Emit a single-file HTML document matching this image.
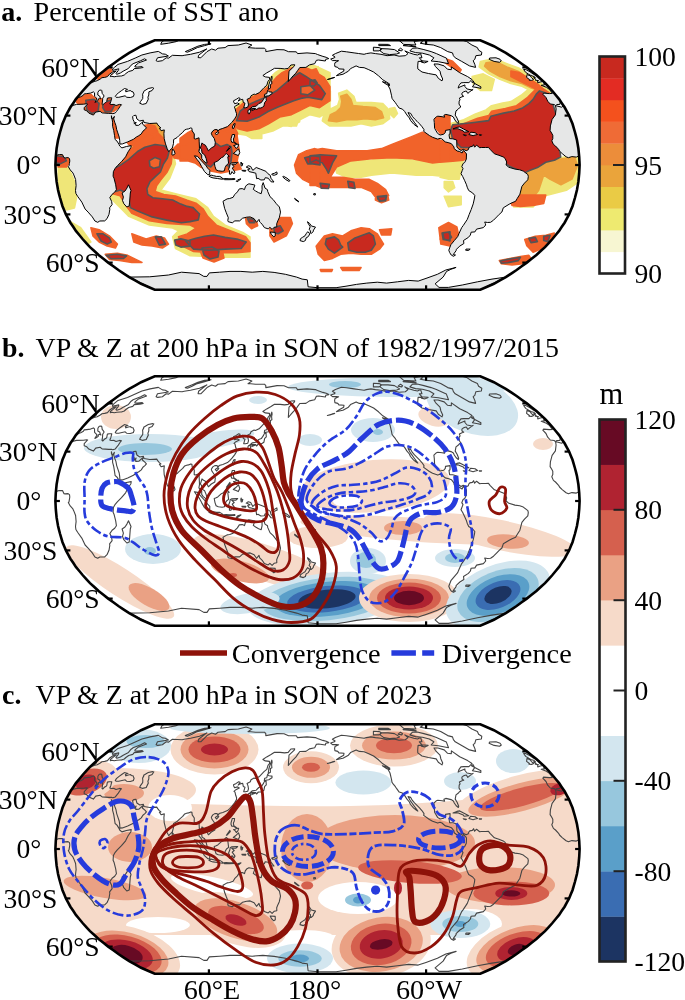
<!DOCTYPE html>
<html><head><meta charset="utf-8"><title>Figure</title><style>html,body{margin:0;padding:0;background:#fff;width:685px;height:1000px;overflow:hidden}svg{display:block}</style></head><body>
<svg width="685" height="1000" viewBox="0 0 685 1000">
<rect width="685" height="1000" fill="#fff"/>
<clipPath id="clipa"><path d="M154.7,40.2 L163.7,40.2 L172.8,40.2 L181.8,40.2 L190.8,40.2 L199.9,40.2 L208.9,40.2 L218.0,40.2 L227.0,40.2 L236.1,40.2 L245.1,40.2 L254.2,40.2 L263.2,40.2 L272.3,40.2 L281.3,40.2 L290.4,40.2 L299.4,40.2 L308.5,40.2 L317.5,40.2 L326.5,40.2 L335.6,40.2 L344.6,40.2 L353.7,40.2 L362.7,40.2 L371.8,40.2 L380.8,40.2 L389.9,40.2 L398.9,40.2 L408.0,40.2 L417.0,40.2 L426.1,40.2 L435.1,40.2 L444.2,40.2 L453.2,40.2 L462.2,40.2 L471.3,40.2 L480.3,40.2 L480.3,40.2 L487.1,43.2 L493.9,46.2 L499.9,49.6 L505.8,52.9 L511.2,56.4 L516.6,60.0 L521.7,63.7 L526.8,67.4 L531.6,71.2 L536.4,75.0 L540.7,79.0 L545.0,82.9 L548.7,86.9 L552.4,91.0 L555.7,95.0 L559.1,99.1 L561.8,103.2 L564.6,107.3 L566.8,111.4 L569.1,115.6 L570.8,119.7 L572.5,123.8 L573.7,127.9 L574.9,132.0 L576.0,136.2 L577.0,140.3 L577.7,144.4 L578.4,148.5 L578.8,152.6 L579.2,156.8 L579.4,160.9 L579.6,165.0 L579.4,169.1 L579.2,173.2 L578.8,177.4 L578.4,181.5 L577.7,185.6 L577.0,189.7 L576.0,193.8 L574.9,198.0 L573.7,202.1 L572.5,206.2 L570.8,210.3 L569.1,214.4 L566.8,218.6 L564.6,222.7 L561.8,226.8 L559.1,230.9 L555.7,235.0 L552.4,239.0 L548.7,243.1 L545.0,247.1 L540.7,251.0 L536.4,255.0 L531.6,258.8 L526.8,262.6 L521.7,266.3 L516.6,270.0 L511.2,273.6 L505.8,277.1 L499.9,280.4 L493.9,283.8 L487.1,286.8 L480.3,289.8 L480.3,289.8 L471.3,289.8 L462.2,289.8 L453.2,289.8 L444.2,289.8 L435.1,289.8 L426.1,289.8 L417.0,289.8 L408.0,289.8 L398.9,289.8 L389.9,289.8 L380.8,289.8 L371.8,289.8 L362.7,289.8 L353.7,289.8 L344.6,289.8 L335.6,289.8 L326.5,289.8 L317.5,289.8 L308.5,289.8 L299.4,289.8 L290.4,289.8 L281.3,289.8 L272.3,289.8 L263.2,289.8 L254.2,289.8 L245.1,289.8 L236.1,289.8 L227.0,289.8 L218.0,289.8 L208.9,289.8 L199.9,289.8 L190.8,289.8 L181.8,289.8 L172.8,289.8 L163.7,289.8 L154.7,289.8 L154.7,289.8 L147.9,286.8 L141.1,283.8 L135.1,280.4 L129.2,277.1 L123.8,273.6 L118.4,270.0 L113.3,266.3 L108.2,262.6 L103.4,258.8 L98.6,255.0 L94.3,251.0 L90.0,247.1 L86.3,243.1 L82.6,239.0 L79.3,235.0 L75.9,230.9 L73.2,226.8 L70.4,222.7 L68.2,218.6 L65.9,214.4 L64.2,210.3 L62.5,206.2 L61.3,202.1 L60.1,198.0 L59.0,193.8 L58.0,189.7 L57.3,185.6 L56.6,181.5 L56.2,177.4 L55.8,173.2 L55.6,169.1 L55.4,165.0 L55.6,160.9 L55.8,156.8 L56.2,152.6 L56.6,148.5 L57.3,144.4 L58.0,140.3 L59.0,136.2 L60.1,132.0 L61.3,127.9 L62.5,123.8 L64.2,119.7 L65.9,115.6 L68.2,111.4 L70.4,107.3 L73.2,103.2 L75.9,99.1 L79.3,95.0 L82.6,91.0 L86.3,86.9 L90.0,82.9 L94.3,79.0 L98.6,75.0 L103.4,71.2 L108.2,67.4 L113.3,63.7 L118.4,60.0 L123.8,56.4 L129.2,52.9 L135.1,49.6 L141.1,46.2 L147.9,43.2 L154.7,40.2 Z"/></clipPath>
<g clip-path="url(#clipa)">
<rect x="0" y="35.0" width="685" height="260" fill="#fff"/>
<path d="M310.0,68.7 318.2,66.6 322.3,78.9 330.4,91.1 330.4,101.4 322.3,105.4 310.0,105.4ZM338.6,93.2 346.8,90.1 353.9,96.2 356.0,102.4 371.3,102.4 382.6,103.4 388.7,109.5 389.7,118.7 382.6,123.8 371.3,125.9 361.1,123.8 350.9,125.9 340.7,125.9 329.4,125.9 322.3,120.8 324.3,112.6 331.5,108.5 337.6,105.4 339.6,99.3ZM389.7,108.5 394.8,107.5 397.5,113.6 393.8,117.7 390.7,114.6ZM440.0,160.2 452.7,161.3 463.3,160.2 461.2,170.8 459.1,179.3 448.5,179.3 440.0,177.2ZM444.2,181.4 452.7,181.4 454.8,187.7 448.5,192.0 444.2,187.7ZM444.2,196.2 461.2,196.2 461.2,204.7 448.5,206.8ZM334.5,160.9 371.3,159.9 391.8,157.8 412.2,159.9 432.6,162.9 450.0,165.0 450.0,177.2 432.6,175.2 416.3,175.2 391.8,173.1 371.3,175.2 361.1,177.2 346.8,177.2 336.6,173.1ZM237.2,120.0 261.8,120.0 261.8,138.4 251.5,138.4 241.3,132.3ZM280.1,120.0 298.5,120.0 296.5,126.1 282.2,126.1ZM58.2,167.0 68.4,167.0 74.5,181.3 76.6,197.7 74.5,207.9 66.4,209.9 60.2,201.8 58.2,187.4ZM70.4,221.6 80.7,227.7 90.9,242.0 86.8,244.1 76.6,233.8 70.4,225.7ZM62.3,195.0 76.6,195.0 74.5,203.2 66.4,203.2ZM106.9,163.8 134.7,143.4 146.4,133.1 160.9,130.2 172.6,149.2 175.5,163.8 169.7,178.4 160.9,190.1 178.5,194.5 196.0,198.8 207.7,207.6 213.5,216.4 225.2,225.1 242.7,232.4 250.0,236.8 250.0,257.2 225.2,257.2 190.1,255.8 175.5,248.5 172.6,236.8 178.5,230.9 172.6,228.0 149.3,225.1 128.8,216.4 123.0,210.5 108.4,195.9ZM449.9,123.8 463.8,119.6 474.9,114.1 486.0,109.9 491.5,105.7 502.6,103.0 510.9,101.6 522.0,94.6 530.4,87.7 538.7,84.9 549.8,90.5 555.3,118.2 555.3,159.8 449.9,159.8ZM480.4,61.4 494.3,58.6 508.2,64.1 519.3,68.3 530.4,75.2 538.7,80.8 547.0,89.1 540.1,93.2 530.4,90.5 522.0,86.3 510.9,83.5 499.9,79.4 488.8,73.8 479.1,66.9ZM472.1,76.6 483.2,73.8 494.3,79.4 491.5,90.5 480.4,90.5 473.5,84.9ZM516.5,168.1 544.2,161.2 577.5,154.3 578.9,182.0 566.4,190.3 544.2,195.9 533.1,207.0 513.7,207.0ZM230.7,128.8 233.1,110.1 244.7,98.4 256.4,91.4 265.8,82.0 275.1,72.7 284.5,66.9 296.1,63.4 314.8,65.7 330.0,72.7 330.0,110.1 319.5,117.1 310.1,114.7 300.8,119.4 291.5,121.8 282.1,126.4 272.8,131.1 263.4,133.4 249.4,135.8 235.4,133.4ZM279.8,110.1 291.5,107.7 300.8,112.4 299.6,121.8 291.5,126.4 282.1,125.3Z" fill="#efe678" stroke="#efe678" stroke-width="1.5" stroke-linejoin="round"/>
<path d="M150.0,124.0 158.0,122.0 166.0,121.0 170.0,128.0 167.0,138.0 160.0,143.0 152.0,141.0ZM340.7,96.2 346.8,94.2 350.9,99.3 352.9,105.4 363.1,106.5 375.4,107.5 381.5,111.6 383.6,117.7 375.4,119.8 365.2,118.7 357.0,119.8 346.8,119.8 336.6,121.8 328.4,120.8 330.4,114.6 336.6,111.6 340.7,107.5 341.7,101.4ZM486.0,62.7 495.7,61.4 506.8,66.9 517.9,71.1 527.6,78.0 535.9,82.7 542.8,89.1 538.7,90.5 530.4,87.7 522.0,83.5 510.9,80.8 499.9,76.6 490.1,71.1 484.6,66.1ZM519.3,170.9 530.4,168.1 538.7,165.4 544.2,173.7 538.7,190.3 530.4,201.4 519.3,204.2 513.7,198.6 522.0,187.6ZM538.7,162.6 555.3,159.8 574.7,157.0 577.5,165.4 572.0,179.2 560.9,184.8 549.8,179.2 541.5,173.7Z" fill="#eca23c" stroke="#eca23c" stroke-width="1.5" stroke-linejoin="round"/>
<path d="M198.0,246.0 210.0,244.0 222.0,249.0 224.0,258.0 214.0,262.0 203.0,258.0ZM126.0,141.0 133.0,131.0 141.0,126.0 149.0,124.5 155.0,126.0 158.0,132.0 152.0,140.0 140.0,145.0 130.0,146.0ZM172.0,150.0 178.0,144.0 186.0,145.0 194.0,141.0 203.0,138.0 208.0,150.0 205.0,160.0 195.0,163.0 185.0,160.0 174.0,158.0ZM76.6,99.3 82.7,95.2 90.9,94.2 93.9,97.3 99.1,98.3 103.1,99.3 109.3,98.3 115.4,101.4 120.5,105.4 117.4,108.5 113.4,111.6 107.2,112.6 101.1,111.6 97.0,115.7 90.9,114.6 84.7,111.6 80.7,105.4 76.6,102.4ZM96.0,77.9 103.1,71.7 111.3,68.7 112.3,73.8 105.2,77.9 99.1,79.9ZM110.9,114.0 113.8,114.0 118.5,137.9 115.4,137.9ZM310.0,70.7 316.1,68.7 319.2,74.8 322.3,85.0 328.4,91.1 327.4,99.3 320.2,103.4 312.0,103.4 310.0,99.3ZM434.7,115.7 442.8,113.6 450.0,114.6 450.0,134.1 440.8,134.1 435.7,127.9ZM444.2,58.1 452.7,61.3 461.2,69.8 459.1,72.9 450.6,66.6 443.2,61.3ZM440.0,143.3 446.4,144.3 459.1,149.6 463.3,153.9 463.3,160.2 452.7,161.3 440.0,162.3ZM310.0,150.7 322.3,148.6 336.6,150.7 350.9,150.7 367.2,150.7 381.5,148.6 391.8,144.5 402.0,140.4 412.2,136.4 422.4,132.3 432.6,136.4 440.8,140.4 450.0,142.5 450.0,160.9 432.6,162.9 412.2,158.8 391.8,157.8 371.3,158.8 350.9,160.9 336.6,167.0 330.4,177.2 322.3,185.4 310.0,185.4ZM310.0,167.0 318.2,167.0 330.4,177.2 342.7,177.2 355.0,179.3 369.3,179.3 377.4,183.4 385.6,189.5 388.7,195.6 383.6,201.8 377.4,199.7 371.3,191.5 361.1,187.4 350.9,187.4 340.7,187.4 330.4,187.4 320.2,187.4 310.0,183.4ZM188.2,132.3 196.4,128.2 210.7,126.1 220.9,130.2 231.1,132.3 237.2,136.4 239.3,150.7 237.2,160.9 241.3,169.1 231.1,171.1 220.9,173.1 210.7,171.1 200.4,167.0 192.3,160.9 180.0,160.9 180.0,138.4ZM298.5,154.7 306.7,150.7 314.9,148.6 320.0,150.7 320.0,185.4 310.8,183.4 302.6,179.3 296.5,173.1 294.5,165.0ZM56.1,154.7 68.4,156.8 70.4,160.9 66.4,167.0 58.2,167.0ZM90.9,227.7 99.1,229.7 109.3,235.9 117.4,244.1 115.4,248.1 107.2,246.1 99.1,242.0 92.9,235.9ZM105.2,254.3 117.4,253.2 127.7,255.3 135.8,259.4 142.0,262.4 131.8,262.4 119.5,260.4 109.3,259.4ZM131.8,233.8 137.9,235.9 146.1,238.9 156.3,235.9 164.5,237.9 168.5,244.1 162.4,248.1 152.2,246.1 142.0,245.1 133.8,242.0ZM245.4,217.5 255.6,217.5 257.7,225.7 251.5,228.7 246.4,223.6ZM269.9,225.7 278.1,217.5 290.4,217.5 292.4,223.6 286.3,235.9 274.0,242.0 269.9,235.9ZM316.1,246.1 324.3,235.9 332.5,233.8 342.7,235.9 350.9,230.8 361.1,227.7 369.3,228.7 377.4,233.8 383.6,244.1 379.5,249.2 371.3,254.3 361.1,254.3 350.9,253.2 340.7,254.3 332.5,258.4 324.3,260.4 318.2,254.3ZM375.4,195.0 387.7,195.0 388.7,200.1 381.5,202.8 375.4,200.1ZM379.5,229.7 391.8,228.7 390.7,234.9 381.5,234.9ZM320.2,269.6 332.5,269.6 331.5,271.6 321.2,271.6ZM340.7,267.6 361.1,267.6 359.1,270.6 342.7,270.6ZM438.8,227.7 450.0,223.6 450.0,246.1 440.8,244.1ZM440.0,226.8 448.5,222.5 456.9,226.8 459.1,237.3 452.7,243.7 444.2,243.7 440.0,239.5ZM509.9,199.2 518.3,195.0 545.8,195.0 543.7,203.5 533.1,205.6 520.4,206.6 512.0,205.6ZM524.7,239.5 535.3,236.3 545.8,235.2 554.3,233.1 552.2,241.6 543.7,247.9 533.1,252.2 526.8,245.8ZM499.3,260.6 509.9,258.5 520.4,256.4 528.9,255.3 531.0,258.5 522.6,263.8 512.0,264.9 501.4,263.8ZM108.4,166.7 117.2,160.9 125.9,152.1 134.7,146.3 137.6,140.4 146.4,136.1 158.0,133.1 165.3,140.4 169.7,147.7 172.6,152.1 171.2,163.8 166.8,172.6 160.9,179.9 156.6,185.7 155.1,191.5 163.9,194.5 175.5,195.9 187.2,200.3 196.0,203.2 203.3,209.1 207.7,216.4 216.4,225.1 231.0,230.9 245.6,236.8 250.0,242.6 250.0,251.4 236.9,252.8 213.5,252.8 193.1,251.4 181.4,245.5 178.5,236.8 187.2,233.9 196.0,228.0 190.1,225.1 166.8,223.6 149.3,220.7 131.8,213.4 127.4,207.6 120.1,195.9 109.9,193.0ZM451.3,126.5 463.8,123.8 477.7,118.2 488.8,115.4 491.5,111.3 505.4,108.5 516.5,105.7 527.6,97.4 535.9,89.1 541.5,87.7 549.8,93.2 555.3,118.2 555.3,159.8 451.3,159.8ZM510.9,71.1 519.3,72.4 530.4,79.4 538.7,84.9 544.2,89.9 538.7,90.5 530.4,86.3 519.3,80.8 510.9,76.6ZM233.1,124.1 235.4,110.1 247.1,99.6 258.8,93.7 268.1,86.7 276.3,77.4 282.1,72.7 291.5,68.0 300.8,65.7 312.5,70.4 324.2,77.4 330.0,86.7 330.0,100.7 319.5,107.7 310.1,105.4 300.8,110.1 291.5,114.7 279.8,117.1 268.1,124.1 258.8,128.8 247.1,131.1 237.7,128.8ZM212.0,131.1 221.4,126.4 233.1,124.1 237.7,133.4 235.4,142.8 233.1,149.8 223.7,149.8 216.7,142.8Z" fill="#f1632a" stroke="#f1632a" stroke-width="1.5" stroke-linejoin="round"/>
<path d="M202.0,248.0 212.0,247.0 219.0,251.0 218.0,257.0 210.0,259.0 204.0,255.0ZM85.8,100.3 93.9,99.3 99.1,103.4 98.0,111.6 91.9,113.6 86.8,109.5ZM103.5,102.4 110.3,100.3 114.4,105.4 111.3,111.6 105.2,111.6 102.7,107.5ZM310.0,80.9 315.1,79.9 317.2,83.0 314.1,86.0 310.0,86.0ZM310.0,155.8 320.2,154.7 336.6,155.8 332.5,162.9 328.4,173.1 326.4,169.1 322.3,162.9 316.1,159.9 310.0,162.9ZM320.2,183.4 329.4,184.4 328.4,188.5 321.2,188.1ZM347.8,181.3 353.9,182.3 355.0,188.5 348.8,187.4ZM377.4,196.6 386.6,195.6 385.6,200.7 379.5,201.3ZM200.4,142.5 206.6,140.4 214.7,142.5 220.9,146.6 227.0,144.5 231.1,146.6 232.1,152.7 231.1,160.9 229.1,167.0 225.0,162.9 220.9,160.9 214.7,162.9 210.7,167.0 206.6,165.0 202.5,156.8 199.4,150.7ZM304.7,157.8 312.8,155.8 320.0,156.8 320.0,165.0 312.8,163.9 307.7,163.9ZM56.1,155.8 64.3,156.8 66.4,160.9 60.2,163.9 56.1,162.9ZM97.0,233.8 103.1,233.8 109.3,237.9 111.3,242.0 107.2,244.1 101.1,241.0ZM106.2,255.3 117.4,254.3 126.6,255.9 123.6,258.4 111.3,258.8ZM155.3,236.9 161.4,236.9 165.5,244.1 159.3,245.1ZM174.7,240.0 180.8,238.9 190.0,241.0 190.0,246.1 180.8,247.1 175.7,245.1ZM247.4,218.5 253.6,219.1 254.6,222.6 249.5,222.6ZM274.0,227.7 280.1,225.7 283.2,230.8 278.1,233.8 274.4,232.8ZM326.4,238.9 334.5,236.9 338.6,240.0 340.7,245.1 342.7,247.1 338.6,250.2 334.5,253.2 328.4,249.2 325.3,244.1ZM347.8,243.0 355.0,237.9 363.1,234.9 369.3,232.8 373.4,235.9 375.4,244.1 371.3,250.2 365.2,252.2 357.0,252.2 348.8,250.2ZM377.4,196.6 385.6,196.6 386.0,199.5 381.5,201.1 377.9,199.1ZM442.8,232.8 450.0,231.8 450.0,241.0 443.9,238.9ZM442.1,233.1 448.5,232.0 451.6,237.3 448.5,240.5 443.2,239.5ZM528.9,238.4 535.3,237.3 537.4,241.6 531.0,242.6ZM543.7,236.3 550.1,235.2 548.0,241.6 543.7,240.5ZM500.3,261.0 512.0,258.5 520.4,257.4 518.3,260.6 507.7,262.7 501.4,263.2ZM108.4,171.1 120.1,165.3 128.8,159.4 137.6,151.5 144.9,147.2 155.1,144.5 164.5,145.7 169.1,151.5 167.4,158.0 163.3,164.4 160.4,172.0 155.1,176.9 149.9,181.9 146.9,188.6 147.8,194.5 152.8,197.7 162.4,198.8 172.6,200.0 180.8,204.1 187.2,206.4 193.1,207.6 199.5,214.0 198.3,219.9 190.1,221.6 181.4,222.8 166.8,220.1 152.2,216.9 137.6,211.1 130.3,207.6 129.4,201.8 126.5,193.0 120.1,190.1 115.7,191.5 108.4,190.1ZM185.8,241.2 196.0,238.2 204.7,236.2 213.5,235.0 225.2,237.4 236.9,239.1 246.2,242.0 241.2,248.5 225.2,249.1 209.1,250.2 193.6,249.1ZM236.6,120.6 240.1,111.2 249.4,104.2 265.8,97.2 277.4,90.2 285.6,83.2 292.6,76.9 299.6,72.7 305.5,76.2 312.5,80.9 319.5,85.5 325.3,93.7 321.8,99.6 314.8,98.4 307.8,97.2 300.8,98.4 293.8,100.7 286.8,103.5 277.4,107.3 268.1,111.5 258.8,117.1 247.1,121.3ZM452.7,124.8 471.8,122.7 488.7,120.6 490.8,116.3 503.5,113.1 514.1,111.0 522.6,107.9 528.9,103.6 533.1,99.4 536.3,94.1 539.5,90.9 545.8,93.0 552.2,101.5 558.5,122.7 558.5,141.2 560.7,157.0 554.3,160.2 545.8,162.3 537.4,167.6 528.9,170.8 524.7,172.9 509.9,166.6 492.9,153.9 471.8,147.5 461.2,147.5 452.7,139.1 450.6,130.6Z" fill="#c8291f" stroke="#555" stroke-width="1.6" stroke-linejoin="round"/>
<path d="M149.3,160.9 155.1,157.4 160.4,159.4 159.5,166.7 153.6,168.2 149.9,166.1ZM300.8,86.7 310.1,85.5 314.8,90.2 307.8,94.9 300.8,93.7Z" fill="#f1632a" stroke="#555" stroke-width="1.6" stroke-linejoin="round"/>
<path d="M63.2,106.0 60.1,109.0 52.8,114.9 45.7,119.4 39.1,125.9 36.1,130.6 36.2,133.0 36.3,135.3 34.7,138.6 32.7,140.8 33.0,144.4 34.6,146.0 36.7,149.3 37.2,151.0 39.4,153.6 42.7,156.8 44.8,157.7 48.5,156.6 52.8,157.1 55.9,155.8 57.7,154.9 59.5,154.5 62.5,154.6 63.9,157.6 65.2,157.9 68.1,157.6 69.5,158.6 69.8,161.0 69.4,163.4 69.0,165.8 68.3,166.6 70.2,169.9 72.9,172.9 73.8,174.9 75.6,179.5 76.1,185.6 75.5,190.5 75.9,193.5 77.6,196.3 81.8,202.1 85.1,209.0 88.1,212.1 92.3,216.9 94.9,221.0 97.7,222.3 99.8,221.0 104.7,220.9 107.0,218.7 109.0,214.3 109.8,209.5 109.6,207.8 112.1,204.6 111.6,201.3 109.8,197.6 112.1,194.3 114.7,192.2 116.4,189.7 115.7,184.8 114.0,178.2 113.1,176.2 113.4,171.6 115.2,168.3 117.3,165.8 121.5,161.7 125.6,156.8 128.1,151.8 130.9,147.7 131.2,145.6 126.4,146.5 121.9,147.9 119.7,146.0 119.0,144.4 117.0,141.1 115.1,139.5 114.5,135.3 113.7,130.4 112.6,126.3 112.6,122.2 112.1,119.2 111.4,115.7 111.5,118.0 112.5,119.2 114.4,116.4 113.7,118.9 114.7,122.2 115.9,125.4 116.7,129.6 117.8,132.9 119.2,137.0 119.7,140.3 119.9,144.1 122.4,143.9 127.7,141.9 133.4,139.3 136.4,137.0 138.8,135.7 141.3,133.9 142.9,131.2 144.9,129.6 146.4,127.9 144.9,126.1 142.4,124.0 142.8,121.8 141.3,123.0 138.7,125.3 135.8,125.4 135.6,123.3 136.1,122.0 134.4,124.1 134.2,121.8 133.1,119.7 132.6,116.7 133.7,115.6 135.9,115.2 136.9,119.0 139.8,121.0 143.3,120.2 144.0,122.5 149.8,123.5 156.9,123.1 157.3,124.1 159.1,126.3 160.9,127.9 159.4,128.3 161.1,130.7 164.3,129.9 163.9,133.7 164.2,138.6 165.5,143.9 167.2,148.7 168.8,151.7 169.8,150.3 172.3,148.0 173.5,143.4 173.6,139.5 177.0,137.6 178.7,135.8 182.7,132.4 184.7,129.9 186.6,129.2 188.5,128.9 190.8,127.9 191.9,128.3 192.2,130.9 194.3,134.0 194.2,138.6 195.6,139.0 199.0,137.8 199.2,141.9 199.5,148.5 198.9,151.8 201.7,155.1 201.7,158.4 203.0,160.4 206.1,162.9 207.2,162.7 206.1,158.4 204.6,154.8 202.1,153.1 201.5,149.3 200.4,148.0 202.0,142.9 203.2,144.1 205.4,145.2 206.8,147.7 208.4,150.8 211.3,148.0 214.8,146.0 215.3,142.3 214.3,138.5 212.0,135.3 211.3,133.2 212.8,130.9 214.8,129.6 217.2,129.6 218.0,131.5 219.1,129.6 222.8,128.4 227.5,126.6 229.7,124.6 232.0,122.2 234.6,118.9 236.4,115.9 236.6,113.7 235.7,111.3 235.0,108.1 234.0,107.3 235.9,105.7 239.3,104.0 237.5,102.9 234.6,103.7 233.7,101.9 233.5,100.8 236.2,99.4 238.7,97.8 240.1,98.3 238.2,101.1 240.2,99.9 242.7,99.3 243.3,102.4 245.0,103.2 243.7,107.7 245.4,107.8 247.7,107.2 248.5,104.9 248.0,101.9 247.0,99.4 250.3,97.8 251.0,95.8 254.1,94.1 255.4,94.5 259.1,92.8 264.0,87.7 266.8,85.3 268.0,81.3 269.5,79.5 269.5,77.4 265.3,76.9 262.9,75.5 266.7,72.9 270.6,70.7 274.5,68.3 280.1,68.4 284.6,68.9 288.2,68.4 290.9,65.0 294.7,64.7 294.5,65.9 289.0,71.2 288.3,81.5 291.1,78.2 293.1,75.8 295.8,73.2 297.7,70.4 299.8,67.5 305.9,67.4 309.5,64.9 314.7,63.7 316.4,60.3 318.6,60.0 325.3,61.0 325.8,59.3 328.8,58.6 326.2,57.3 322.9,56.4 317.5,54.5 315.4,53.6 307.0,52.9 297.5,53.6 296.3,51.8 288.5,51.7 284.0,49.8 277.0,49.6 265.8,51.6 265.8,49.6 264.5,48.2 255.5,48.2 250.8,47.8 248.0,47.6 251.9,45.0 246.1,43.0 238.4,45.0 228.0,45.6 225.1,47.6 218.0,48.2 215.5,50.2 214.0,49.7 211.7,49.0 207.0,51.6 200.8,57.8 198.1,57.6 198.6,55.3 206.8,48.9 199.5,52.2 190.5,54.3 184.2,55.3 182.1,55.7 172.4,55.3 168.6,58.1 166.2,57.8 162.4,60.7 157.7,61.4 156.1,60.7 157.5,57.8 168.4,56.0 165.3,54.2 162.5,53.9 158.3,51.4 150.1,52.9 141.9,55.0 135.8,57.8 127.5,61.4 118.0,64.4 114.4,67.4 112.5,69.1 112.7,70.4 118.8,68.8 118.6,69.7 118.0,70.9 115.9,73.5 116.9,74.3 120.4,73.0 123.2,71.2 128.5,68.4 131.1,65.2 133.1,63.7 140.7,60.7 144.6,58.8 146.5,60.0 138.6,62.9 135.0,65.9 134.9,66.9 137.6,67.1 142.2,66.6 143.1,67.5 139.9,68.1 134.2,68.6 132.8,70.4 128.7,71.5 125.9,73.5 124.3,75.0 121.4,76.0 120.3,76.0 116.8,76.3 114.2,76.8 111.9,76.3 110.3,76.6 110.5,75.4 116.3,70.9 112.9,71.8 109.4,74.3 107.5,76.6 104.7,77.4 101.9,77.7 100.3,79.0 97.2,80.7 94.9,81.3 92.9,82.1 89.4,83.7 87.5,83.6 86.1,84.9 81.8,85.3 83.4,87.3 82.5,89.4 78.6,93.4 75.2,93.6 70.4,93.1 67.7,94.2 65.5,97.5 61.7,101.2 60.5,104.0 63.7,104.5 63.9,105.7 66.3,104.5 69.7,104.4 73.4,101.9 74.9,101.1 75.0,99.9 78.5,97.5 80.7,96.8 83.4,95.2 84.2,93.9 86.8,93.6 90.5,93.1 93.5,91.9 94.5,92.8 94.6,96.3 96.1,97.8 97.0,99.1 94.9,102.4 96.6,101.6 98.4,100.1 98.2,99.1 99.6,98.3 100.9,98.9 100.1,97.3 99.6,96.0 97.8,95.0 97.9,92.3 99.2,90.3 101.3,90.0 101.8,90.6 102.2,93.4 103.4,94.9 104.1,96.0 102.7,98.3 102.6,99.9 102.4,102.1 102.0,104.4 102.7,105.0 105.1,102.6 105.7,102.6 106.7,101.6 107.4,98.1 109.1,97.8 111.8,97.8 111.5,98.9 110.8,101.7 109.8,104.0 111.1,104.5 114.1,104.4 116.0,105.5 119.5,104.4 121.5,104.7 120.0,106.5 118.3,109.1 116.5,111.4 115.3,112.9 112.8,113.7 112.0,113.4 108.8,113.4 102.1,112.9 100.1,111.3 95.7,112.1 93.4,115.1 88.8,113.1 86.8,110.8 84.2,109.8 84.2,107.7 87.6,104.0 86.7,103.7 83.4,104.2 76.5,104.4 71.4,105.8 67.8,107.2 64.2,105.8ZM555.6,106.0 556.1,109.0 555.4,114.9 552.1,119.4 550.4,125.9 550.1,130.6 551.6,133.0 552.8,135.3 552.8,138.6 551.8,140.8 553.4,144.4 555.5,146.0 558.6,149.3 559.5,151.0 562.2,153.6 566.1,156.8 568.4,157.7 571.9,156.6 576.3,157.1 579.1,155.8 580.8,154.9 582.5,154.5 585.6,154.6 587.4,157.6 588.7,157.9 591.6,157.6 593.1,158.6 593.7,161.0 593.5,163.4 593.1,165.8 592.3,166.6 593.9,169.9 596.4,172.9 596.9,174.9 597.7,179.5 596.5,185.6 594.1,190.5 593.0,193.5 593.2,196.3 594.2,202.1 592.8,209.0 593.2,212.1 592.8,216.9 590.8,221.0 592.2,222.3 595.8,221.0 600.9,220.9 605.5,218.7 612.4,214.3 617.1,209.5 618.3,207.8 623.1,204.6 624.6,201.3 624.8,197.6 628.8,194.3 632.5,192.2 635.4,189.7 636.4,184.8 636.5,178.2 636.0,176.2 637.0,171.6 639.1,168.3 641.4,165.8 645.4,161.7 649.0,156.8 650.6,151.8 652.4,147.7 651.9,145.6 647.5,146.5 643.5,147.9 640.6,146.0 639.4,144.4 636.3,141.1 633.7,139.5 631.0,135.3 627.6,130.4 624.1,126.3 621.3,122.2 618.3,119.2 614.8,115.7 616.7,118.0 618.7,119.2 618.3,116.4 619.7,118.9 623.4,122.2 626.9,125.4 630.1,129.6 633.1,132.9 636.5,137.0 638.7,140.3 640.2,144.1 642.6,143.9 647.3,141.9 651.9,139.3 653.8,137.0 655.5,135.7 657.0,133.9 657.3,131.2 658.4,129.6 658.9,127.9 656.3,126.1 652.5,124.0 651.2,121.8 650.7,123.0 649.6,125.3 646.8,125.4 645.2,123.3 644.7,122.0 644.6,124.1 642.6,121.8 639.8,119.7 636.8,116.7 636.9,115.6 638.8,115.2 642.9,119.0 647.5,121.0 650.3,120.2 653.0,122.5 659.6,123.5 666.4,123.1 667.6,124.1 670.6,126.3 673.4,127.9 672.1,128.3 675.2,130.7 677.9,129.9 679.6,133.7 682.4,138.6 685.7,143.9 689.0,148.7 691.2,151.7 692.0,150.3 693.9,148.0 693.5,143.4 692.2,139.5 694.7,137.6 695.4,135.8 697.8,132.4 698.3,129.9 699.9,129.2 701.6,128.9 703.3,127.9 704.6,128.3 706.4,130.9 710.1,134.0 712.3,138.6 713.9,139.0 716.7,137.8 718.7,141.9 721.3,148.5 721.4,151.8 724.8,155.1 725.3,158.4 726.8,160.4 730.2,162.9 731.2,162.7 729.7,158.4 727.7,154.8 724.8,153.1 723.5,149.3 722.0,148.0 721.8,142.9 723.4,144.1 726.1,145.2 728.3,147.7 730.7,150.8 732.9,148.0 735.7,146.0 734.9,142.3 732.4,138.5 728.6,135.3 726.7,133.2 727.0,130.9 728.2,129.6 730.7,129.6 732.6,131.5 732.5,129.6 735.5,128.4 739.2,126.6 740.2,124.6 740.7,122.2 740.5,118.9 739.9,115.9 737.8,113.7 734.2,111.3 730.1,108.1 728.2,107.3 727.9,105.7 729.0,104.0 725.7,102.9 723.9,103.7 720.5,101.9 718.8,100.8 719.8,99.4 719.6,97.8 721.9,98.3 723.9,101.1 724.4,99.9 726.0,99.3 730.8,102.4 733.7,103.2 738.3,107.7 740.1,107.8 741.6,107.2 739.4,104.9 734.9,101.9 730.5,99.4 731.3,97.8 728.8,95.8 728.9,94.1 731.0,94.5 731.8,92.8 727.9,87.7 726.2,85.3 719.5,81.3 716.9,79.5 712.4,77.4 707.2,76.9 701.6,75.5 699.1,72.9 697.7,70.7 695.4,68.3 701.3,68.4 707.1,68.9 709.5,68.4 703.0,65.0 705.9,64.7 709.0,65.9 717.1,71.2 740.1,81.5 735.7,78.2 732.5,75.8 729.0,73.2 724.0,70.4 718.8,67.5 724.5,67.4 721.2,64.9 723.1,63.7 715.4,60.3 716.8,60.0 726.4,61.0 721.8,59.3 722.7,58.6 716.2,57.3 710.3,56.4 698.9,54.5 694.2,53.6 683.7,52.9 676.4,53.6 669.1,51.8 660.9,51.7 649.7,49.8 641.8,49.6 637.8,51.6 630.6,49.6 624.5,48.2 615.5,48.2 609.4,47.8 605.6,47.6 599.3,45.0 584.3,43.0 585.8,45.0 578.2,45.6 582.8,47.6 578.0,48.2 582.7,50.2 579.3,49.7 574.5,49.0 578.9,51.6 592.6,57.8 589.0,57.6 582.6,55.3 569.2,48.9 573.8,52.2 571.5,54.3 568.2,55.3 567.4,55.7 556.4,55.3 561.3,58.1 558.0,57.8 562.7,60.7 560.0,61.4 556.3,60.7 549.3,57.8 554.6,56.0 545.8,54.2 542.2,53.9 529.7,51.4 526.8,52.9 525.0,55.0 527.5,57.8 529.8,61.4 528.4,64.4 533.0,67.4 535.4,69.1 538.9,70.4 540.8,68.8 543.0,69.7 545.4,70.9 549.8,73.5 552.7,74.3 553.1,73.0 551.3,71.2 549.8,68.4 543.6,65.2 541.6,63.7 541.0,60.7 539.3,58.8 544.7,60.0 545.0,62.9 549.5,65.9 552.3,66.9 555.4,67.1 558.8,66.6 562.2,67.5 560.5,68.1 555.9,68.6 559.0,70.4 557.6,71.5 559.8,73.5 562.0,75.0 561.2,76.0 560.1,76.0 557.3,76.3 555.7,76.8 552.4,76.3 551.4,76.6 548.9,75.4 543.7,70.9 542.6,71.8 545.2,74.3 548.6,76.6 547.6,77.4 545.4,77.7 546.6,79.0 547.3,80.7 546.4,81.3 546.1,82.1 545.8,83.7 543.7,83.6 544.6,84.9 541.2,85.3 546.4,87.3 549.4,89.4 552.4,93.4 549.3,93.6 543.6,93.1 542.8,94.2 546.0,97.5 547.7,101.2 550.3,104.0 554.1,104.5 555.8,105.7 556.7,104.5 559.9,104.4 560.3,101.9 560.6,101.1 559.2,99.9 558.9,97.5 560.1,96.8 560.1,95.2 558.7,93.9 560.8,93.6 563.7,93.1 564.8,91.9 567.3,92.8 573.1,96.3 577.1,97.8 580.1,99.1 582.4,102.4 583.0,101.6 582.9,100.1 581.3,99.1 581.4,98.3 583.7,98.9 580.3,97.3 577.6,96.0 574.3,95.0 569.8,92.3 567.8,90.3 569.3,90.0 571.0,90.6 576.0,93.4 579.5,94.9 582.1,96.0 584.5,98.3 586.8,99.9 589.5,102.1 592.1,104.4 593.7,105.0 592.8,102.6 593.5,102.6 593.1,101.6 588.9,98.1 590.1,97.8 592.7,97.8 594.3,98.9 597.5,101.7 599.5,104.0 601.5,104.5 604.3,104.4 607.8,105.5 609.7,104.4 612.1,104.7 613.1,106.5 614.5,109.1 615.2,111.4 615.6,112.9 614.1,113.7 612.9,113.4 609.7,113.4 602.4,112.9 598.6,111.3 595.1,112.1 596.1,115.1 589.3,113.1 584.7,110.8 581.1,109.8 578.8,107.7 577.3,104.0 576.0,103.7 573.4,104.2 566.7,104.4 563.6,105.8 561.7,107.2 556.3,105.8ZM82.8,82.9 87.3,82.0 93.7,81.2 96.6,78.8 96.3,77.6 97.3,76.1 97.9,74.1 100.3,71.8 101.9,69.5 99.6,69.5 94.5,72.4 92.9,74.3 92.2,75.5 93.0,76.6 92.2,77.6 90.0,77.7 88.6,79.5 86.5,80.1 88.4,80.7 86.3,81.2ZM537.8,82.9 540.2,82.0 544.8,81.2 542.6,78.8 539.5,77.6 537.4,76.1 533.3,74.1 530.0,71.8 525.8,69.5 523.6,69.5 525.7,72.4 528.7,74.3 530.9,75.5 534.2,76.6 535.4,77.6 533.6,77.7 536.0,79.5 535.3,80.1 538.6,80.7 537.4,81.2ZM533.7,79.5 531.5,77.6 530.1,75.7 526.9,74.6 526.8,75.8 526.6,77.4 529.4,79.5 529.0,80.1 531.6,80.4ZM494.1,61.4 489.1,59.3 489.6,58.0 496.0,57.8 500.1,59.3 501.3,61.0 499.6,62.3ZM475.6,67.4 469.5,65.9 461.7,61.4 455.2,57.8 453.4,55.7 452.5,52.9 447.7,51.6 440.7,47.6 433.3,45.0 426.7,44.4 420.2,43.2 422.3,42.0 421.5,40.2 444.2,40.2 462.2,40.2 466.5,41.4 471.9,45.0 477.4,47.6 478.6,50.2 481.8,52.2 481.4,55.0 475.9,55.7 474.8,59.3 473.2,60.7 474.8,64.4ZM185.3,51.6 191.7,48.9 197.9,46.2 204.5,44.4 211.1,43.8 204.7,45.6 197.3,47.6 192.1,50.2 187.5,52.2ZM162.1,41.4 160.7,44.3 168.6,43.2 176.3,41.6 179.1,40.2 164.6,40.2ZM249.9,109.0 252.4,106.7 256.2,106.2 258.8,103.5 261.3,102.6 263.5,99.4 264.0,98.1 266.1,96.8 266.1,98.5 266.3,100.8 264.7,102.4 264.3,104.2 263.9,106.2 262.3,107.3 260.9,108.0 258.4,108.0 256.5,110.0 255.6,108.5 252.8,108.3 250.7,109.1ZM248.5,109.8 247.9,111.1 248.2,113.6 249.3,113.9 250.6,111.4 250.0,109.1ZM251.8,110.6 255.0,109.3 254.6,108.5 252.2,109.1ZM264.3,96.7 264.7,94.2 266.8,93.7 267.6,90.3 269.1,91.8 272.0,92.1 272.0,93.7 268.8,95.8 265.7,96.2ZM268.2,89.4 270.4,88.2 270.4,84.5 271.9,83.7 271.6,80.6 272.1,78.2 271.8,76.1 270.5,79.8 268.9,84.5ZM232.3,127.1 233.9,123.8 235.2,123.6 234.3,127.1 233.1,128.9ZM215.3,133.4 217.4,131.9 218.8,132.7 216.5,135.0ZM231.1,138.6 232.3,134.5 234.6,134.5 234.3,137.0 233.4,139.0 233.8,141.8 236.6,143.6 236.4,144.1 233.6,142.3 231.8,142.3 231.0,140.3ZM233.3,153.5 235.5,151.8 238.5,148.8 239.8,152.6 238.3,155.6 236.1,154.6ZM233.6,145.6 235.3,146.9 236.3,148.5 237.9,146.9 238.7,144.4 236.9,144.2 235.1,145.2ZM226.4,151.3 229.9,146.4 230.3,147.7 226.8,151.3ZM214.2,162.5 215.0,166.6 216.1,169.8 218.3,170.8 222.2,171.3 224.4,170.8 225.1,167.5 226.5,165.0 228.6,163.4 227.8,156.8 229.3,156.3 226.3,153.5 224.5,155.1 223.4,156.8 221.4,157.7 217.8,160.9 215.6,162.0ZM194.4,155.8 197.6,156.4 201.5,160.9 206.1,165.8 207.6,168.1 209.8,170.3 209.7,174.6 207.8,174.7 204.5,171.6 201.6,166.6 199.3,162.2 196.8,159.2ZM208.9,176.2 211.1,175.1 213.6,175.7 216.4,176.4 219.8,176.4 222.3,177.9 222.6,179.3 217.4,178.5 213.0,177.9 210.8,177.2ZM223.2,178.8 226.1,178.5 229.0,178.8 231.9,178.7 234.8,178.5 234.8,179.5 229.0,179.7 224.7,179.7ZM236.3,181.3 237.7,179.8 241.0,178.8 239.2,180.3 237.1,181.8ZM229.4,174.1 229.5,170.8 228.5,169.3 229.7,166.3 230.2,163.8 231.5,162.9 236.7,162.5 237.7,162.5 236.0,164.2 231.6,164.2 234.2,166.5 232.2,168.1 235.0,172.1 233.9,173.9 232.0,171.6 230.9,174.2ZM241.1,162.0 241.8,164.2 242.8,163.4 242.2,165.8 241.2,166.0 240.8,163.7ZM241.9,170.3 245.9,170.4 245.5,171.3 242.3,170.9ZM246.2,167.1 248.3,165.7 250.7,166.5 252.8,170.4 256.2,167.5 260.8,169.3 265.9,171.3 267.8,173.6 270.3,175.4 270.9,178.2 274.0,182.0 271.1,181.8 268.2,178.2 265.2,177.7 264.3,179.8 260.9,180.0 258.0,178.3 256.6,178.7 255.8,173.2 252.1,172.3 249.1,171.6 247.7,169.6 250.1,168.8ZM271.7,174.1 274.6,173.2 276.8,171.9 277.2,174.1 274.6,175.2 272.5,175.1ZM283.4,176.2 287.0,178.2 290.0,180.7 289.2,181.5 285.6,179.5 282.7,176.9ZM223.0,201.3 224.6,208.3 226.3,212.8 228.3,217.7 227.8,220.4 228.2,221.7 232.3,222.8 234.8,220.9 239.6,220.9 242.6,218.2 246.6,217.2 250.1,216.9 254.1,218.7 256.5,222.3 259.0,219.4 259.7,221.9 260.5,222.7 262.2,224.3 264.4,227.6 268.2,228.9 269.9,227.3 272.1,229.4 274.1,227.3 276.8,226.8 276.7,223.8 277.8,220.9 279.3,217.7 280.5,212.1 279.4,207.0 276.3,203.7 273.2,199.6 270.0,196.6 267.7,191.4 267.5,189.7 265.0,188.1 263.2,182.6 262.0,185.8 262.1,189.7 261.2,193.7 258.6,192.7 255.6,191.0 253.3,189.4 254.9,185.1 253.9,184.8 248.9,183.8 246.6,185.1 245.3,186.9 244.5,189.6 242.2,188.6 239.3,188.9 237.4,191.9 234.6,194.7 233.1,197.3 229.7,198.5 227.1,198.9ZM270.2,232.0 275.2,232.4 275.3,235.8 273.8,236.8 271.4,234.5ZM307.5,221.7 309.7,223.5 311.4,226.0 315.5,227.1 313.5,230.1 313.2,231.7 311.1,233.5 310.3,233.0 310.5,230.7 309.1,229.6 310.2,226.8 307.9,223.0ZM307.7,231.7 309.9,233.7 308.3,236.6 306.1,237.9 305.4,240.5 303.3,241.6 300.0,240.6 300.5,238.7 302.4,237.4 305.0,235.8 306.2,233.7ZM294.6,198.3 299.0,201.7 298.3,201.7 294.9,199.3ZM313.6,193.8 315.3,193.5 315.5,194.8 313.9,195.0ZM128.5,184.8 131.0,190.5 130.3,193.0 129.6,202.1 129.2,206.0 126.8,207.0 123.8,203.7 122.5,200.4 123.4,197.1 122.1,193.0 125.0,191.0 126.9,188.1ZM171.9,154.3 172.1,151.8 172.5,148.8 174.3,151.0 175.0,153.5 174.1,154.8 172.3,155.1ZM330.7,59.1 334.4,57.8 335.1,57.0 332.4,55.3 335.4,53.6 341.4,51.2 346.5,51.8 354.1,52.9 358.5,53.5 364.1,54.3 366.4,53.6 370.9,52.9 375.4,53.6 381.0,54.3 387.1,55.7 394.1,55.0 399.1,56.2 405.3,55.7 408.0,53.6 404.8,50.9 409.6,52.9 413.8,54.3 417.5,55.0 420.6,53.6 422.0,57.8 419.3,57.8 422.5,61.4 418.1,61.4 417.7,65.9 417.8,68.9 422.0,72.0 428.4,73.5 436.2,74.9 438.3,78.3 442.0,80.9 442.7,79.0 440.9,75.0 440.0,71.2 435.5,66.6 434.0,64.0 438.0,64.0 444.2,65.9 447.4,69.2 451.3,69.7 451.4,66.9 459.7,72.7 467.6,76.6 472.0,79.5 470.9,80.7 468.9,82.6 463.9,82.6 460.9,82.9 459.1,85.3 458.1,88.1 460.1,86.9 464.9,84.9 464.9,86.5 467.1,89.0 472.2,90.0 473.1,89.4 469.9,91.6 467.8,93.4 466.3,91.0 465.1,91.3 463.2,92.1 461.9,93.2 462.0,95.0 463.7,96.3 462.0,96.8 459.4,98.1 460.1,99.9 459.2,101.1 459.0,104.0 460.8,107.0 459.2,108.0 458.1,109.3 456.0,110.9 455.2,115.1 457.1,118.2 458.7,122.2 458.4,123.5 456.2,121.8 454.3,119.0 453.4,117.0 451.0,115.6 448.0,114.9 445.8,114.4 443.9,115.2 444.6,117.2 442.1,116.7 437.8,116.2 436.5,116.7 433.9,119.2 434.3,122.5 434.6,128.3 437.6,133.4 440.1,135.0 443.6,134.3 445.3,132.4 445.5,130.4 450.1,129.6 450.0,133.7 449.0,134.5 449.6,138.6 452.8,138.8 456.7,140.0 456.9,146.9 458.1,148.5 461.1,150.5 463.2,149.3 466.2,150.7 468.3,149.7 468.9,147.9 469.8,146.9 472.4,146.4 473.6,144.7 474.6,147.2 476.6,145.2 479.7,147.7 481.3,147.5 485.5,147.5 488.5,147.4 490.0,149.3 494.4,153.8 498.9,155.3 503.2,156.9 505.1,158.4 506.7,162.0 506.1,165.0 508.9,167.3 515.0,169.1 519.7,169.8 523.3,171.1 527.9,174.6 528.3,176.7 527.8,179.8 524.5,183.1 521.9,186.4 519.9,194.2 517.2,198.5 515.6,201.3 512.1,202.7 509.2,204.2 503.3,207.8 501.9,212.0 499.2,214.4 496.8,216.9 493.5,220.2 490.6,222.3 487.5,222.5 484.7,222.0 485.3,223.5 485.7,225.0 483.4,227.6 476.6,229.1 474.9,231.9 471.1,232.2 470.4,235.0 468.4,237.4 463.5,240.5 463.9,243.5 459.9,246.0 456.1,249.6 456.1,250.7 453.2,254.6 455.5,255.0 453.5,256.3 451.2,255.0 449.7,252.6 448.8,250.2 450.9,244.7 454.3,240.6 457.7,236.6 459.1,233.3 461.7,227.6 463.2,225.6 467.3,219.4 469.2,214.4 471.2,209.5 473.2,203.9 474.5,198.0 474.8,195.5 472.7,193.0 468.7,190.5 467.2,187.2 466.5,184.8 464.7,180.7 462.7,176.5 461.0,173.7 462.2,170.6 463.0,168.6 461.8,166.6 463.1,163.5 464.7,162.5 466.3,159.2 466.5,154.0 465.6,152.6 463.3,150.5 462.1,153.0 459.7,151.5 457.2,151.0 454.2,148.7 453.9,146.9 451.4,143.7 448.9,142.8 445.2,141.9 442.0,139.0 440.1,138.3 437.7,139.1 432.6,137.3 429.4,135.5 423.7,131.4 424.0,129.6 422.1,126.8 419.5,123.8 417.0,121.3 414.5,118.9 412.4,116.4 410.7,113.4 408.0,112.6 410.6,117.2 411.9,118.9 414.3,122.2 416.4,125.1 417.8,127.1 416.5,126.3 413.7,124.1 410.5,120.5 409.4,118.0 406.8,114.9 404.6,111.4 402.4,109.1 399.2,108.1 396.7,104.7 395.4,102.7 393.1,99.9 392.0,98.3 391.6,95.8 390.0,89.0 388.1,85.5 389.8,84.2 386.7,82.1 382.8,79.8 378.5,75.8 373.6,72.0 368.8,69.7 364.1,67.7 359.4,67.4 356.1,65.9 352.8,67.5 350.5,68.6 348.4,71.2 345.7,72.7 342.9,74.3 339.4,75.0 336.4,75.7 339.2,73.7 343.7,71.2 344.0,69.2 338.9,68.9 337.8,67.4 334.9,66.6 334.6,64.4 335.0,62.6 338.6,60.7 336.4,60.6 332.5,60.6ZM448.5,63.7 438.4,61.7 431.1,61.0 433.9,57.8 429.3,55.0 422.4,53.2 415.6,52.6 409.9,50.9 412.5,48.2 417.2,48.0 423.9,49.6 431.1,51.6 436.4,53.6 444.1,57.1 446.4,58.1ZM380.1,50.9 380.8,48.6 388.0,48.9 394.5,49.6 399.6,52.9 396.7,54.0 389.6,54.6 383.8,53.6ZM373.4,50.9 373.4,47.2 379.1,47.6 381.9,48.9 379.1,50.9ZM403.1,45.6 416.2,46.9 408.8,44.7ZM403.7,44.4 415.9,45.0 414.1,41.4 421.5,40.2 398.9,40.2ZM378.8,45.6 390.5,45.6 388.4,44.4 378.7,44.3ZM398.1,50.2 400.5,48.2 402.6,49.6 401.7,50.9ZM420.9,60.7 428.1,61.4 424.7,62.9 421.4,62.2ZM472.4,86.8 474.7,83.7 473.0,80.6 471.5,81.8 480.9,86.8 480.8,88.4 477.9,87.7ZM453.0,128.9 456.9,127.4 459.7,126.9 463.6,129.1 468.8,131.7 464.1,132.2 463.2,130.9 457.8,128.7ZM468.9,134.5 470.8,132.2 475.1,132.7 477.5,134.5 475.3,135.0 473.1,135.7ZM463.3,134.7 466.4,135.3 465.6,135.7 463.5,135.0ZM479.2,134.7 481.6,134.8 481.3,135.3 479.5,135.3ZM382.4,81.7 386.4,82.9 389.8,85.5 386.9,84.7ZM329.9,79.0 334.7,77.4 332.3,77.9 327.4,79.5ZM466.0,249.1 470.2,249.1 468.5,250.5 465.6,250.2ZM129.2,277.1 149.7,276.8 168.5,275.0 181.5,272.2 199.1,273.6 203.8,276.4 207.0,276.4 209.3,272.9 219.6,272.2 230.0,271.4 240.9,271.4 252.2,272.2 262.8,271.4 274.1,272.4 285.4,274.3 296.6,277.1 302.1,279.1 307.3,279.8 308.1,286.8 317.5,287.7 336.1,287.7 346.0,286.2 356.4,284.4 366.8,283.1 377.3,282.2 386.6,283.1 397.5,281.8 408.7,280.4 418.2,281.1 426.0,278.4 437.4,274.3 445.8,270.0 456.1,267.4 450.9,269.3 446.6,271.4 443.1,277.1 435.1,283.8 439.0,287.4 448.4,287.4 462.3,285.0 477.5,281.8 492.0,279.1 505.8,277.1 480.3,289.8 154.7,289.8Z" fill="#e6e7e7" stroke="#000" stroke-width="1" stroke-linejoin="round"/>
<path d="M116.1,97.3 118.8,97.3 125.1,95.8 126.8,97.3 130.3,97.5 133.4,96.5 134.1,94.2 133.0,91.8 131.2,91.5 130.7,90.5 128.3,91.0 125.8,91.8 125.4,90.5 127.5,89.4 124.5,88.5 121.7,90.5 118.8,92.6 116.4,94.7 115.3,96.5ZM143.7,91.3 148.2,88.5 152.6,87.6 153.7,88.1 152.1,90.5 148.9,91.8 148.8,95.0 147.9,97.2 148.3,99.1 146.2,103.5 142.5,104.4 139.7,103.2 140.5,101.6 142.7,98.6 142.8,96.2 142.6,94.2 143.8,91.8Z" fill="#fff" stroke="#000" stroke-width="1"/>

</g>
<path d="M154.7,40.2 L163.7,40.2 L172.8,40.2 L181.8,40.2 L190.8,40.2 L199.9,40.2 L208.9,40.2 L218.0,40.2 L227.0,40.2 L236.1,40.2 L245.1,40.2 L254.2,40.2 L263.2,40.2 L272.3,40.2 L281.3,40.2 L290.4,40.2 L299.4,40.2 L308.5,40.2 L317.5,40.2 L326.5,40.2 L335.6,40.2 L344.6,40.2 L353.7,40.2 L362.7,40.2 L371.8,40.2 L380.8,40.2 L389.9,40.2 L398.9,40.2 L408.0,40.2 L417.0,40.2 L426.1,40.2 L435.1,40.2 L444.2,40.2 L453.2,40.2 L462.2,40.2 L471.3,40.2 L480.3,40.2 L480.3,40.2 L487.1,43.2 L493.9,46.2 L499.9,49.6 L505.8,52.9 L511.2,56.4 L516.6,60.0 L521.7,63.7 L526.8,67.4 L531.6,71.2 L536.4,75.0 L540.7,79.0 L545.0,82.9 L548.7,86.9 L552.4,91.0 L555.7,95.0 L559.1,99.1 L561.8,103.2 L564.6,107.3 L566.8,111.4 L569.1,115.6 L570.8,119.7 L572.5,123.8 L573.7,127.9 L574.9,132.0 L576.0,136.2 L577.0,140.3 L577.7,144.4 L578.4,148.5 L578.8,152.6 L579.2,156.8 L579.4,160.9 L579.6,165.0 L579.4,169.1 L579.2,173.2 L578.8,177.4 L578.4,181.5 L577.7,185.6 L577.0,189.7 L576.0,193.8 L574.9,198.0 L573.7,202.1 L572.5,206.2 L570.8,210.3 L569.1,214.4 L566.8,218.6 L564.6,222.7 L561.8,226.8 L559.1,230.9 L555.7,235.0 L552.4,239.0 L548.7,243.1 L545.0,247.1 L540.7,251.0 L536.4,255.0 L531.6,258.8 L526.8,262.6 L521.7,266.3 L516.6,270.0 L511.2,273.6 L505.8,277.1 L499.9,280.4 L493.9,283.8 L487.1,286.8 L480.3,289.8 L480.3,289.8 L471.3,289.8 L462.2,289.8 L453.2,289.8 L444.2,289.8 L435.1,289.8 L426.1,289.8 L417.0,289.8 L408.0,289.8 L398.9,289.8 L389.9,289.8 L380.8,289.8 L371.8,289.8 L362.7,289.8 L353.7,289.8 L344.6,289.8 L335.6,289.8 L326.5,289.8 L317.5,289.8 L308.5,289.8 L299.4,289.8 L290.4,289.8 L281.3,289.8 L272.3,289.8 L263.2,289.8 L254.2,289.8 L245.1,289.8 L236.1,289.8 L227.0,289.8 L218.0,289.8 L208.9,289.8 L199.9,289.8 L190.8,289.8 L181.8,289.8 L172.8,289.8 L163.7,289.8 L154.7,289.8 L154.7,289.8 L147.9,286.8 L141.1,283.8 L135.1,280.4 L129.2,277.1 L123.8,273.6 L118.4,270.0 L113.3,266.3 L108.2,262.6 L103.4,258.8 L98.6,255.0 L94.3,251.0 L90.0,247.1 L86.3,243.1 L82.6,239.0 L79.3,235.0 L75.9,230.9 L73.2,226.8 L70.4,222.7 L68.2,218.6 L65.9,214.4 L64.2,210.3 L62.5,206.2 L61.3,202.1 L60.1,198.0 L59.0,193.8 L58.0,189.7 L57.3,185.6 L56.6,181.5 L56.2,177.4 L55.8,173.2 L55.6,169.1 L55.4,165.0 L55.6,160.9 L55.8,156.8 L56.2,152.6 L56.6,148.5 L57.3,144.4 L58.0,140.3 L59.0,136.2 L60.1,132.0 L61.3,127.9 L62.5,123.8 L64.2,119.7 L65.9,115.6 L68.2,111.4 L70.4,107.3 L73.2,103.2 L75.9,99.1 L79.3,95.0 L82.6,91.0 L86.3,86.9 L90.0,82.9 L94.3,79.0 L98.6,75.0 L103.4,71.2 L108.2,67.4 L113.3,63.7 L118.4,60.0 L123.8,56.4 L129.2,52.9 L135.1,49.6 L141.1,46.2 L147.9,43.2 L154.7,40.2 Z" fill="none" stroke="#000" stroke-width="2.6"/>
<g style="font-family:'Liberation Serif','Times New Roman',serif;font-size:27.6px"><text x="99.7" y="76.7" text-anchor="end">60°N</text>
<line x1="108.2" y1="67.4" x2="112.7" y2="67.4" stroke="#000" stroke-width="2.2"/>
<line x1="526.8" y1="67.4" x2="522.3" y2="67.4" stroke="#000" stroke-width="2.2"/>
<text x="57.4" y="124.9" text-anchor="end">30°N</text>
<line x1="65.9" y1="115.6" x2="70.4" y2="115.6" stroke="#000" stroke-width="2.2"/>
<line x1="569.1" y1="115.6" x2="564.6" y2="115.6" stroke="#000" stroke-width="2.2"/>
<text x="41.4" y="174.3" text-anchor="end">0°</text>
<line x1="55.4" y1="165.0" x2="59.9" y2="165.0" stroke="#000" stroke-width="2.2"/>
<line x1="579.6" y1="165.0" x2="575.1" y2="165.0" stroke="#000" stroke-width="2.2"/>
<text x="57.4" y="223.7" text-anchor="end">30°S</text>
<line x1="65.9" y1="214.4" x2="70.4" y2="214.4" stroke="#000" stroke-width="2.2"/>
<line x1="569.1" y1="214.4" x2="564.6" y2="214.4" stroke="#000" stroke-width="2.2"/>
<text x="99.7" y="271.9" text-anchor="end">60°S</text>
<line x1="108.2" y1="262.6" x2="112.7" y2="262.6" stroke="#000" stroke-width="2.2"/>
<line x1="526.8" y1="262.6" x2="522.3" y2="262.6" stroke="#000" stroke-width="2.2"/>
<line x1="208.9" y1="40.2" x2="208.9" y2="44.7" stroke="#000" stroke-width="2.2"/>
<line x1="208.9" y1="289.8" x2="208.9" y2="285.3" stroke="#000" stroke-width="2.2"/>
<line x1="317.5" y1="40.2" x2="317.5" y2="44.7" stroke="#000" stroke-width="2.2"/>
<line x1="317.5" y1="289.8" x2="317.5" y2="285.3" stroke="#000" stroke-width="2.2"/>
<line x1="426.1" y1="40.2" x2="426.1" y2="44.7" stroke="#000" stroke-width="2.2"/>
<line x1="426.1" y1="289.8" x2="426.1" y2="285.3" stroke="#000" stroke-width="2.2"/></g>
<clipPath id="clipb"><path d="M154.7,376.2 L163.7,376.2 L172.8,376.2 L181.8,376.2 L190.8,376.2 L199.9,376.2 L208.9,376.2 L218.0,376.2 L227.0,376.2 L236.1,376.2 L245.1,376.2 L254.2,376.2 L263.2,376.2 L272.3,376.2 L281.3,376.2 L290.4,376.2 L299.4,376.2 L308.5,376.2 L317.5,376.2 L326.5,376.2 L335.6,376.2 L344.6,376.2 L353.7,376.2 L362.7,376.2 L371.8,376.2 L380.8,376.2 L389.9,376.2 L398.9,376.2 L408.0,376.2 L417.0,376.2 L426.1,376.2 L435.1,376.2 L444.2,376.2 L453.2,376.2 L462.2,376.2 L471.3,376.2 L480.3,376.2 L480.3,376.2 L487.1,379.2 L493.9,382.2 L499.9,385.6 L505.8,388.9 L511.2,392.4 L516.6,396.0 L521.7,399.7 L526.8,403.4 L531.6,407.2 L536.4,411.0 L540.7,415.0 L545.0,418.9 L548.7,422.9 L552.4,427.0 L555.7,431.0 L559.1,435.1 L561.8,439.2 L564.6,443.3 L566.8,447.4 L569.1,451.6 L570.8,455.7 L572.5,459.8 L573.7,463.9 L574.9,468.0 L576.0,472.2 L577.0,476.3 L577.7,480.4 L578.4,484.5 L578.8,488.6 L579.2,492.8 L579.4,496.9 L579.6,501.0 L579.4,505.1 L579.2,509.2 L578.8,513.4 L578.4,517.5 L577.7,521.6 L577.0,525.7 L576.0,529.8 L574.9,534.0 L573.7,538.1 L572.5,542.2 L570.8,546.3 L569.1,550.4 L566.8,554.6 L564.6,558.7 L561.8,562.8 L559.1,566.9 L555.7,571.0 L552.4,575.0 L548.7,579.1 L545.0,583.1 L540.7,587.0 L536.4,591.0 L531.6,594.8 L526.8,598.6 L521.7,602.3 L516.6,606.0 L511.2,609.6 L505.8,613.1 L499.9,616.4 L493.9,619.8 L487.1,622.8 L480.3,625.8 L480.3,625.8 L471.3,625.8 L462.2,625.8 L453.2,625.8 L444.2,625.8 L435.1,625.8 L426.1,625.8 L417.0,625.8 L408.0,625.8 L398.9,625.8 L389.9,625.8 L380.8,625.8 L371.8,625.8 L362.7,625.8 L353.7,625.8 L344.6,625.8 L335.6,625.8 L326.5,625.8 L317.5,625.8 L308.5,625.8 L299.4,625.8 L290.4,625.8 L281.3,625.8 L272.3,625.8 L263.2,625.8 L254.2,625.8 L245.1,625.8 L236.1,625.8 L227.0,625.8 L218.0,625.8 L208.9,625.8 L199.9,625.8 L190.8,625.8 L181.8,625.8 L172.8,625.8 L163.7,625.8 L154.7,625.8 L154.7,625.8 L147.9,622.8 L141.1,619.8 L135.1,616.4 L129.2,613.1 L123.8,609.6 L118.4,606.0 L113.3,602.3 L108.2,598.6 L103.4,594.8 L98.6,591.0 L94.3,587.0 L90.0,583.1 L86.3,579.1 L82.6,575.0 L79.3,571.0 L75.9,566.9 L73.2,562.8 L70.4,558.7 L68.2,554.6 L65.9,550.4 L64.2,546.3 L62.5,542.2 L61.3,538.1 L60.1,534.0 L59.0,529.8 L58.0,525.7 L57.3,521.6 L56.6,517.5 L56.2,513.4 L55.8,509.2 L55.6,505.1 L55.4,501.0 L55.6,496.9 L55.8,492.8 L56.2,488.6 L56.6,484.5 L57.3,480.4 L58.0,476.3 L59.0,472.2 L60.1,468.0 L61.3,463.9 L62.5,459.8 L64.2,455.7 L65.9,451.6 L68.2,447.4 L70.4,443.3 L73.2,439.2 L75.9,435.1 L79.3,431.0 L82.6,427.0 L86.3,422.9 L90.0,418.9 L94.3,415.0 L98.6,411.0 L103.4,407.2 L108.2,403.4 L113.3,399.7 L118.4,396.0 L123.8,392.4 L129.2,388.9 L135.1,385.6 L141.1,382.2 L147.9,379.2 L154.7,376.2 Z"/></clipPath>
<g clip-path="url(#clipb)">
<rect x="0" y="371.0" width="685" height="260" fill="#fff"/>
<ellipse cx="116" cy="417" rx="15" ry="12" transform="rotate(0 116 417)" fill="#f6dac9"/>
<ellipse cx="120" cy="582" rx="64" ry="14" transform="rotate(33 120 582)" fill="#f6dac9"/>
<ellipse cx="149" cy="597" rx="23" ry="9" transform="rotate(30 149 597)" fill="#eaa184"/>
<ellipse cx="265" cy="563" rx="75" ry="18" transform="rotate(18 265 563)" fill="#f6dac9"/>
<ellipse cx="240" cy="571" rx="30" ry="10" transform="rotate(15 240 571)" fill="#eaa184"/>
<ellipse cx="233" cy="575" rx="4" ry="2" transform="rotate(0 233 575)" fill="#d5604e"/>
<ellipse cx="318" cy="537" rx="30" ry="11" transform="rotate(0 318 537)" fill="#f6dac9"/>
<ellipse cx="420" cy="530" rx="120" ry="12" transform="rotate(4 420 530)" fill="#f6dac9"/>
<ellipse cx="403" cy="528" rx="19" ry="7" transform="rotate(0 403 528)" fill="#eaa184"/>
<ellipse cx="500" cy="535" rx="78" ry="15" transform="rotate(12 500 535)" fill="#f6dac9"/>
<ellipse cx="508" cy="541.5" rx="21" ry="7" transform="rotate(5 508 541.5)" fill="#eaa184"/>
<ellipse cx="375" cy="486" rx="75" ry="26" transform="rotate(-5 375 486)" fill="#f6dac9"/>
<ellipse cx="434" cy="417" rx="16" ry="9" transform="rotate(15 434 417)" fill="#f6dac9"/>
<ellipse cx="373" cy="430" rx="22" ry="12" transform="rotate(0 373 430)" fill="#d3e6ef"/>
<ellipse cx="378" cy="432" rx="5" ry="3" transform="rotate(0 378 432)" fill="#97c7dd"/>
<ellipse cx="347" cy="501" rx="14" ry="6" fill="#fff"/>
<ellipse cx="543" cy="444" rx="10" ry="6" transform="rotate(0 543 444)" fill="#f6dac9"/>
<ellipse cx="150" cy="448" rx="66" ry="14" transform="rotate(0 150 448)" fill="#d3e6ef"/>
<ellipse cx="145" cy="449" rx="27" ry="6" transform="rotate(0 145 449)" fill="#97c7dd"/>
<ellipse cx="153" cy="549" rx="28" ry="15" transform="rotate(0 153 549)" fill="#d3e6ef"/>
<ellipse cx="150" cy="551" rx="6" ry="4" transform="rotate(0 150 551)" fill="#97c7dd"/>
<ellipse cx="472" cy="405" rx="48" ry="28" transform="rotate(20 472 405)" fill="#d3e6ef"/>
<ellipse cx="400" cy="387" rx="112" ry="10" transform="rotate(0 400 387)" fill="#d3e6ef"/>
<ellipse cx="345" cy="384.5" rx="16" ry="3.5" transform="rotate(0 345 384.5)" fill="#97c7dd"/>
<ellipse cx="258" cy="400" rx="9" ry="4" transform="rotate(0 258 400)" fill="#d3e6ef"/>
<ellipse cx="310" cy="440" rx="12" ry="6" transform="rotate(0 310 440)" fill="#d3e6ef"/>
<ellipse cx="215" cy="440" rx="40" ry="8" transform="rotate(-10 215 440)" fill="#d3e6ef"/>
<ellipse cx="455" cy="558" rx="20" ry="9" transform="rotate(0 455 558)" fill="#d3e6ef"/>
<ellipse cx="455" cy="558" rx="10" ry="5" transform="rotate(0 455 558)" fill="#97c7dd"/>
<ellipse cx="368" cy="561" rx="18" ry="13" transform="rotate(0 368 561)" fill="#d3e6ef"/>
<ellipse cx="366" cy="560" rx="10" ry="8" transform="rotate(0 366 560)" fill="#97c7dd"/>
<ellipse cx="327" cy="599" rx="80" ry="26" transform="rotate(-6 327 599)" fill="#d3e6ef"/><ellipse cx="327" cy="599" rx="65.6" ry="21.3" transform="rotate(-6 327 599)" fill="#97c7dd"/><ellipse cx="327" cy="599" rx="52.8" ry="17.2" transform="rotate(-6 327 599)" fill="#5a9fc9"/><ellipse cx="327" cy="599" rx="40.0" ry="13.0" transform="rotate(-6 327 599)" fill="#3a6db2"/><ellipse cx="327" cy="599" rx="28.8" ry="9.4" transform="rotate(-6 327 599)" fill="#1c3462"/>
<ellipse cx="250" cy="603" rx="30" ry="10" transform="rotate(-10 250 603)" fill="#d3e6ef"/>
<ellipse cx="409" cy="598" rx="50" ry="24" transform="rotate(0 409 598)" fill="#f6dac9"/><ellipse cx="409" cy="598" rx="40.0" ry="19.2" transform="rotate(0 409 598)" fill="#eaa184"/><ellipse cx="409" cy="598" rx="32.0" ry="15.4" transform="rotate(0 409 598)" fill="#d5604e"/><ellipse cx="409" cy="598" rx="24.0" ry="11.5" transform="rotate(0 409 598)" fill="#b02331"/><ellipse cx="409" cy="598" rx="15.0" ry="7.2" transform="rotate(0 409 598)" fill="#670a24"/>
<ellipse cx="498" cy="595" rx="55" ry="30" transform="rotate(-22 498 595)" fill="#d3e6ef"/><ellipse cx="498" cy="595" rx="42.9" ry="23.4" transform="rotate(-22 498 595)" fill="#97c7dd"/><ellipse cx="498" cy="595" rx="33.0" ry="18.0" transform="rotate(-22 498 595)" fill="#5a9fc9"/><ellipse cx="498" cy="595" rx="23.6" ry="12.9" transform="rotate(-22 498 595)" fill="#3a6db2"/><ellipse cx="498" cy="595" rx="14.3" ry="7.8" transform="rotate(-22 498 595)" fill="#1c3462"/>
<path d="M63.2,442.0 60.1,445.0 52.8,450.9 45.7,455.4 39.1,461.9 36.1,466.6 36.2,469.0 36.3,471.3 34.7,474.6 32.7,476.8 33.0,480.4 34.6,482.0 36.7,485.3 37.2,487.0 39.4,489.6 42.7,492.8 44.8,493.7 48.5,492.6 52.8,493.1 55.9,491.8 57.7,490.9 59.5,490.5 62.5,490.6 63.9,493.6 65.2,493.9 68.1,493.6 69.5,494.6 69.8,497.0 69.4,499.4 69.0,501.8 68.3,502.6 70.2,505.9 72.9,508.9 73.8,510.9 75.6,515.5 76.1,521.6 75.5,526.5 75.9,529.5 77.6,532.3 81.8,538.1 85.1,545.0 88.1,548.1 92.3,552.9 94.9,557.0 97.7,558.3 99.8,557.0 104.7,556.9 107.0,554.7 109.0,550.3 109.8,545.5 109.6,543.8 112.1,540.6 111.6,537.3 109.8,533.6 112.1,530.3 114.7,528.2 116.4,525.7 115.7,520.8 114.0,514.2 113.1,512.2 113.4,507.6 115.2,504.3 117.3,501.8 121.5,497.7 125.6,492.8 128.1,487.8 130.9,483.7 131.2,481.6 126.4,482.5 121.9,483.9 119.7,482.0 119.0,480.4 117.0,477.1 115.1,475.5 114.5,471.3 113.7,466.4 112.6,462.3 112.6,458.2 112.1,455.2 111.4,451.7 111.5,454.0 112.5,455.2 114.4,452.4 113.7,454.9 114.7,458.2 115.9,461.4 116.7,465.6 117.8,468.9 119.2,473.0 119.7,476.3 119.9,480.1 122.4,479.9 127.7,477.9 133.4,475.3 136.4,473.0 138.8,471.7 141.3,469.9 142.9,467.2 144.9,465.6 146.4,463.9 144.9,462.1 142.4,460.0 142.8,457.8 141.3,459.0 138.7,461.3 135.8,461.4 135.6,459.3 136.1,458.0 134.4,460.1 134.2,457.8 133.1,455.7 132.6,452.7 133.7,451.6 135.9,451.2 136.9,455.0 139.8,457.0 143.3,456.2 144.0,458.5 149.8,459.5 156.9,459.1 157.3,460.1 159.1,462.3 160.9,463.9 159.4,464.3 161.1,466.7 164.3,465.9 163.9,469.7 164.2,474.6 165.5,479.9 167.2,484.7 168.8,487.7 169.8,486.3 172.3,484.0 173.5,479.4 173.6,475.5 177.0,473.6 178.7,471.8 182.7,468.4 184.7,465.9 186.6,465.2 188.5,464.9 190.8,463.9 191.9,464.3 192.2,466.9 194.3,470.0 194.2,474.6 195.6,475.0 199.0,473.8 199.2,477.9 199.5,484.5 198.9,487.8 201.7,491.1 201.7,494.4 203.0,496.4 206.1,498.9 207.2,498.7 206.1,494.4 204.6,490.8 202.1,489.1 201.5,485.3 200.4,484.0 202.0,478.9 203.2,480.1 205.4,481.2 206.8,483.7 208.4,486.8 211.3,484.0 214.8,482.0 215.3,478.3 214.3,474.5 212.0,471.3 211.3,469.2 212.8,466.9 214.8,465.6 217.2,465.6 218.0,467.5 219.1,465.6 222.8,464.4 227.5,462.6 229.7,460.6 232.0,458.2 234.6,454.9 236.4,451.9 236.6,449.7 235.7,447.3 235.0,444.1 234.0,443.3 235.9,441.7 239.3,440.0 237.5,438.9 234.6,439.7 233.7,437.9 233.5,436.8 236.2,435.4 238.7,433.8 240.1,434.3 238.2,437.1 240.2,435.9 242.7,435.3 243.3,438.4 245.0,439.2 243.7,443.7 245.4,443.8 247.7,443.2 248.5,440.9 248.0,437.9 247.0,435.4 250.3,433.8 251.0,431.8 254.1,430.1 255.4,430.5 259.1,428.8 264.0,423.7 266.8,421.3 268.0,417.3 269.5,415.5 269.5,413.4 265.3,412.9 262.9,411.5 266.7,408.9 270.6,406.7 274.5,404.3 280.1,404.4 284.6,404.9 288.2,404.4 290.9,401.0 294.7,400.7 294.5,401.9 289.0,407.2 288.3,417.5 291.1,414.2 293.1,411.8 295.8,409.2 297.7,406.4 299.8,403.5 305.9,403.4 309.5,400.9 314.7,399.7 316.4,396.3 318.6,396.0 325.3,397.0 325.8,395.3 328.8,394.6 326.2,393.3 322.9,392.4 317.5,390.5 315.4,389.6 307.0,388.9 297.5,389.6 296.3,387.8 288.5,387.7 284.0,385.8 277.0,385.6 265.8,387.6 265.8,385.6 264.5,384.2 255.5,384.2 250.8,383.8 248.0,383.6 251.9,381.0 246.1,379.0 238.4,381.0 228.0,381.6 225.1,383.6 218.0,384.2 215.5,386.2 214.0,385.7 211.7,385.0 207.0,387.6 200.8,393.8 198.1,393.6 198.6,391.3 206.8,384.9 199.5,388.2 190.5,390.3 184.2,391.3 182.1,391.7 172.4,391.3 168.6,394.1 166.2,393.8 162.4,396.7 157.7,397.4 156.1,396.7 157.5,393.8 168.4,392.0 165.3,390.2 162.5,389.9 158.3,387.4 150.1,388.9 141.9,391.0 135.8,393.8 127.5,397.4 118.0,400.4 114.4,403.4 112.5,405.1 112.7,406.4 118.8,404.8 118.6,405.7 118.0,406.9 115.9,409.5 116.9,410.3 120.4,409.0 123.2,407.2 128.5,404.4 131.1,401.2 133.1,399.7 140.7,396.7 144.6,394.8 146.5,396.0 138.6,398.9 135.0,401.9 134.9,402.9 137.6,403.1 142.2,402.6 143.1,403.5 139.9,404.1 134.2,404.6 132.8,406.4 128.7,407.5 125.9,409.5 124.3,411.0 121.4,412.0 120.3,412.0 116.8,412.3 114.2,412.8 111.9,412.3 110.3,412.6 110.5,411.4 116.3,406.9 112.9,407.8 109.4,410.3 107.5,412.6 104.7,413.4 101.9,413.7 100.3,415.0 97.2,416.7 94.9,417.3 92.9,418.1 89.4,419.7 87.5,419.6 86.1,420.9 81.8,421.3 83.4,423.3 82.5,425.4 78.6,429.4 75.2,429.6 70.4,429.1 67.7,430.2 65.5,433.5 61.7,437.2 60.5,440.0 63.7,440.5 63.9,441.7 66.3,440.5 69.7,440.4 73.4,437.9 74.9,437.1 75.0,435.9 78.5,433.5 80.7,432.8 83.4,431.2 84.2,429.9 86.8,429.6 90.5,429.1 93.5,427.9 94.5,428.8 94.6,432.3 96.1,433.8 97.0,435.1 94.9,438.4 96.6,437.6 98.4,436.1 98.2,435.1 99.6,434.3 100.9,434.9 100.1,433.3 99.6,432.0 97.8,431.0 97.9,428.3 99.2,426.3 101.3,426.0 101.8,426.6 102.2,429.4 103.4,430.9 104.1,432.0 102.7,434.3 102.6,435.9 102.4,438.1 102.0,440.4 102.7,441.0 105.1,438.6 105.7,438.6 106.7,437.6 107.4,434.1 109.1,433.8 111.8,433.8 111.5,434.9 110.8,437.7 109.8,440.0 111.1,440.5 114.1,440.4 116.0,441.5 119.5,440.4 121.5,440.7 120.0,442.5 118.3,445.1 116.5,447.4 115.3,448.9 112.8,449.7 112.0,449.4 108.8,449.4 102.1,448.9 100.1,447.3 95.7,448.1 93.4,451.1 88.8,449.1 86.8,446.8 84.2,445.8 84.2,443.7 87.6,440.0 86.7,439.7 83.4,440.2 76.5,440.4 71.4,441.8 67.8,443.2 64.2,441.8ZM555.6,442.0 556.1,445.0 555.4,450.9 552.1,455.4 550.4,461.9 550.1,466.6 551.6,469.0 552.8,471.3 552.8,474.6 551.8,476.8 553.4,480.4 555.5,482.0 558.6,485.3 559.5,487.0 562.2,489.6 566.1,492.8 568.4,493.7 571.9,492.6 576.3,493.1 579.1,491.8 580.8,490.9 582.5,490.5 585.6,490.6 587.4,493.6 588.7,493.9 591.6,493.6 593.1,494.6 593.7,497.0 593.5,499.4 593.1,501.8 592.3,502.6 593.9,505.9 596.4,508.9 596.9,510.9 597.7,515.5 596.5,521.6 594.1,526.5 593.0,529.5 593.2,532.3 594.2,538.1 592.8,545.0 593.2,548.1 592.8,552.9 590.8,557.0 592.2,558.3 595.8,557.0 600.9,556.9 605.5,554.7 612.4,550.3 617.1,545.5 618.3,543.8 623.1,540.6 624.6,537.3 624.8,533.6 628.8,530.3 632.5,528.2 635.4,525.7 636.4,520.8 636.5,514.2 636.0,512.2 637.0,507.6 639.1,504.3 641.4,501.8 645.4,497.7 649.0,492.8 650.6,487.8 652.4,483.7 651.9,481.6 647.5,482.5 643.5,483.9 640.6,482.0 639.4,480.4 636.3,477.1 633.7,475.5 631.0,471.3 627.6,466.4 624.1,462.3 621.3,458.2 618.3,455.2 614.8,451.7 616.7,454.0 618.7,455.2 618.3,452.4 619.7,454.9 623.4,458.2 626.9,461.4 630.1,465.6 633.1,468.9 636.5,473.0 638.7,476.3 640.2,480.1 642.6,479.9 647.3,477.9 651.9,475.3 653.8,473.0 655.5,471.7 657.0,469.9 657.3,467.2 658.4,465.6 658.9,463.9 656.3,462.1 652.5,460.0 651.2,457.8 650.7,459.0 649.6,461.3 646.8,461.4 645.2,459.3 644.7,458.0 644.6,460.1 642.6,457.8 639.8,455.7 636.8,452.7 636.9,451.6 638.8,451.2 642.9,455.0 647.5,457.0 650.3,456.2 653.0,458.5 659.6,459.5 666.4,459.1 667.6,460.1 670.6,462.3 673.4,463.9 672.1,464.3 675.2,466.7 677.9,465.9 679.6,469.7 682.4,474.6 685.7,479.9 689.0,484.7 691.2,487.7 692.0,486.3 693.9,484.0 693.5,479.4 692.2,475.5 694.7,473.6 695.4,471.8 697.8,468.4 698.3,465.9 699.9,465.2 701.6,464.9 703.3,463.9 704.6,464.3 706.4,466.9 710.1,470.0 712.3,474.6 713.9,475.0 716.7,473.8 718.7,477.9 721.3,484.5 721.4,487.8 724.8,491.1 725.3,494.4 726.8,496.4 730.2,498.9 731.2,498.7 729.7,494.4 727.7,490.8 724.8,489.1 723.5,485.3 722.0,484.0 721.8,478.9 723.4,480.1 726.1,481.2 728.3,483.7 730.7,486.8 732.9,484.0 735.7,482.0 734.9,478.3 732.4,474.5 728.6,471.3 726.7,469.2 727.0,466.9 728.2,465.6 730.7,465.6 732.6,467.5 732.5,465.6 735.5,464.4 739.2,462.6 740.2,460.6 740.7,458.2 740.5,454.9 739.9,451.9 737.8,449.7 734.2,447.3 730.1,444.1 728.2,443.3 727.9,441.7 729.0,440.0 725.7,438.9 723.9,439.7 720.5,437.9 718.8,436.8 719.8,435.4 719.6,433.8 721.9,434.3 723.9,437.1 724.4,435.9 726.0,435.3 730.8,438.4 733.7,439.2 738.3,443.7 740.1,443.8 741.6,443.2 739.4,440.9 734.9,437.9 730.5,435.4 731.3,433.8 728.8,431.8 728.9,430.1 731.0,430.5 731.8,428.8 727.9,423.7 726.2,421.3 719.5,417.3 716.9,415.5 712.4,413.4 707.2,412.9 701.6,411.5 699.1,408.9 697.7,406.7 695.4,404.3 701.3,404.4 707.1,404.9 709.5,404.4 703.0,401.0 705.9,400.7 709.0,401.9 717.1,407.2 740.1,417.5 735.7,414.2 732.5,411.8 729.0,409.2 724.0,406.4 718.8,403.5 724.5,403.4 721.2,400.9 723.1,399.7 715.4,396.3 716.8,396.0 726.4,397.0 721.8,395.3 722.7,394.6 716.2,393.3 710.3,392.4 698.9,390.5 694.2,389.6 683.7,388.9 676.4,389.6 669.1,387.8 660.9,387.7 649.7,385.8 641.8,385.6 637.8,387.6 630.6,385.6 624.5,384.2 615.5,384.2 609.4,383.8 605.6,383.6 599.3,381.0 584.3,379.0 585.8,381.0 578.2,381.6 582.8,383.6 578.0,384.2 582.7,386.2 579.3,385.7 574.5,385.0 578.9,387.6 592.6,393.8 589.0,393.6 582.6,391.3 569.2,384.9 573.8,388.2 571.5,390.3 568.2,391.3 567.4,391.7 556.4,391.3 561.3,394.1 558.0,393.8 562.7,396.7 560.0,397.4 556.3,396.7 549.3,393.8 554.6,392.0 545.8,390.2 542.2,389.9 529.7,387.4 526.8,388.9 525.0,391.0 527.5,393.8 529.8,397.4 528.4,400.4 533.0,403.4 535.4,405.1 538.9,406.4 540.8,404.8 543.0,405.7 545.4,406.9 549.8,409.5 552.7,410.3 553.1,409.0 551.3,407.2 549.8,404.4 543.6,401.2 541.6,399.7 541.0,396.7 539.3,394.8 544.7,396.0 545.0,398.9 549.5,401.9 552.3,402.9 555.4,403.1 558.8,402.6 562.2,403.5 560.5,404.1 555.9,404.6 559.0,406.4 557.6,407.5 559.8,409.5 562.0,411.0 561.2,412.0 560.1,412.0 557.3,412.3 555.7,412.8 552.4,412.3 551.4,412.6 548.9,411.4 543.7,406.9 542.6,407.8 545.2,410.3 548.6,412.6 547.6,413.4 545.4,413.7 546.6,415.0 547.3,416.7 546.4,417.3 546.1,418.1 545.8,419.7 543.7,419.6 544.6,420.9 541.2,421.3 546.4,423.3 549.4,425.4 552.4,429.4 549.3,429.6 543.6,429.1 542.8,430.2 546.0,433.5 547.7,437.2 550.3,440.0 554.1,440.5 555.8,441.7 556.7,440.5 559.9,440.4 560.3,437.9 560.6,437.1 559.2,435.9 558.9,433.5 560.1,432.8 560.1,431.2 558.7,429.9 560.8,429.6 563.7,429.1 564.8,427.9 567.3,428.8 573.1,432.3 577.1,433.8 580.1,435.1 582.4,438.4 583.0,437.6 582.9,436.1 581.3,435.1 581.4,434.3 583.7,434.9 580.3,433.3 577.6,432.0 574.3,431.0 569.8,428.3 567.8,426.3 569.3,426.0 571.0,426.6 576.0,429.4 579.5,430.9 582.1,432.0 584.5,434.3 586.8,435.9 589.5,438.1 592.1,440.4 593.7,441.0 592.8,438.6 593.5,438.6 593.1,437.6 588.9,434.1 590.1,433.8 592.7,433.8 594.3,434.9 597.5,437.7 599.5,440.0 601.5,440.5 604.3,440.4 607.8,441.5 609.7,440.4 612.1,440.7 613.1,442.5 614.5,445.1 615.2,447.4 615.6,448.9 614.1,449.7 612.9,449.4 609.7,449.4 602.4,448.9 598.6,447.3 595.1,448.1 596.1,451.1 589.3,449.1 584.7,446.8 581.1,445.8 578.8,443.7 577.3,440.0 576.0,439.7 573.4,440.2 566.7,440.4 563.6,441.8 561.7,443.2 556.3,441.8ZM82.8,418.9 87.3,418.0 93.7,417.2 96.6,414.8 96.3,413.6 97.3,412.1 97.9,410.1 100.3,407.8 101.9,405.5 99.6,405.5 94.5,408.4 92.9,410.3 92.2,411.5 93.0,412.6 92.2,413.6 90.0,413.7 88.6,415.5 86.5,416.1 88.4,416.7 86.3,417.2ZM537.8,418.9 540.2,418.0 544.8,417.2 542.6,414.8 539.5,413.6 537.4,412.1 533.3,410.1 530.0,407.8 525.8,405.5 523.6,405.5 525.7,408.4 528.7,410.3 530.9,411.5 534.2,412.6 535.4,413.6 533.6,413.7 536.0,415.5 535.3,416.1 538.6,416.7 537.4,417.2ZM533.7,415.5 531.5,413.6 530.1,411.7 526.9,410.6 526.8,411.8 526.6,413.4 529.4,415.5 529.0,416.1 531.6,416.4ZM494.1,397.4 489.1,395.3 489.6,394.0 496.0,393.8 500.1,395.3 501.3,397.0 499.6,398.3ZM475.6,403.4 469.5,401.9 461.7,397.4 455.2,393.8 453.4,391.7 452.5,388.9 447.7,387.6 440.7,383.6 433.3,381.0 426.7,380.4 420.2,379.2 422.3,378.0 421.5,376.2 444.2,376.2 462.2,376.2 466.5,377.4 471.9,381.0 477.4,383.6 478.6,386.2 481.8,388.2 481.4,391.0 475.9,391.7 474.8,395.3 473.2,396.7 474.8,400.4ZM185.3,387.6 191.7,384.9 197.9,382.2 204.5,380.4 211.1,379.8 204.7,381.6 197.3,383.6 192.1,386.2 187.5,388.2ZM162.1,377.4 160.7,380.3 168.6,379.2 176.3,377.6 179.1,376.2 164.6,376.2ZM249.9,445.0 252.4,442.7 256.2,442.2 258.8,439.5 261.3,438.6 263.5,435.4 264.0,434.1 266.1,432.8 266.1,434.5 266.3,436.8 264.7,438.4 264.3,440.2 263.9,442.2 262.3,443.3 260.9,444.0 258.4,444.0 256.5,446.0 255.6,444.5 252.8,444.3 250.7,445.1ZM248.5,445.8 247.9,447.1 248.2,449.6 249.3,449.9 250.6,447.4 250.0,445.1ZM251.8,446.6 255.0,445.3 254.6,444.5 252.2,445.1ZM264.3,432.7 264.7,430.2 266.8,429.7 267.6,426.3 269.1,427.8 272.0,428.1 272.0,429.7 268.8,431.8 265.7,432.2ZM268.2,425.4 270.4,424.2 270.4,420.5 271.9,419.7 271.6,416.6 272.1,414.2 271.8,412.1 270.5,415.8 268.9,420.5ZM232.3,463.1 233.9,459.8 235.2,459.6 234.3,463.1 233.1,464.9ZM215.3,469.4 217.4,467.9 218.8,468.7 216.5,471.0ZM231.1,474.6 232.3,470.5 234.6,470.5 234.3,473.0 233.4,475.0 233.8,477.8 236.6,479.6 236.4,480.1 233.6,478.3 231.8,478.3 231.0,476.3ZM233.3,489.5 235.5,487.8 238.5,484.8 239.8,488.6 238.3,491.6 236.1,490.6ZM233.6,481.6 235.3,482.9 236.3,484.5 237.9,482.9 238.7,480.4 236.9,480.2 235.1,481.2ZM226.4,487.3 229.9,482.4 230.3,483.7 226.8,487.3ZM214.2,498.5 215.0,502.6 216.1,505.8 218.3,506.8 222.2,507.3 224.4,506.8 225.1,503.5 226.5,501.0 228.6,499.4 227.8,492.8 229.3,492.3 226.3,489.5 224.5,491.1 223.4,492.8 221.4,493.7 217.8,496.9 215.6,498.0ZM194.4,491.8 197.6,492.4 201.5,496.9 206.1,501.8 207.6,504.1 209.8,506.3 209.7,510.6 207.8,510.7 204.5,507.6 201.6,502.6 199.3,498.2 196.8,495.2ZM208.9,512.2 211.1,511.1 213.6,511.7 216.4,512.4 219.8,512.4 222.3,513.9 222.6,515.3 217.4,514.5 213.0,513.9 210.8,513.2ZM223.2,514.8 226.1,514.5 229.0,514.8 231.9,514.7 234.8,514.5 234.8,515.5 229.0,515.7 224.7,515.7ZM236.3,517.3 237.7,515.8 241.0,514.8 239.2,516.3 237.1,517.8ZM229.4,510.1 229.5,506.8 228.5,505.3 229.7,502.3 230.2,499.8 231.5,498.9 236.7,498.5 237.7,498.5 236.0,500.2 231.6,500.2 234.2,502.5 232.2,504.1 235.0,508.1 233.9,509.9 232.0,507.6 230.9,510.2ZM241.1,498.0 241.8,500.2 242.8,499.4 242.2,501.8 241.2,502.0 240.8,499.7ZM241.9,506.3 245.9,506.4 245.5,507.3 242.3,506.9ZM246.2,503.1 248.3,501.7 250.7,502.5 252.8,506.4 256.2,503.5 260.8,505.3 265.9,507.3 267.8,509.6 270.3,511.4 270.9,514.2 274.0,518.0 271.1,517.8 268.2,514.2 265.2,513.7 264.3,515.8 260.9,516.0 258.0,514.3 256.6,514.7 255.8,509.2 252.1,508.3 249.1,507.6 247.7,505.6 250.1,504.8ZM271.7,510.1 274.6,509.2 276.8,507.9 277.2,510.1 274.6,511.2 272.5,511.1ZM283.4,512.2 287.0,514.2 290.0,516.7 289.2,517.5 285.6,515.5 282.7,512.9ZM223.0,537.3 224.6,544.3 226.3,548.8 228.3,553.7 227.8,556.4 228.2,557.7 232.3,558.8 234.8,556.9 239.6,556.9 242.6,554.2 246.6,553.2 250.1,552.9 254.1,554.7 256.5,558.3 259.0,555.4 259.7,557.9 260.5,558.7 262.2,560.3 264.4,563.6 268.2,564.9 269.9,563.3 272.1,565.4 274.1,563.3 276.8,562.8 276.7,559.8 277.8,556.9 279.3,553.7 280.5,548.1 279.4,543.0 276.3,539.7 273.2,535.6 270.0,532.6 267.7,527.4 267.5,525.7 265.0,524.1 263.2,518.6 262.0,521.8 262.1,525.7 261.2,529.7 258.6,528.7 255.6,527.0 253.3,525.4 254.9,521.1 253.9,520.8 248.9,519.8 246.6,521.1 245.3,522.9 244.5,525.6 242.2,524.6 239.3,524.9 237.4,527.9 234.6,530.7 233.1,533.3 229.7,534.5 227.1,534.9ZM270.2,568.0 275.2,568.4 275.3,571.8 273.8,572.8 271.4,570.5ZM307.5,557.7 309.7,559.5 311.4,562.0 315.5,563.1 313.5,566.1 313.2,567.7 311.1,569.5 310.3,569.0 310.5,566.7 309.1,565.6 310.2,562.8 307.9,559.0ZM307.7,567.7 309.9,569.7 308.3,572.6 306.1,573.9 305.4,576.5 303.3,577.6 300.0,576.6 300.5,574.7 302.4,573.4 305.0,571.8 306.2,569.7ZM294.6,534.3 299.0,537.7 298.3,537.7 294.9,535.3ZM313.6,529.8 315.3,529.5 315.5,530.8 313.9,531.0ZM128.5,520.8 131.0,526.5 130.3,529.0 129.6,538.1 129.2,542.0 126.8,543.0 123.8,539.7 122.5,536.4 123.4,533.1 122.1,529.0 125.0,527.0 126.9,524.1ZM171.9,490.3 172.1,487.8 172.5,484.8 174.3,487.0 175.0,489.5 174.1,490.8 172.3,491.1ZM330.7,395.1 334.4,393.8 335.1,393.0 332.4,391.3 335.4,389.6 341.4,387.2 346.5,387.8 354.1,388.9 358.5,389.5 364.1,390.3 366.4,389.6 370.9,388.9 375.4,389.6 381.0,390.3 387.1,391.7 394.1,391.0 399.1,392.2 405.3,391.7 408.0,389.6 404.8,386.9 409.6,388.9 413.8,390.3 417.5,391.0 420.6,389.6 422.0,393.8 419.3,393.8 422.5,397.4 418.1,397.4 417.7,401.9 417.8,404.9 422.0,408.0 428.4,409.5 436.2,410.9 438.3,414.3 442.0,416.9 442.7,415.0 440.9,411.0 440.0,407.2 435.5,402.6 434.0,400.0 438.0,400.0 444.2,401.9 447.4,405.2 451.3,405.7 451.4,402.9 459.7,408.7 467.6,412.6 472.0,415.5 470.9,416.7 468.9,418.6 463.9,418.6 460.9,418.9 459.1,421.3 458.1,424.1 460.1,422.9 464.9,420.9 464.9,422.5 467.1,425.0 472.2,426.0 473.1,425.4 469.9,427.6 467.8,429.4 466.3,427.0 465.1,427.3 463.2,428.1 461.9,429.2 462.0,431.0 463.7,432.3 462.0,432.8 459.4,434.1 460.1,435.9 459.2,437.1 459.0,440.0 460.8,443.0 459.2,444.0 458.1,445.3 456.0,446.9 455.2,451.1 457.1,454.2 458.7,458.2 458.4,459.5 456.2,457.8 454.3,455.0 453.4,453.0 451.0,451.6 448.0,450.9 445.8,450.4 443.9,451.2 444.6,453.2 442.1,452.7 437.8,452.2 436.5,452.7 433.9,455.2 434.3,458.5 434.6,464.3 437.6,469.4 440.1,471.0 443.6,470.3 445.3,468.4 445.5,466.4 450.1,465.6 450.0,469.7 449.0,470.5 449.6,474.6 452.8,474.8 456.7,476.0 456.9,482.9 458.1,484.5 461.1,486.5 463.2,485.3 466.2,486.7 468.3,485.7 468.9,483.9 469.8,482.9 472.4,482.4 473.6,480.7 474.6,483.2 476.6,481.2 479.7,483.7 481.3,483.5 485.5,483.5 488.5,483.4 490.0,485.3 494.4,489.8 498.9,491.3 503.2,492.9 505.1,494.4 506.7,498.0 506.1,501.0 508.9,503.3 515.0,505.1 519.7,505.8 523.3,507.1 527.9,510.6 528.3,512.7 527.8,515.8 524.5,519.1 521.9,522.4 519.9,530.2 517.2,534.5 515.6,537.3 512.1,538.7 509.2,540.2 503.3,543.8 501.9,548.0 499.2,550.4 496.8,552.9 493.5,556.2 490.6,558.3 487.5,558.5 484.7,558.0 485.3,559.5 485.7,561.0 483.4,563.6 476.6,565.1 474.9,567.9 471.1,568.2 470.4,571.0 468.4,573.4 463.5,576.5 463.9,579.5 459.9,582.0 456.1,585.6 456.1,586.7 453.2,590.6 455.5,591.0 453.5,592.3 451.2,591.0 449.7,588.6 448.8,586.2 450.9,580.7 454.3,576.6 457.7,572.6 459.1,569.3 461.7,563.6 463.2,561.6 467.3,555.4 469.2,550.4 471.2,545.5 473.2,539.9 474.5,534.0 474.8,531.5 472.7,529.0 468.7,526.5 467.2,523.2 466.5,520.8 464.7,516.7 462.7,512.5 461.0,509.7 462.2,506.6 463.0,504.6 461.8,502.6 463.1,499.5 464.7,498.5 466.3,495.2 466.5,490.0 465.6,488.6 463.3,486.5 462.1,489.0 459.7,487.5 457.2,487.0 454.2,484.7 453.9,482.9 451.4,479.7 448.9,478.8 445.2,477.9 442.0,475.0 440.1,474.3 437.7,475.1 432.6,473.3 429.4,471.5 423.7,467.4 424.0,465.6 422.1,462.8 419.5,459.8 417.0,457.3 414.5,454.9 412.4,452.4 410.7,449.4 408.0,448.6 410.6,453.2 411.9,454.9 414.3,458.2 416.4,461.1 417.8,463.1 416.5,462.3 413.7,460.1 410.5,456.5 409.4,454.0 406.8,450.9 404.6,447.4 402.4,445.1 399.2,444.1 396.7,440.7 395.4,438.7 393.1,435.9 392.0,434.3 391.6,431.8 390.0,425.0 388.1,421.5 389.8,420.2 386.7,418.1 382.8,415.8 378.5,411.8 373.6,408.0 368.8,405.7 364.1,403.7 359.4,403.4 356.1,401.9 352.8,403.5 350.5,404.6 348.4,407.2 345.7,408.7 342.9,410.3 339.4,411.0 336.4,411.7 339.2,409.7 343.7,407.2 344.0,405.2 338.9,404.9 337.8,403.4 334.9,402.6 334.6,400.4 335.0,398.6 338.6,396.7 336.4,396.6 332.5,396.6ZM448.5,399.7 438.4,397.7 431.1,397.0 433.9,393.8 429.3,391.0 422.4,389.2 415.6,388.6 409.9,386.9 412.5,384.2 417.2,384.0 423.9,385.6 431.1,387.6 436.4,389.6 444.1,393.1 446.4,394.1ZM380.1,386.9 380.8,384.6 388.0,384.9 394.5,385.6 399.6,388.9 396.7,390.0 389.6,390.6 383.8,389.6ZM373.4,386.9 373.4,383.2 379.1,383.6 381.9,384.9 379.1,386.9ZM403.1,381.6 416.2,382.9 408.8,380.7ZM403.7,380.4 415.9,381.0 414.1,377.4 421.5,376.2 398.9,376.2ZM378.8,381.6 390.5,381.6 388.4,380.4 378.7,380.3ZM398.1,386.2 400.5,384.2 402.6,385.6 401.7,386.9ZM420.9,396.7 428.1,397.4 424.7,398.9 421.4,398.2ZM472.4,422.8 474.7,419.7 473.0,416.6 471.5,417.8 480.9,422.8 480.8,424.4 477.9,423.7ZM453.0,464.9 456.9,463.4 459.7,462.9 463.6,465.1 468.8,467.7 464.1,468.2 463.2,466.9 457.8,464.7ZM468.9,470.5 470.8,468.2 475.1,468.7 477.5,470.5 475.3,471.0 473.1,471.7ZM463.3,470.7 466.4,471.3 465.6,471.7 463.5,471.0ZM479.2,470.7 481.6,470.8 481.3,471.3 479.5,471.3ZM382.4,417.7 386.4,418.9 389.8,421.5 386.9,420.7ZM329.9,415.0 334.7,413.4 332.3,413.9 327.4,415.5ZM466.0,585.1 470.2,585.1 468.5,586.5 465.6,586.2ZM129.2,613.1 149.7,612.8 168.5,611.0 181.5,608.2 199.1,609.6 203.8,612.4 207.0,612.4 209.3,608.9 219.6,608.2 230.0,607.4 240.9,607.4 252.2,608.2 262.8,607.4 274.1,608.4 285.4,610.3 296.6,613.1 302.1,615.1 307.3,615.8 308.1,622.8 317.5,623.7 336.1,623.7 346.0,622.2 356.4,620.4 366.8,619.1 377.3,618.2 386.6,619.1 397.5,617.8 408.7,616.4 418.2,617.1 426.0,614.4 437.4,610.3 445.8,606.0 456.1,603.4 450.9,605.3 446.6,607.4 443.1,613.1 435.1,619.8 439.0,623.4 448.4,623.4 462.3,621.0 477.5,617.8 492.0,615.1 505.8,613.1 480.3,625.8 154.7,625.8Z" fill="none" stroke="#444" stroke-width="1.1" stroke-linejoin="round"/>
<path d="M116.1,433.3 118.8,433.3 125.1,431.8 126.8,433.3 130.3,433.5 133.4,432.5 134.1,430.2 133.0,427.8 131.2,427.5 130.7,426.5 128.3,427.0 125.8,427.8 125.4,426.5 127.5,425.4 124.5,424.5 121.7,426.5 118.8,428.6 116.4,430.7 115.3,432.5ZM143.7,427.3 148.2,424.5 152.6,423.6 153.7,424.1 152.1,426.5 148.9,427.8 148.8,431.0 147.9,433.2 148.3,435.1 146.2,439.5 142.5,440.4 139.7,439.2 140.5,437.6 142.7,434.6 142.8,432.2 142.6,430.2 143.8,427.8Z" fill="none" stroke="#444" stroke-width="1.1"/>
<path d="M256.0,392.2 C262.4,391.9 269.4,392.5 275.3,394.5 C281.2,396.5 287.3,400.1 291.3,404.1 C295.3,408.1 297.9,413.4 299.3,418.5 C300.7,423.6 300.2,428.7 299.5,434.6 C298.8,440.5 296.4,447.5 295.0,453.9 C293.6,460.3 291.9,467.1 291.2,473.1 C290.5,479.1 290.3,484.7 291.0,490.0 C291.7,495.3 293.2,500.3 295.5,505.0 C297.8,509.7 301.4,513.2 305.0,518.0 C308.6,522.8 312.9,528.6 317.0,534.0 C321.1,539.4 326.7,544.8 329.9,550.2 C333.1,555.6 335.8,560.4 336.3,566.3 C336.8,572.2 335.2,579.1 333.1,585.5 C331.0,591.9 327.1,599.2 323.4,604.8 C319.6,610.4 316.0,616.3 310.6,619.3 C305.2,622.2 297.7,622.5 291.3,622.5 C284.9,622.5 278.4,621.2 272.0,619.3 C265.6,617.4 259.2,614.7 252.8,611.2 C246.4,607.7 239.9,603.8 233.5,598.4 C227.1,593.0 220.6,585.5 214.2,579.1 C207.8,572.7 200.9,566.3 195.0,559.9 C189.1,553.5 183.5,547.6 178.9,540.6 C174.3,533.6 170.2,525.6 167.7,518.1 C165.2,510.6 164.0,503.1 164.0,495.6 C164.0,488.1 165.8,480.1 167.7,473.1 C169.6,466.2 172.2,460.3 175.7,453.9 C179.2,447.5 183.7,440.5 188.5,434.6 C193.3,428.7 199.2,423.3 204.6,418.5 C210.0,413.7 215.3,409.4 220.7,405.7 C226.0,402.0 230.8,398.4 236.7,396.1 C242.6,393.9 249.6,392.5 256.0,392.2Z" fill="none" stroke="#8e1209" stroke-width="2.8" stroke-linejoin="round"/>
<path d="M249.6,416.9 C254.4,416.9 258.7,416.1 262.4,418.5 C266.1,420.9 269.3,426.6 272.0,431.4 C274.7,436.2 276.9,441.6 278.5,447.4 C280.1,453.2 280.8,460.1 281.7,466.0 C282.6,471.9 282.8,478.1 284.0,482.8 C285.2,487.5 287.0,490.4 289.0,494.0 C291.0,497.6 293.3,500.4 295.9,504.6 C298.5,508.8 301.8,514.3 304.7,519.0 C307.6,523.7 310.7,528.2 313.4,533.0 C316.1,537.8 319.3,543.0 321.0,548.0 C322.7,553.0 323.4,557.3 323.4,563.0 C323.4,568.7 322.9,576.2 321.0,582.0 C319.1,587.8 315.8,594.0 312.0,598.0 C308.2,602.0 303.2,604.7 298.0,606.0 C292.8,607.3 286.9,607.3 281.0,606.0 C275.1,604.7 269.2,601.8 262.4,598.4 C255.6,595.0 246.9,590.3 240.0,585.5 C233.1,580.7 227.1,575.4 220.7,569.5 C214.3,563.6 207.8,556.6 201.4,550.2 C195.0,543.8 186.9,537.4 182.1,531.0 C177.3,524.6 174.4,518.1 172.5,511.7 C170.6,505.3 170.3,498.8 170.5,492.4 C170.7,486.0 171.6,479.5 173.5,473.1 C175.4,466.7 178.0,459.8 182.1,453.9 C186.2,448.0 192.3,442.6 198.2,437.8 C204.1,433.0 211.5,428.2 217.4,425.0 C223.3,421.8 228.1,419.9 233.5,418.5 C238.9,417.1 244.8,416.9 249.6,416.9Z" fill="none" stroke="#8e1209" stroke-width="6.2" stroke-linejoin="round"/>
<path d="M243.1,436.2 C246.7,436.0 249.6,435.9 252.8,437.8 C256.0,439.7 259.7,443.1 262.4,447.4 C265.1,451.7 266.9,458.4 268.8,463.5 C270.7,468.6 271.8,473.2 274.0,478.0 C276.2,482.8 279.5,486.8 282.0,492.0 C284.5,497.2 286.8,503.5 289.0,509.0 C291.2,514.5 293.1,519.9 295.0,525.0 C296.9,530.1 299.1,534.7 300.5,539.6 C301.9,544.5 303.2,549.3 303.5,554.2 C303.8,559.1 303.8,564.8 302.0,568.8 C300.2,572.8 296.9,576.2 293.0,578.0 C289.1,579.8 283.3,580.0 278.4,579.5 C273.5,579.0 268.7,576.7 263.8,574.7 C258.9,572.7 254.1,570.1 249.2,567.4 C244.3,564.7 239.5,561.8 234.6,558.6 C229.7,555.4 224.9,551.8 220.0,548.4 C215.1,545.0 209.7,541.6 205.0,538.0 C200.3,534.4 195.7,530.8 192.0,527.0 C188.3,523.2 185.1,519.0 183.0,515.0 C180.9,511.0 179.8,507.5 179.5,503.0 C179.2,498.5 179.2,493.2 181.0,488.0 C182.8,482.8 186.3,477.0 190.0,472.0 C193.7,467.0 198.3,462.3 203.0,458.0 C207.7,453.7 213.3,449.2 218.0,446.0 C222.7,442.8 226.8,440.6 231.0,439.0 C235.2,437.4 239.5,436.4 243.1,436.2Z" fill="none" stroke="#8e1209" stroke-width="2.8" stroke-linejoin="round"/>
<path d="M243.1,449.0 C248.1,448.7 252.5,449.9 256.0,452.3 C259.5,454.7 261.5,459.4 264.0,463.5 C266.5,467.6 268.8,472.2 271.0,477.0 C273.2,481.8 275.5,486.5 277.5,492.0 C279.5,497.5 281.4,503.7 283.0,510.0 C284.6,516.3 286.0,523.8 287.0,530.0 C288.0,536.2 288.6,541.8 289.0,547.0 C289.4,552.2 290.5,557.2 289.5,561.0 C288.5,564.8 285.8,568.4 283.0,570.0 C280.2,571.6 276.3,571.5 272.6,570.5 C268.9,569.5 265.3,566.7 260.9,564.0 C256.5,561.3 251.2,557.3 246.3,554.2 C241.4,551.1 236.4,548.2 231.7,545.5 C227.0,542.8 222.6,540.6 218.0,538.0 C213.4,535.4 208.2,533.0 204.0,530.0 C199.8,527.0 195.8,523.8 193.0,520.0 C190.2,516.2 188.2,511.7 187.5,507.0 C186.8,502.3 187.6,496.8 189.0,492.0 C190.4,487.2 192.7,482.5 196.0,478.0 C199.3,473.5 204.0,469.0 209.0,465.0 C214.0,461.0 220.3,456.7 226.0,454.0 C231.7,451.3 238.1,449.3 243.1,449.0Z" fill="none" stroke="#8e1209" stroke-width="2.8" stroke-linejoin="round"/>
<path d="M241.3,461.5 C245.1,461.1 248.6,461.8 251.8,463.3 C255.0,464.8 258.1,467.1 260.6,470.3 C263.1,473.5 265.0,478.3 266.6,482.6 C268.2,486.9 269.4,490.6 270.5,496.0 C271.6,501.4 272.5,509.0 273.5,515.0 C274.5,521.0 275.7,526.9 276.5,532.0 C277.3,537.1 278.7,542.2 278.5,545.5 C278.3,548.8 277.1,551.0 275.5,552.0 C273.9,553.0 271.0,552.6 268.6,551.5 C266.2,550.4 264.1,547.7 260.9,545.5 C257.7,543.3 253.6,540.5 249.2,538.2 C244.8,536.0 239.5,534.0 234.6,532.0 C229.7,530.0 224.6,528.2 220.0,526.5 C215.4,524.8 210.7,523.3 207.0,521.5 C203.3,519.7 200.0,518.2 198.0,515.8 C196.0,513.4 195.0,510.5 195.0,507.0 C195.0,503.5 196.3,498.8 198.0,495.0 C199.7,491.2 202.0,487.7 205.0,484.3 C208.0,480.9 212.0,477.9 216.0,474.8 C220.0,471.8 224.9,468.2 229.1,466.0 C233.3,463.8 237.5,461.9 241.3,461.5Z" fill="none" stroke="#8e1209" stroke-width="2.8" stroke-linejoin="round"/>
<path d="M239.6,472.0 C243.1,471.7 247.2,472.3 250.1,473.8 C253.0,475.3 255.1,477.9 257.1,480.8 C259.1,483.7 260.6,487.5 262.0,491.3 C263.4,495.1 264.5,499.8 265.3,503.6 C266.1,507.4 267.3,511.3 267.0,514.1 C266.7,516.9 265.8,519.3 263.6,520.6 C261.4,521.9 257.6,521.9 253.6,521.8 C249.6,521.7 244.3,520.6 239.6,519.8 C234.9,519.0 230.0,518.0 225.5,516.8 C221.0,515.6 215.8,514.1 212.5,512.5 C209.2,510.9 207.0,509.2 206.0,507.1 C205.0,505.0 205.7,502.7 206.5,500.1 C207.3,497.5 208.8,494.2 211.0,491.3 C213.2,488.4 216.5,485.2 219.5,482.6 C222.5,480.0 225.8,477.4 229.1,475.6 C232.4,473.8 236.1,472.3 239.6,472.0Z" fill="none" stroke="#8e1209" stroke-width="2.8" stroke-linejoin="round"/>
<path d="M239.6,482.6 C242.1,482.5 244.4,482.7 246.6,484.3 C248.8,485.9 251.0,489.1 252.6,492.1 C254.2,495.2 255.5,499.7 256.1,502.6 C256.7,505.5 257.1,508.2 256.1,509.6 C255.1,511.0 253.2,510.9 250.1,510.8 C247.0,510.7 241.4,509.9 237.8,509.2 C234.2,508.5 230.6,507.8 228.3,506.6 C226.0,505.4 224.5,504.1 223.9,501.8 C223.3,499.6 223.6,495.9 224.8,493.1 C226.0,490.3 228.8,486.9 231.3,485.2 C233.8,483.4 237.1,482.8 239.6,482.6Z" fill="none" stroke="#8e1209" stroke-width="2.8" stroke-linejoin="round"/>
<path d="M500.2,487.4 C501.8,486.4 504.8,486.8 505.5,489.1 C506.2,491.4 504.4,498.2 504.6,501.4 C504.8,504.5 507.5,505.9 506.8,508.0 C506.1,510.1 502.8,513.4 500.2,513.7 C497.6,514.1 493.3,512.2 491.5,510.1 C489.7,508.1 488.6,503.9 489.3,501.4 C490.0,498.8 494.0,497.1 495.8,494.8 C497.6,492.5 498.6,488.3 500.2,487.4Z" fill="none" stroke="#8e1209" stroke-width="2.8" stroke-linejoin="round"/>
<path d="M298.3,496.5 C298.4,490.6 301.1,478.4 303.9,471.5 C306.7,464.6 310.9,460.0 315.0,454.9 C319.1,449.8 323.7,445.2 328.8,441.0 C333.9,436.8 340.9,434.0 345.5,429.9 C350.1,425.8 353.4,420.7 356.6,416.1 C359.8,411.5 361.7,405.9 364.9,402.2 C368.1,398.5 372.3,395.6 376.0,393.9 C379.7,392.1 382.9,391.5 387.1,391.7 C391.3,391.9 396.4,393.6 401.0,395.3 C405.6,397.1 410.2,399.7 414.8,402.2 C419.4,404.7 424.1,407.3 428.7,410.5 C433.3,413.7 438.4,417.9 442.6,421.6 C446.8,425.3 450.5,428.5 453.7,432.7 C456.9,436.9 459.9,441.5 462.0,446.6 C464.1,451.7 465.5,457.6 466.1,463.2 C466.7,468.8 465.6,474.3 465.5,479.9 C465.4,485.4 465.1,491.4 465.5,496.5 C465.9,501.6 467.0,504.8 468.0,510.4 C469.0,515.9 471.1,523.8 471.7,529.8 C472.3,535.8 472.4,541.8 471.7,546.4 C471.0,551.0 469.6,555.2 467.5,557.5 C465.4,559.8 461.9,561.2 459.2,560.3 C456.5,559.4 453.2,555.7 451.5,552.0 C449.8,548.3 449.2,542.1 449.0,538.1 C448.8,534.1 452.0,530.4 450.5,528.0 C449.0,525.6 443.7,523.9 439.8,523.5 C435.9,523.1 430.1,523.9 427.0,525.5 C423.9,527.1 422.8,529.2 421.0,533.0 C419.2,536.8 418.0,543.2 416.5,548.0 C415.0,552.8 413.9,557.3 412.0,562.0 C410.1,566.7 407.7,571.1 405.0,576.0 C402.3,580.9 399.4,587.2 396.0,591.5 C392.6,595.8 388.6,600.2 384.3,601.9 C380.0,603.6 374.1,603.8 370.4,601.9 C366.7,600.0 363.9,595.4 362.1,590.8 C360.3,586.2 360.2,580.0 359.5,574.2 C358.8,568.4 358.8,561.4 358.0,556.0 C357.2,550.6 356.7,546.2 354.5,542.0 C352.3,537.8 349.1,534.3 345.0,531.0 C340.9,527.7 335.2,524.8 330.0,522.0 C324.8,519.2 318.5,516.5 314.0,514.0 C309.5,511.5 305.6,509.9 303.0,507.0 C300.4,504.1 298.2,502.4 298.3,496.5Z" fill="none" stroke="#263bdc" stroke-width="2.6" stroke-dasharray="11,3,4.5,3"/>
<path d="M301.1,502.1 C301.2,497.2 303.8,488.2 306.6,482.6 C309.4,477.1 313.1,472.5 317.7,468.8 C322.3,465.1 329.3,463.2 334.4,460.4 C339.5,457.6 343.7,455.8 348.3,452.1 C352.9,448.4 357.0,442.9 362.1,438.3 C367.2,433.7 372.8,427.4 378.8,424.4 C384.8,421.4 392.2,420.2 398.2,420.2 C404.2,420.2 409.2,421.8 414.8,424.4 C420.4,426.9 426.4,431.4 431.5,435.5 C436.6,439.6 441.6,444.2 445.3,449.3 C449.0,454.4 451.9,460.4 453.7,466.0 C455.5,471.6 455.9,477.5 456.4,482.6 C456.8,487.7 457.3,492.3 456.4,496.5 C455.5,500.7 454.1,504.9 450.9,507.6 C447.7,510.3 441.6,511.7 437.0,512.5 C432.4,513.3 427.6,511.6 423.4,512.5 C419.2,513.4 414.7,515.8 412.0,518.0 C409.3,520.2 408.6,522.6 407.4,526.0 C406.1,529.4 405.5,534.2 404.5,538.2 C403.5,542.2 402.7,546.0 401.5,549.9 C400.3,553.8 399.4,558.6 397.2,561.5 C395.0,564.4 391.3,566.2 388.4,567.4 C385.5,568.6 382.3,569.8 379.6,568.8 C376.9,567.8 374.7,564.9 372.3,561.5 C369.9,558.1 367.2,552.3 365.0,548.4 C362.8,544.5 361.6,541.4 359.2,538.2 C356.8,535.0 354.3,531.7 350.4,529.4 C346.5,527.1 341.4,526.1 336.0,524.5 C330.6,522.9 323.0,522.1 318.0,520.0 C313.0,517.9 308.8,515.0 306.0,512.0 C303.2,509.0 301.0,507.0 301.1,502.1Z" fill="none" stroke="#263bdc" stroke-width="5.2" stroke-dasharray="18,4"/>
<path d="M306.6,499.3 C306.4,495.0 311.3,487.2 315.0,482.6 C318.7,478.0 323.7,473.8 328.8,471.5 C333.9,469.2 340.4,470.2 345.5,468.8 C350.6,467.4 354.7,465.5 359.3,463.2 C363.9,460.9 368.6,457.7 373.2,454.9 C377.8,452.1 382.5,448.2 387.1,446.6 C391.7,445.0 396.4,444.8 401.0,445.2 C405.6,445.6 410.2,446.8 414.8,449.3 C419.4,451.8 424.5,456.7 428.7,460.4 C432.9,464.1 437.0,467.3 439.8,471.5 C442.6,475.7 444.4,481.2 445.3,485.4 C446.2,489.6 446.7,493.7 445.3,496.5 C443.9,499.3 440.1,500.9 437.0,502.1 C433.9,503.4 430.2,503.3 427.0,504.0 C423.8,504.7 420.6,505.2 417.6,506.1 C414.6,507.0 411.7,508.3 408.8,509.5 C405.9,510.7 402.5,511.8 400.1,513.4 C397.7,515.0 395.7,516.5 394.2,519.2 C392.7,521.9 392.5,526.2 391.3,529.4 C390.1,532.6 388.8,536.2 386.9,538.2 C384.9,540.2 382.3,542.1 379.6,541.1 C376.9,540.1 374.3,535.2 370.9,532.3 C367.5,529.4 363.6,526.0 359.2,523.6 C354.8,521.2 349.5,519.3 344.6,517.7 C339.7,516.1 334.8,515.5 330.0,514.0 C325.2,512.5 319.9,510.9 316.0,508.5 C312.1,506.1 306.8,503.6 306.6,499.3Z" fill="none" stroke="#263bdc" stroke-width="2.6" stroke-dasharray="11,3,4.5,3"/>
<path d="M312.0,502.6 C312.8,499.4 318.4,494.8 322.5,492.0 C326.6,489.2 331.8,487.1 336.5,485.9 C341.2,484.7 345.4,485.4 350.6,485.0 C355.9,484.6 362.8,484.2 368.0,483.3 C373.2,482.4 377.4,481.6 382.1,479.8 C386.8,478.1 391.9,474.9 396.0,472.8 C400.1,470.8 402.9,468.1 406.6,467.5 C410.3,466.9 414.4,467.9 418.0,469.3 C421.6,470.7 425.7,473.2 428.0,476.0 C430.3,478.8 432.0,483.0 432.0,486.0 C432.0,489.0 430.3,491.8 428.0,494.0 C425.7,496.2 422.1,497.3 418.0,499.0 C413.9,500.7 408.5,502.5 403.1,504.3 C397.7,506.1 391.5,507.9 385.6,509.6 C379.8,511.4 373.8,513.6 368.0,514.8 C362.2,516.0 356.4,516.6 350.6,516.6 C344.8,516.6 338.4,515.7 333.0,514.8 C327.6,513.9 321.5,513.0 318.0,511.0 C314.5,509.0 311.2,505.8 312.0,502.6Z" fill="none" stroke="#263bdc" stroke-width="2.6" stroke-dasharray="11,3,4.5,3"/>
<path d="M317.3,506.0 C317.3,504.0 323.7,499.5 327.8,497.3 C331.9,495.1 337.1,493.8 341.8,492.9 C346.5,492.0 350.8,492.4 355.8,492.0 C360.8,491.6 366.6,491.2 371.6,490.3 C376.6,489.4 381.2,488.0 385.6,486.8 C390.0,485.6 393.8,483.6 397.9,483.3 C402.0,483.0 407.2,483.6 410.1,485.0 C413.0,486.4 415.4,489.9 415.4,492.0 C415.4,494.1 413.3,495.8 410.1,497.3 C406.9,498.8 400.8,499.9 396.1,500.8 C391.4,501.7 386.8,501.7 382.1,502.6 C377.4,503.5 372.7,504.8 368.0,506.0 C363.3,507.2 358.4,508.9 354.0,509.6 C349.6,510.4 346.1,510.5 341.8,510.5 C337.5,510.5 332.1,510.2 328.0,509.5 C323.9,508.8 317.3,508.0 317.3,506.0Z" fill="none" stroke="#263bdc" stroke-width="2.6" stroke-dasharray="11,3,4.5,3"/>
<path d="M329.5,502.6 C330.1,501.1 333.6,498.5 336.5,497.3 C339.4,496.1 343.6,495.7 347.0,495.5 C350.4,495.3 354.5,495.1 357.0,496.0 C359.5,496.9 362.2,499.3 362.0,501.0 C361.8,502.7 359.2,504.9 356.0,506.0 C352.8,507.1 346.8,507.4 343.0,507.5 C339.2,507.6 335.2,507.3 333.0,506.5 C330.8,505.7 328.9,504.1 329.5,502.6Z" fill="none" stroke="#263bdc" stroke-width="2.6" stroke-dasharray="11,3,4.5,3"/>
<path d="M132.8,453.1 C131.6,452.1 128.7,452.4 125.5,453.1 C122.3,453.8 118.2,455.8 113.8,457.5 C109.4,459.2 103.3,461.2 99.2,463.4 C95.1,465.6 91.4,467.5 89.0,470.7 C86.6,473.9 85.3,477.7 84.6,482.3 C83.9,486.9 84.6,493.3 84.6,498.4 C84.6,503.5 84.1,509.1 84.6,513.0 C85.1,516.9 85.5,518.9 87.5,521.8 C89.5,524.7 92.9,528.1 96.3,530.5 C99.7,532.9 103.4,535.2 108.0,536.4 C112.6,537.6 119.9,536.6 124.0,537.6 C128.1,538.6 129.6,540.2 132.8,542.2 C136.0,544.2 139.3,547.3 143.0,549.5 C146.7,551.7 152.0,554.8 154.7,555.3 C157.4,555.8 158.9,554.6 159.1,552.4 C159.3,550.2 157.3,546.3 156.1,542.2 C154.9,538.1 153.0,533.0 151.8,527.6 C150.6,522.2 149.5,515.5 148.8,510.1 C148.1,504.8 148.1,499.4 147.4,495.5 C146.7,491.6 146.0,489.6 144.5,486.7 C143.0,483.8 140.3,480.9 138.6,478.0 C136.9,475.1 135.2,472.4 134.2,469.2 C133.2,466.0 133.0,461.7 132.8,459.0 C132.6,456.3 134.0,454.1 132.8,453.1Z" fill="none" stroke="#263bdc" stroke-width="2.6" stroke-dasharray="11,3,4.5,3"/>
<path d="M128.4,488.2 C130.4,490.4 130.3,492.3 131.3,495.5 C132.3,498.7 134.2,504.5 134.2,507.2 C134.2,509.9 132.8,510.9 131.3,511.5 C129.9,512.1 127.7,511.0 125.5,510.8 C123.3,510.6 120.9,510.5 118.2,510.1 C115.5,509.7 112.1,509.3 109.4,508.6 C106.7,507.9 103.5,507.4 102.1,505.7 C100.6,504.0 100.7,501.3 100.7,498.4 C100.7,495.5 101.1,490.8 102.1,488.2 C103.1,485.6 104.5,484.2 106.5,483.1 C108.5,482.0 111.6,481.7 113.8,481.6 C116.0,481.5 117.2,481.2 119.6,482.3 C122.0,483.4 126.5,486.0 128.4,488.2Z" fill="none" stroke="#263bdc" stroke-width="5.2" stroke-dasharray="18,4"/>
</g>
<path d="M154.7,376.2 L163.7,376.2 L172.8,376.2 L181.8,376.2 L190.8,376.2 L199.9,376.2 L208.9,376.2 L218.0,376.2 L227.0,376.2 L236.1,376.2 L245.1,376.2 L254.2,376.2 L263.2,376.2 L272.3,376.2 L281.3,376.2 L290.4,376.2 L299.4,376.2 L308.5,376.2 L317.5,376.2 L326.5,376.2 L335.6,376.2 L344.6,376.2 L353.7,376.2 L362.7,376.2 L371.8,376.2 L380.8,376.2 L389.9,376.2 L398.9,376.2 L408.0,376.2 L417.0,376.2 L426.1,376.2 L435.1,376.2 L444.2,376.2 L453.2,376.2 L462.2,376.2 L471.3,376.2 L480.3,376.2 L480.3,376.2 L487.1,379.2 L493.9,382.2 L499.9,385.6 L505.8,388.9 L511.2,392.4 L516.6,396.0 L521.7,399.7 L526.8,403.4 L531.6,407.2 L536.4,411.0 L540.7,415.0 L545.0,418.9 L548.7,422.9 L552.4,427.0 L555.7,431.0 L559.1,435.1 L561.8,439.2 L564.6,443.3 L566.8,447.4 L569.1,451.6 L570.8,455.7 L572.5,459.8 L573.7,463.9 L574.9,468.0 L576.0,472.2 L577.0,476.3 L577.7,480.4 L578.4,484.5 L578.8,488.6 L579.2,492.8 L579.4,496.9 L579.6,501.0 L579.4,505.1 L579.2,509.2 L578.8,513.4 L578.4,517.5 L577.7,521.6 L577.0,525.7 L576.0,529.8 L574.9,534.0 L573.7,538.1 L572.5,542.2 L570.8,546.3 L569.1,550.4 L566.8,554.6 L564.6,558.7 L561.8,562.8 L559.1,566.9 L555.7,571.0 L552.4,575.0 L548.7,579.1 L545.0,583.1 L540.7,587.0 L536.4,591.0 L531.6,594.8 L526.8,598.6 L521.7,602.3 L516.6,606.0 L511.2,609.6 L505.8,613.1 L499.9,616.4 L493.9,619.8 L487.1,622.8 L480.3,625.8 L480.3,625.8 L471.3,625.8 L462.2,625.8 L453.2,625.8 L444.2,625.8 L435.1,625.8 L426.1,625.8 L417.0,625.8 L408.0,625.8 L398.9,625.8 L389.9,625.8 L380.8,625.8 L371.8,625.8 L362.7,625.8 L353.7,625.8 L344.6,625.8 L335.6,625.8 L326.5,625.8 L317.5,625.8 L308.5,625.8 L299.4,625.8 L290.4,625.8 L281.3,625.8 L272.3,625.8 L263.2,625.8 L254.2,625.8 L245.1,625.8 L236.1,625.8 L227.0,625.8 L218.0,625.8 L208.9,625.8 L199.9,625.8 L190.8,625.8 L181.8,625.8 L172.8,625.8 L163.7,625.8 L154.7,625.8 L154.7,625.8 L147.9,622.8 L141.1,619.8 L135.1,616.4 L129.2,613.1 L123.8,609.6 L118.4,606.0 L113.3,602.3 L108.2,598.6 L103.4,594.8 L98.6,591.0 L94.3,587.0 L90.0,583.1 L86.3,579.1 L82.6,575.0 L79.3,571.0 L75.9,566.9 L73.2,562.8 L70.4,558.7 L68.2,554.6 L65.9,550.4 L64.2,546.3 L62.5,542.2 L61.3,538.1 L60.1,534.0 L59.0,529.8 L58.0,525.7 L57.3,521.6 L56.6,517.5 L56.2,513.4 L55.8,509.2 L55.6,505.1 L55.4,501.0 L55.6,496.9 L55.8,492.8 L56.2,488.6 L56.6,484.5 L57.3,480.4 L58.0,476.3 L59.0,472.2 L60.1,468.0 L61.3,463.9 L62.5,459.8 L64.2,455.7 L65.9,451.6 L68.2,447.4 L70.4,443.3 L73.2,439.2 L75.9,435.1 L79.3,431.0 L82.6,427.0 L86.3,422.9 L90.0,418.9 L94.3,415.0 L98.6,411.0 L103.4,407.2 L108.2,403.4 L113.3,399.7 L118.4,396.0 L123.8,392.4 L129.2,388.9 L135.1,385.6 L141.1,382.2 L147.9,379.2 L154.7,376.2 Z" fill="none" stroke="#000" stroke-width="2.6"/>
<g style="font-family:'Liberation Serif','Times New Roman',serif;font-size:27.6px"><text x="99.7" y="412.7" text-anchor="end">60°N</text>
<line x1="108.2" y1="403.4" x2="112.7" y2="403.4" stroke="#000" stroke-width="2.2"/>
<line x1="526.8" y1="403.4" x2="522.3" y2="403.4" stroke="#000" stroke-width="2.2"/>
<text x="57.4" y="460.9" text-anchor="end">30°N</text>
<line x1="65.9" y1="451.6" x2="70.4" y2="451.6" stroke="#000" stroke-width="2.2"/>
<line x1="569.1" y1="451.6" x2="564.6" y2="451.6" stroke="#000" stroke-width="2.2"/>
<text x="41.4" y="510.3" text-anchor="end">0°</text>
<line x1="55.4" y1="501.0" x2="59.9" y2="501.0" stroke="#000" stroke-width="2.2"/>
<line x1="579.6" y1="501.0" x2="575.1" y2="501.0" stroke="#000" stroke-width="2.2"/>
<text x="57.4" y="559.7" text-anchor="end">30°S</text>
<line x1="65.9" y1="550.4" x2="70.4" y2="550.4" stroke="#000" stroke-width="2.2"/>
<line x1="569.1" y1="550.4" x2="564.6" y2="550.4" stroke="#000" stroke-width="2.2"/>
<text x="99.7" y="607.9" text-anchor="end">60°S</text>
<line x1="108.2" y1="598.6" x2="112.7" y2="598.6" stroke="#000" stroke-width="2.2"/>
<line x1="526.8" y1="598.6" x2="522.3" y2="598.6" stroke="#000" stroke-width="2.2"/>
<line x1="208.9" y1="376.2" x2="208.9" y2="380.7" stroke="#000" stroke-width="2.2"/>
<line x1="208.9" y1="625.8" x2="208.9" y2="621.3" stroke="#000" stroke-width="2.2"/>
<line x1="317.5" y1="376.2" x2="317.5" y2="380.7" stroke="#000" stroke-width="2.2"/>
<line x1="317.5" y1="625.8" x2="317.5" y2="621.3" stroke="#000" stroke-width="2.2"/>
<line x1="426.1" y1="376.2" x2="426.1" y2="380.7" stroke="#000" stroke-width="2.2"/>
<line x1="426.1" y1="625.8" x2="426.1" y2="621.3" stroke="#000" stroke-width="2.2"/></g>
<clipPath id="clipc"><path d="M154.7,724.2 L163.7,724.2 L172.8,724.2 L181.8,724.2 L190.8,724.2 L199.9,724.2 L208.9,724.2 L218.0,724.2 L227.0,724.2 L236.1,724.2 L245.1,724.2 L254.2,724.2 L263.2,724.2 L272.3,724.2 L281.3,724.2 L290.4,724.2 L299.4,724.2 L308.5,724.2 L317.5,724.2 L326.5,724.2 L335.6,724.2 L344.6,724.2 L353.7,724.2 L362.7,724.2 L371.8,724.2 L380.8,724.2 L389.9,724.2 L398.9,724.2 L408.0,724.2 L417.0,724.2 L426.1,724.2 L435.1,724.2 L444.2,724.2 L453.2,724.2 L462.2,724.2 L471.3,724.2 L480.3,724.2 L480.3,724.2 L487.1,727.2 L493.9,730.2 L499.9,733.6 L505.8,736.9 L511.2,740.4 L516.6,744.0 L521.7,747.7 L526.8,751.4 L531.6,755.2 L536.4,759.0 L540.7,763.0 L545.0,766.9 L548.7,770.9 L552.4,775.0 L555.7,779.0 L559.1,783.1 L561.8,787.2 L564.6,791.3 L566.8,795.4 L569.1,799.6 L570.8,803.7 L572.5,807.8 L573.7,811.9 L574.9,816.0 L576.0,820.2 L577.0,824.3 L577.7,828.4 L578.4,832.5 L578.8,836.6 L579.2,840.8 L579.4,844.9 L579.6,849.0 L579.4,853.1 L579.2,857.2 L578.8,861.4 L578.4,865.5 L577.7,869.6 L577.0,873.7 L576.0,877.8 L574.9,882.0 L573.7,886.1 L572.5,890.2 L570.8,894.3 L569.1,898.4 L566.8,902.6 L564.6,906.7 L561.8,910.8 L559.1,914.9 L555.7,919.0 L552.4,923.0 L548.7,927.1 L545.0,931.1 L540.7,935.0 L536.4,939.0 L531.6,942.8 L526.8,946.6 L521.7,950.3 L516.6,954.0 L511.2,957.6 L505.8,961.1 L499.9,964.4 L493.9,967.8 L487.1,970.8 L480.3,973.8 L480.3,973.8 L471.3,973.8 L462.2,973.8 L453.2,973.8 L444.2,973.8 L435.1,973.8 L426.1,973.8 L417.0,973.8 L408.0,973.8 L398.9,973.8 L389.9,973.8 L380.8,973.8 L371.8,973.8 L362.7,973.8 L353.7,973.8 L344.6,973.8 L335.6,973.8 L326.5,973.8 L317.5,973.8 L308.5,973.8 L299.4,973.8 L290.4,973.8 L281.3,973.8 L272.3,973.8 L263.2,973.8 L254.2,973.8 L245.1,973.8 L236.1,973.8 L227.0,973.8 L218.0,973.8 L208.9,973.8 L199.9,973.8 L190.8,973.8 L181.8,973.8 L172.8,973.8 L163.7,973.8 L154.7,973.8 L154.7,973.8 L147.9,970.8 L141.1,967.8 L135.1,964.4 L129.2,961.1 L123.8,957.6 L118.4,954.0 L113.3,950.3 L108.2,946.6 L103.4,942.8 L98.6,939.0 L94.3,935.0 L90.0,931.1 L86.3,927.1 L82.6,923.0 L79.3,919.0 L75.9,914.9 L73.2,910.8 L70.4,906.7 L68.2,902.6 L65.9,898.4 L64.2,894.3 L62.5,890.2 L61.3,886.1 L60.1,882.0 L59.0,877.8 L58.0,873.7 L57.3,869.6 L56.6,865.5 L56.2,861.4 L55.8,857.2 L55.6,853.1 L55.4,849.0 L55.6,844.9 L55.8,840.8 L56.2,836.6 L56.6,832.5 L57.3,828.4 L58.0,824.3 L59.0,820.2 L60.1,816.0 L61.3,811.9 L62.5,807.8 L64.2,803.7 L65.9,799.6 L68.2,795.4 L70.4,791.3 L73.2,787.2 L75.9,783.1 L79.3,779.0 L82.6,775.0 L86.3,770.9 L90.0,766.9 L94.3,763.0 L98.6,759.0 L103.4,755.2 L108.2,751.4 L113.3,747.7 L118.4,744.0 L123.8,740.4 L129.2,736.9 L135.1,733.6 L141.1,730.2 L147.9,727.2 L154.7,724.2 Z"/></clipPath>
<g clip-path="url(#clipc)">
<rect x="0" y="719.0" width="685" height="260" fill="#fff"/>
<path d="M40,805 C150,800 250,808 350,806 C420,805 480,798 590,790 L590,935 L40,935Z" fill="#f6dac9"/>
<ellipse cx="118" cy="790" rx="78" ry="22" transform="rotate(0 118 790)" fill="#f6dac9"/>
<ellipse cx="170" cy="808" rx="22" ry="13" transform="rotate(0 170 808)" fill="#ffffff"/>
<ellipse cx="212" cy="886" rx="42" ry="9" transform="rotate(12 212 886)" fill="#ffffff"/>
<ellipse cx="358" cy="898" rx="40" ry="16" transform="rotate(0 358 898)" fill="#ffffff"/>
<ellipse cx="470" cy="924" rx="32" ry="15" transform="rotate(0 470 924)" fill="#ffffff"/>
<ellipse cx="303" cy="938" rx="32" ry="8" transform="rotate(0 303 938)" fill="#ffffff"/>
<ellipse cx="158" cy="925" rx="32" ry="8" transform="rotate(0 158 925)" fill="#ffffff"/>
<ellipse cx="560" cy="930" rx="40" ry="8" transform="rotate(-20 560 930)" fill="#ffffff"/>
<ellipse cx="124" cy="793" rx="20" ry="9" transform="rotate(0 124 793)" fill="#eaa184"/>
<ellipse cx="130" cy="847" rx="22" ry="15" transform="rotate(0 130 847)" fill="#eaa184"/>
<ellipse cx="105" cy="888" rx="42" ry="10" transform="rotate(10 105 888)" fill="#eaa184"/>
<ellipse cx="307" cy="848" rx="26" ry="34" transform="rotate(0 307 848)" fill="#eaa184"/>
<ellipse cx="395" cy="843" rx="80" ry="28" transform="rotate(0 395 843)" fill="#eaa184"/>
<ellipse cx="500" cy="885" rx="55" ry="18" transform="rotate(0 500 885)" fill="#eaa184"/>
<ellipse cx="410" cy="872" rx="52" ry="11" transform="rotate(5 410 872)" fill="#d5604e"/>
<ellipse cx="307.2" cy="885.4" rx="6" ry="4" transform="rotate(0 307.2 885.4)" fill="#d5604e"/>
<ellipse cx="398" cy="888" rx="4" ry="7" transform="rotate(0 398 888)" fill="#b02331"/>
<ellipse cx="214.5" cy="749.5" rx="44" ry="25" transform="rotate(0 214.5 749.5)" fill="#f6dac9"/>
<ellipse cx="214.5" cy="749.5" rx="34" ry="19" transform="rotate(0 214.5 749.5)" fill="#eaa184"/>
<ellipse cx="214.5" cy="749.5" rx="26" ry="13" transform="rotate(0 214.5 749.5)" fill="#d5604e"/>
<ellipse cx="214.5" cy="749.5" rx="13.5" ry="6" transform="rotate(0 214.5 749.5)" fill="#b02331"/>
<ellipse cx="311" cy="767.3" rx="28" ry="16" transform="rotate(0 311 767.3)" fill="#f6dac9"/>
<ellipse cx="311" cy="767.3" rx="19" ry="10.5" transform="rotate(0 311 767.3)" fill="#eaa184"/>
<ellipse cx="311" cy="767.3" rx="9" ry="4.5" transform="rotate(0 311 767.3)" fill="#d5604e"/>
<ellipse cx="394" cy="745.5" rx="44" ry="21" transform="rotate(0 394 745.5)" fill="#f6dac9"/>
<ellipse cx="394" cy="745.5" rx="32" ry="14" transform="rotate(0 394 745.5)" fill="#eaa184"/>
<ellipse cx="394" cy="745.5" rx="18" ry="7.7" transform="rotate(0 394 745.5)" fill="#d5604e"/>
<ellipse cx="86" cy="782" rx="33" ry="19" transform="rotate(-20 86 782)" fill="#f6dac9"/>
<ellipse cx="86" cy="782" rx="22" ry="12" transform="rotate(-20 86 782)" fill="#d5604e"/>
<ellipse cx="86" cy="782" rx="11" ry="7" transform="rotate(-20 86 782)" fill="#b02331"/>
<ellipse cx="521.5" cy="797" rx="70" ry="22" transform="rotate(-15 521.5 797)" fill="#f6dac9"/>
<ellipse cx="521.5" cy="797" rx="55" ry="14" transform="rotate(-15 521.5 797)" fill="#eaa184"/>
<ellipse cx="521.5" cy="797" rx="43" ry="9" transform="rotate(-15 521.5 797)" fill="#d5604e"/>
<ellipse cx="560" cy="789" rx="10" ry="6" transform="rotate(-15 560 789)" fill="#b02331"/>
<ellipse cx="511.3" cy="893.4" rx="38" ry="12" transform="rotate(0 511.3 893.4)" fill="#d5604e"/>
<ellipse cx="511.3" cy="893.4" rx="16" ry="6.5" transform="rotate(0 511.3 893.4)" fill="#b02331"/>
<ellipse cx="511.3" cy="893.4" rx="9" ry="3.2" transform="rotate(0 511.3 893.4)" fill="#670a24"/>
<ellipse cx="236" cy="920" rx="52" ry="24" transform="rotate(18 236 920)" fill="#f6dac9"/>
<ellipse cx="236" cy="920" rx="43" ry="18" transform="rotate(18 236 920)" fill="#eaa184"/>
<ellipse cx="236" cy="920" rx="29" ry="11.5" transform="rotate(18 236 920)" fill="#d5604e"/>
<ellipse cx="236" cy="920" rx="11" ry="5" transform="rotate(18 236 920)" fill="#b02331"/>
<ellipse cx="126.5" cy="954.6" rx="55" ry="28" transform="rotate(15 126.5 954.6)" fill="#f6dac9"/>
<ellipse cx="126.5" cy="954.6" rx="43" ry="22" transform="rotate(15 126.5 954.6)" fill="#eaa184"/>
<ellipse cx="126.5" cy="954.6" rx="36" ry="18.5" transform="rotate(15 126.5 954.6)" fill="#d5604e"/>
<ellipse cx="126.5" cy="954.6" rx="27" ry="14" transform="rotate(15 126.5 954.6)" fill="#b02331"/>
<ellipse cx="126.5" cy="954.6" rx="16.6" ry="9" transform="rotate(15 126.5 954.6)" fill="#670a24"/>
<ellipse cx="381.2" cy="944.4" rx="50" ry="33" transform="rotate(-10 381.2 944.4)" fill="#f6dac9"/>
<ellipse cx="381.2" cy="944.4" rx="42" ry="27" transform="rotate(-10 381.2 944.4)" fill="#eaa184"/>
<ellipse cx="381.2" cy="944.4" rx="30.6" ry="20.4" transform="rotate(-10 381.2 944.4)" fill="#d5604e"/>
<ellipse cx="381.2" cy="944.4" rx="21.7" ry="14" transform="rotate(-10 381.2 944.4)" fill="#b02331"/>
<ellipse cx="381.2" cy="944.4" rx="11.5" ry="5" transform="rotate(-10 381.2 944.4)" fill="#670a24"/>
<ellipse cx="516.4" cy="949.5" rx="52" ry="27" transform="rotate(-20 516.4 949.5)" fill="#f6dac9"/>
<ellipse cx="516.4" cy="949.5" rx="42" ry="21" transform="rotate(-20 516.4 949.5)" fill="#eaa184"/>
<ellipse cx="516.4" cy="949.5" rx="32" ry="16" transform="rotate(-20 516.4 949.5)" fill="#d5604e"/>
<ellipse cx="516.4" cy="949.5" rx="20" ry="11" transform="rotate(-20 516.4 949.5)" fill="#b02331"/>
<ellipse cx="516.4" cy="949.5" rx="9" ry="5" transform="rotate(-20 516.4 949.5)" fill="#670a24"/>
<ellipse cx="139" cy="746" rx="32" ry="17" transform="rotate(0 139 746)" fill="#d3e6ef"/>
<ellipse cx="145.6" cy="741.6" rx="19" ry="6.5" transform="rotate(0 145.6 741.6)" fill="#97c7dd"/>
<ellipse cx="250" cy="728" rx="80" ry="6" transform="rotate(0 250 728)" fill="#d3e6ef"/>
<ellipse cx="363.4" cy="782.5" rx="28" ry="12" transform="rotate(0 363.4 782.5)" fill="#d3e6ef"/>
<ellipse cx="513" cy="761" rx="17" ry="12" transform="rotate(0 513 761)" fill="#d3e6ef"/>
<ellipse cx="460" cy="781" rx="16" ry="9" transform="rotate(0 460 781)" fill="#d3e6ef"/>
<ellipse cx="358" cy="900" rx="13" ry="6.5" transform="rotate(0 358 900)" fill="#97c7dd"/>
<ellipse cx="358" cy="900" rx="5" ry="3.5" transform="rotate(0 358 900)" fill="#5a9fc9"/>
<ellipse cx="460.3" cy="924" rx="30" ry="14" transform="rotate(0 460.3 924)" fill="#d3e6ef"/>
<ellipse cx="460.3" cy="924" rx="18" ry="8" transform="rotate(0 460.3 924)" fill="#97c7dd"/>
<ellipse cx="460.3" cy="924" rx="6" ry="3" transform="rotate(0 460.3 924)" fill="#5a9fc9"/>
<ellipse cx="300" cy="958.5" rx="33" ry="15" transform="rotate(0 300 958.5)" fill="#d3e6ef"/>
<ellipse cx="300" cy="958.5" rx="21.7" ry="8.3" transform="rotate(0 300 958.5)" fill="#97c7dd"/>
<ellipse cx="300" cy="958.5" rx="9" ry="4" transform="rotate(0 300 958.5)" fill="#5a9fc9"/>
<path d="M63.2,790.0 60.1,793.0 52.8,798.9 45.7,803.4 39.1,809.9 36.1,814.6 36.2,817.0 36.3,819.3 34.7,822.6 32.7,824.8 33.0,828.4 34.6,830.0 36.7,833.3 37.2,835.0 39.4,837.6 42.7,840.8 44.8,841.7 48.5,840.6 52.8,841.1 55.9,839.8 57.7,838.9 59.5,838.5 62.5,838.6 63.9,841.6 65.2,841.9 68.1,841.6 69.5,842.6 69.8,845.0 69.4,847.4 69.0,849.8 68.3,850.6 70.2,853.9 72.9,856.9 73.8,858.9 75.6,863.5 76.1,869.6 75.5,874.5 75.9,877.5 77.6,880.3 81.8,886.1 85.1,893.0 88.1,896.1 92.3,900.9 94.9,905.0 97.7,906.3 99.8,905.0 104.7,904.9 107.0,902.7 109.0,898.3 109.8,893.5 109.6,891.8 112.1,888.6 111.6,885.3 109.8,881.6 112.1,878.3 114.7,876.2 116.4,873.7 115.7,868.8 114.0,862.2 113.1,860.2 113.4,855.6 115.2,852.3 117.3,849.8 121.5,845.7 125.6,840.8 128.1,835.8 130.9,831.7 131.2,829.6 126.4,830.5 121.9,831.9 119.7,830.0 119.0,828.4 117.0,825.1 115.1,823.5 114.5,819.3 113.7,814.4 112.6,810.3 112.6,806.2 112.1,803.2 111.4,799.7 111.5,802.0 112.5,803.2 114.4,800.4 113.7,802.9 114.7,806.2 115.9,809.4 116.7,813.6 117.8,816.9 119.2,821.0 119.7,824.3 119.9,828.1 122.4,827.9 127.7,825.9 133.4,823.3 136.4,821.0 138.8,819.7 141.3,817.9 142.9,815.2 144.9,813.6 146.4,811.9 144.9,810.1 142.4,808.0 142.8,805.8 141.3,807.0 138.7,809.3 135.8,809.4 135.6,807.3 136.1,806.0 134.4,808.1 134.2,805.8 133.1,803.7 132.6,800.7 133.7,799.6 135.9,799.2 136.9,803.0 139.8,805.0 143.3,804.2 144.0,806.5 149.8,807.5 156.9,807.1 157.3,808.1 159.1,810.3 160.9,811.9 159.4,812.3 161.1,814.7 164.3,813.9 163.9,817.7 164.2,822.6 165.5,827.9 167.2,832.7 168.8,835.7 169.8,834.3 172.3,832.0 173.5,827.4 173.6,823.5 177.0,821.6 178.7,819.8 182.7,816.4 184.7,813.9 186.6,813.2 188.5,812.9 190.8,811.9 191.9,812.3 192.2,814.9 194.3,818.0 194.2,822.6 195.6,823.0 199.0,821.8 199.2,825.9 199.5,832.5 198.9,835.8 201.7,839.1 201.7,842.4 203.0,844.4 206.1,846.9 207.2,846.7 206.1,842.4 204.6,838.8 202.1,837.1 201.5,833.3 200.4,832.0 202.0,826.9 203.2,828.1 205.4,829.2 206.8,831.7 208.4,834.8 211.3,832.0 214.8,830.0 215.3,826.3 214.3,822.5 212.0,819.3 211.3,817.2 212.8,814.9 214.8,813.6 217.2,813.6 218.0,815.5 219.1,813.6 222.8,812.4 227.5,810.6 229.7,808.6 232.0,806.2 234.6,802.9 236.4,799.9 236.6,797.7 235.7,795.3 235.0,792.1 234.0,791.3 235.9,789.7 239.3,788.0 237.5,786.9 234.6,787.7 233.7,785.9 233.5,784.8 236.2,783.4 238.7,781.8 240.1,782.3 238.2,785.1 240.2,783.9 242.7,783.3 243.3,786.4 245.0,787.2 243.7,791.7 245.4,791.8 247.7,791.2 248.5,788.9 248.0,785.9 247.0,783.4 250.3,781.8 251.0,779.8 254.1,778.1 255.4,778.5 259.1,776.8 264.0,771.7 266.8,769.3 268.0,765.3 269.5,763.5 269.5,761.4 265.3,760.9 262.9,759.5 266.7,756.9 270.6,754.7 274.5,752.3 280.1,752.4 284.6,752.9 288.2,752.4 290.9,749.0 294.7,748.7 294.5,749.9 289.0,755.2 288.3,765.5 291.1,762.2 293.1,759.8 295.8,757.2 297.7,754.4 299.8,751.5 305.9,751.4 309.5,748.9 314.7,747.7 316.4,744.3 318.6,744.0 325.3,745.0 325.8,743.3 328.8,742.6 326.2,741.3 322.9,740.4 317.5,738.5 315.4,737.6 307.0,736.9 297.5,737.6 296.3,735.8 288.5,735.7 284.0,733.8 277.0,733.6 265.8,735.6 265.8,733.6 264.5,732.2 255.5,732.2 250.8,731.8 248.0,731.6 251.9,729.0 246.1,727.0 238.4,729.0 228.0,729.6 225.1,731.6 218.0,732.2 215.5,734.2 214.0,733.7 211.7,733.0 207.0,735.6 200.8,741.8 198.1,741.6 198.6,739.3 206.8,732.9 199.5,736.2 190.5,738.3 184.2,739.3 182.1,739.7 172.4,739.3 168.6,742.1 166.2,741.8 162.4,744.7 157.7,745.4 156.1,744.7 157.5,741.8 168.4,740.0 165.3,738.2 162.5,737.9 158.3,735.4 150.1,736.9 141.9,739.0 135.8,741.8 127.5,745.4 118.0,748.4 114.4,751.4 112.5,753.1 112.7,754.4 118.8,752.8 118.6,753.7 118.0,754.9 115.9,757.5 116.9,758.3 120.4,757.0 123.2,755.2 128.5,752.4 131.1,749.2 133.1,747.7 140.7,744.7 144.6,742.8 146.5,744.0 138.6,746.9 135.0,749.9 134.9,750.9 137.6,751.1 142.2,750.6 143.1,751.5 139.9,752.1 134.2,752.6 132.8,754.4 128.7,755.5 125.9,757.5 124.3,759.0 121.4,760.0 120.3,760.0 116.8,760.3 114.2,760.8 111.9,760.3 110.3,760.6 110.5,759.4 116.3,754.9 112.9,755.8 109.4,758.3 107.5,760.6 104.7,761.4 101.9,761.7 100.3,763.0 97.2,764.7 94.9,765.3 92.9,766.1 89.4,767.7 87.5,767.6 86.1,768.9 81.8,769.3 83.4,771.3 82.5,773.4 78.6,777.4 75.2,777.6 70.4,777.1 67.7,778.2 65.5,781.5 61.7,785.2 60.5,788.0 63.7,788.5 63.9,789.7 66.3,788.5 69.7,788.4 73.4,785.9 74.9,785.1 75.0,783.9 78.5,781.5 80.7,780.8 83.4,779.2 84.2,777.9 86.8,777.6 90.5,777.1 93.5,775.9 94.5,776.8 94.6,780.3 96.1,781.8 97.0,783.1 94.9,786.4 96.6,785.6 98.4,784.1 98.2,783.1 99.6,782.3 100.9,782.9 100.1,781.3 99.6,780.0 97.8,779.0 97.9,776.3 99.2,774.3 101.3,774.0 101.8,774.6 102.2,777.4 103.4,778.9 104.1,780.0 102.7,782.3 102.6,783.9 102.4,786.1 102.0,788.4 102.7,789.0 105.1,786.6 105.7,786.6 106.7,785.6 107.4,782.1 109.1,781.8 111.8,781.8 111.5,782.9 110.8,785.7 109.8,788.0 111.1,788.5 114.1,788.4 116.0,789.5 119.5,788.4 121.5,788.7 120.0,790.5 118.3,793.1 116.5,795.4 115.3,796.9 112.8,797.7 112.0,797.4 108.8,797.4 102.1,796.9 100.1,795.3 95.7,796.1 93.4,799.1 88.8,797.1 86.8,794.8 84.2,793.8 84.2,791.7 87.6,788.0 86.7,787.7 83.4,788.2 76.5,788.4 71.4,789.8 67.8,791.2 64.2,789.8ZM555.6,790.0 556.1,793.0 555.4,798.9 552.1,803.4 550.4,809.9 550.1,814.6 551.6,817.0 552.8,819.3 552.8,822.6 551.8,824.8 553.4,828.4 555.5,830.0 558.6,833.3 559.5,835.0 562.2,837.6 566.1,840.8 568.4,841.7 571.9,840.6 576.3,841.1 579.1,839.8 580.8,838.9 582.5,838.5 585.6,838.6 587.4,841.6 588.7,841.9 591.6,841.6 593.1,842.6 593.7,845.0 593.5,847.4 593.1,849.8 592.3,850.6 593.9,853.9 596.4,856.9 596.9,858.9 597.7,863.5 596.5,869.6 594.1,874.5 593.0,877.5 593.2,880.3 594.2,886.1 592.8,893.0 593.2,896.1 592.8,900.9 590.8,905.0 592.2,906.3 595.8,905.0 600.9,904.9 605.5,902.7 612.4,898.3 617.1,893.5 618.3,891.8 623.1,888.6 624.6,885.3 624.8,881.6 628.8,878.3 632.5,876.2 635.4,873.7 636.4,868.8 636.5,862.2 636.0,860.2 637.0,855.6 639.1,852.3 641.4,849.8 645.4,845.7 649.0,840.8 650.6,835.8 652.4,831.7 651.9,829.6 647.5,830.5 643.5,831.9 640.6,830.0 639.4,828.4 636.3,825.1 633.7,823.5 631.0,819.3 627.6,814.4 624.1,810.3 621.3,806.2 618.3,803.2 614.8,799.7 616.7,802.0 618.7,803.2 618.3,800.4 619.7,802.9 623.4,806.2 626.9,809.4 630.1,813.6 633.1,816.9 636.5,821.0 638.7,824.3 640.2,828.1 642.6,827.9 647.3,825.9 651.9,823.3 653.8,821.0 655.5,819.7 657.0,817.9 657.3,815.2 658.4,813.6 658.9,811.9 656.3,810.1 652.5,808.0 651.2,805.8 650.7,807.0 649.6,809.3 646.8,809.4 645.2,807.3 644.7,806.0 644.6,808.1 642.6,805.8 639.8,803.7 636.8,800.7 636.9,799.6 638.8,799.2 642.9,803.0 647.5,805.0 650.3,804.2 653.0,806.5 659.6,807.5 666.4,807.1 667.6,808.1 670.6,810.3 673.4,811.9 672.1,812.3 675.2,814.7 677.9,813.9 679.6,817.7 682.4,822.6 685.7,827.9 689.0,832.7 691.2,835.7 692.0,834.3 693.9,832.0 693.5,827.4 692.2,823.5 694.7,821.6 695.4,819.8 697.8,816.4 698.3,813.9 699.9,813.2 701.6,812.9 703.3,811.9 704.6,812.3 706.4,814.9 710.1,818.0 712.3,822.6 713.9,823.0 716.7,821.8 718.7,825.9 721.3,832.5 721.4,835.8 724.8,839.1 725.3,842.4 726.8,844.4 730.2,846.9 731.2,846.7 729.7,842.4 727.7,838.8 724.8,837.1 723.5,833.3 722.0,832.0 721.8,826.9 723.4,828.1 726.1,829.2 728.3,831.7 730.7,834.8 732.9,832.0 735.7,830.0 734.9,826.3 732.4,822.5 728.6,819.3 726.7,817.2 727.0,814.9 728.2,813.6 730.7,813.6 732.6,815.5 732.5,813.6 735.5,812.4 739.2,810.6 740.2,808.6 740.7,806.2 740.5,802.9 739.9,799.9 737.8,797.7 734.2,795.3 730.1,792.1 728.2,791.3 727.9,789.7 729.0,788.0 725.7,786.9 723.9,787.7 720.5,785.9 718.8,784.8 719.8,783.4 719.6,781.8 721.9,782.3 723.9,785.1 724.4,783.9 726.0,783.3 730.8,786.4 733.7,787.2 738.3,791.7 740.1,791.8 741.6,791.2 739.4,788.9 734.9,785.9 730.5,783.4 731.3,781.8 728.8,779.8 728.9,778.1 731.0,778.5 731.8,776.8 727.9,771.7 726.2,769.3 719.5,765.3 716.9,763.5 712.4,761.4 707.2,760.9 701.6,759.5 699.1,756.9 697.7,754.7 695.4,752.3 701.3,752.4 707.1,752.9 709.5,752.4 703.0,749.0 705.9,748.7 709.0,749.9 717.1,755.2 740.1,765.5 735.7,762.2 732.5,759.8 729.0,757.2 724.0,754.4 718.8,751.5 724.5,751.4 721.2,748.9 723.1,747.7 715.4,744.3 716.8,744.0 726.4,745.0 721.8,743.3 722.7,742.6 716.2,741.3 710.3,740.4 698.9,738.5 694.2,737.6 683.7,736.9 676.4,737.6 669.1,735.8 660.9,735.7 649.7,733.8 641.8,733.6 637.8,735.6 630.6,733.6 624.5,732.2 615.5,732.2 609.4,731.8 605.6,731.6 599.3,729.0 584.3,727.0 585.8,729.0 578.2,729.6 582.8,731.6 578.0,732.2 582.7,734.2 579.3,733.7 574.5,733.0 578.9,735.6 592.6,741.8 589.0,741.6 582.6,739.3 569.2,732.9 573.8,736.2 571.5,738.3 568.2,739.3 567.4,739.7 556.4,739.3 561.3,742.1 558.0,741.8 562.7,744.7 560.0,745.4 556.3,744.7 549.3,741.8 554.6,740.0 545.8,738.2 542.2,737.9 529.7,735.4 526.8,736.9 525.0,739.0 527.5,741.8 529.8,745.4 528.4,748.4 533.0,751.4 535.4,753.1 538.9,754.4 540.8,752.8 543.0,753.7 545.4,754.9 549.8,757.5 552.7,758.3 553.1,757.0 551.3,755.2 549.8,752.4 543.6,749.2 541.6,747.7 541.0,744.7 539.3,742.8 544.7,744.0 545.0,746.9 549.5,749.9 552.3,750.9 555.4,751.1 558.8,750.6 562.2,751.5 560.5,752.1 555.9,752.6 559.0,754.4 557.6,755.5 559.8,757.5 562.0,759.0 561.2,760.0 560.1,760.0 557.3,760.3 555.7,760.8 552.4,760.3 551.4,760.6 548.9,759.4 543.7,754.9 542.6,755.8 545.2,758.3 548.6,760.6 547.6,761.4 545.4,761.7 546.6,763.0 547.3,764.7 546.4,765.3 546.1,766.1 545.8,767.7 543.7,767.6 544.6,768.9 541.2,769.3 546.4,771.3 549.4,773.4 552.4,777.4 549.3,777.6 543.6,777.1 542.8,778.2 546.0,781.5 547.7,785.2 550.3,788.0 554.1,788.5 555.8,789.7 556.7,788.5 559.9,788.4 560.3,785.9 560.6,785.1 559.2,783.9 558.9,781.5 560.1,780.8 560.1,779.2 558.7,777.9 560.8,777.6 563.7,777.1 564.8,775.9 567.3,776.8 573.1,780.3 577.1,781.8 580.1,783.1 582.4,786.4 583.0,785.6 582.9,784.1 581.3,783.1 581.4,782.3 583.7,782.9 580.3,781.3 577.6,780.0 574.3,779.0 569.8,776.3 567.8,774.3 569.3,774.0 571.0,774.6 576.0,777.4 579.5,778.9 582.1,780.0 584.5,782.3 586.8,783.9 589.5,786.1 592.1,788.4 593.7,789.0 592.8,786.6 593.5,786.6 593.1,785.6 588.9,782.1 590.1,781.8 592.7,781.8 594.3,782.9 597.5,785.7 599.5,788.0 601.5,788.5 604.3,788.4 607.8,789.5 609.7,788.4 612.1,788.7 613.1,790.5 614.5,793.1 615.2,795.4 615.6,796.9 614.1,797.7 612.9,797.4 609.7,797.4 602.4,796.9 598.6,795.3 595.1,796.1 596.1,799.1 589.3,797.1 584.7,794.8 581.1,793.8 578.8,791.7 577.3,788.0 576.0,787.7 573.4,788.2 566.7,788.4 563.6,789.8 561.7,791.2 556.3,789.8ZM82.8,766.9 87.3,766.0 93.7,765.2 96.6,762.8 96.3,761.6 97.3,760.1 97.9,758.1 100.3,755.8 101.9,753.5 99.6,753.5 94.5,756.4 92.9,758.3 92.2,759.5 93.0,760.6 92.2,761.6 90.0,761.7 88.6,763.5 86.5,764.1 88.4,764.7 86.3,765.2ZM537.8,766.9 540.2,766.0 544.8,765.2 542.6,762.8 539.5,761.6 537.4,760.1 533.3,758.1 530.0,755.8 525.8,753.5 523.6,753.5 525.7,756.4 528.7,758.3 530.9,759.5 534.2,760.6 535.4,761.6 533.6,761.7 536.0,763.5 535.3,764.1 538.6,764.7 537.4,765.2ZM533.7,763.5 531.5,761.6 530.1,759.7 526.9,758.6 526.8,759.8 526.6,761.4 529.4,763.5 529.0,764.1 531.6,764.4ZM494.1,745.4 489.1,743.3 489.6,742.0 496.0,741.8 500.1,743.3 501.3,745.0 499.6,746.3ZM475.6,751.4 469.5,749.9 461.7,745.4 455.2,741.8 453.4,739.7 452.5,736.9 447.7,735.6 440.7,731.6 433.3,729.0 426.7,728.4 420.2,727.2 422.3,726.0 421.5,724.2 444.2,724.2 462.2,724.2 466.5,725.4 471.9,729.0 477.4,731.6 478.6,734.2 481.8,736.2 481.4,739.0 475.9,739.7 474.8,743.3 473.2,744.7 474.8,748.4ZM185.3,735.6 191.7,732.9 197.9,730.2 204.5,728.4 211.1,727.8 204.7,729.6 197.3,731.6 192.1,734.2 187.5,736.2ZM162.1,725.4 160.7,728.3 168.6,727.2 176.3,725.6 179.1,724.2 164.6,724.2ZM249.9,793.0 252.4,790.7 256.2,790.2 258.8,787.5 261.3,786.6 263.5,783.4 264.0,782.1 266.1,780.8 266.1,782.5 266.3,784.8 264.7,786.4 264.3,788.2 263.9,790.2 262.3,791.3 260.9,792.0 258.4,792.0 256.5,794.0 255.6,792.5 252.8,792.3 250.7,793.1ZM248.5,793.8 247.9,795.1 248.2,797.6 249.3,797.9 250.6,795.4 250.0,793.1ZM251.8,794.6 255.0,793.3 254.6,792.5 252.2,793.1ZM264.3,780.7 264.7,778.2 266.8,777.7 267.6,774.3 269.1,775.8 272.0,776.1 272.0,777.7 268.8,779.8 265.7,780.2ZM268.2,773.4 270.4,772.2 270.4,768.5 271.9,767.7 271.6,764.6 272.1,762.2 271.8,760.1 270.5,763.8 268.9,768.5ZM232.3,811.1 233.9,807.8 235.2,807.6 234.3,811.1 233.1,812.9ZM215.3,817.4 217.4,815.9 218.8,816.7 216.5,819.0ZM231.1,822.6 232.3,818.5 234.6,818.5 234.3,821.0 233.4,823.0 233.8,825.8 236.6,827.6 236.4,828.1 233.6,826.3 231.8,826.3 231.0,824.3ZM233.3,837.5 235.5,835.8 238.5,832.8 239.8,836.6 238.3,839.6 236.1,838.6ZM233.6,829.6 235.3,830.9 236.3,832.5 237.9,830.9 238.7,828.4 236.9,828.2 235.1,829.2ZM226.4,835.3 229.9,830.4 230.3,831.7 226.8,835.3ZM214.2,846.5 215.0,850.6 216.1,853.8 218.3,854.8 222.2,855.3 224.4,854.8 225.1,851.5 226.5,849.0 228.6,847.4 227.8,840.8 229.3,840.3 226.3,837.5 224.5,839.1 223.4,840.8 221.4,841.7 217.8,844.9 215.6,846.0ZM194.4,839.8 197.6,840.4 201.5,844.9 206.1,849.8 207.6,852.1 209.8,854.3 209.7,858.6 207.8,858.7 204.5,855.6 201.6,850.6 199.3,846.2 196.8,843.2ZM208.9,860.2 211.1,859.1 213.6,859.7 216.4,860.4 219.8,860.4 222.3,861.9 222.6,863.3 217.4,862.5 213.0,861.9 210.8,861.2ZM223.2,862.8 226.1,862.5 229.0,862.8 231.9,862.7 234.8,862.5 234.8,863.5 229.0,863.7 224.7,863.7ZM236.3,865.3 237.7,863.8 241.0,862.8 239.2,864.3 237.1,865.8ZM229.4,858.1 229.5,854.8 228.5,853.3 229.7,850.3 230.2,847.8 231.5,846.9 236.7,846.5 237.7,846.5 236.0,848.2 231.6,848.2 234.2,850.5 232.2,852.1 235.0,856.1 233.9,857.9 232.0,855.6 230.9,858.2ZM241.1,846.0 241.8,848.2 242.8,847.4 242.2,849.8 241.2,850.0 240.8,847.7ZM241.9,854.3 245.9,854.4 245.5,855.3 242.3,854.9ZM246.2,851.1 248.3,849.7 250.7,850.5 252.8,854.4 256.2,851.5 260.8,853.3 265.9,855.3 267.8,857.6 270.3,859.4 270.9,862.2 274.0,866.0 271.1,865.8 268.2,862.2 265.2,861.7 264.3,863.8 260.9,864.0 258.0,862.3 256.6,862.7 255.8,857.2 252.1,856.3 249.1,855.6 247.7,853.6 250.1,852.8ZM271.7,858.1 274.6,857.2 276.8,855.9 277.2,858.1 274.6,859.2 272.5,859.1ZM283.4,860.2 287.0,862.2 290.0,864.7 289.2,865.5 285.6,863.5 282.7,860.9ZM223.0,885.3 224.6,892.3 226.3,896.8 228.3,901.7 227.8,904.4 228.2,905.7 232.3,906.8 234.8,904.9 239.6,904.9 242.6,902.2 246.6,901.2 250.1,900.9 254.1,902.7 256.5,906.3 259.0,903.4 259.7,905.9 260.5,906.7 262.2,908.3 264.4,911.6 268.2,912.9 269.9,911.3 272.1,913.4 274.1,911.3 276.8,910.8 276.7,907.8 277.8,904.9 279.3,901.7 280.5,896.1 279.4,891.0 276.3,887.7 273.2,883.6 270.0,880.6 267.7,875.4 267.5,873.7 265.0,872.1 263.2,866.6 262.0,869.8 262.1,873.7 261.2,877.7 258.6,876.7 255.6,875.0 253.3,873.4 254.9,869.1 253.9,868.8 248.9,867.8 246.6,869.1 245.3,870.9 244.5,873.6 242.2,872.6 239.3,872.9 237.4,875.9 234.6,878.7 233.1,881.3 229.7,882.5 227.1,882.9ZM270.2,916.0 275.2,916.4 275.3,919.8 273.8,920.8 271.4,918.5ZM307.5,905.7 309.7,907.5 311.4,910.0 315.5,911.1 313.5,914.1 313.2,915.7 311.1,917.5 310.3,917.0 310.5,914.7 309.1,913.6 310.2,910.8 307.9,907.0ZM307.7,915.7 309.9,917.7 308.3,920.6 306.1,921.9 305.4,924.5 303.3,925.6 300.0,924.6 300.5,922.7 302.4,921.4 305.0,919.8 306.2,917.7ZM294.6,882.3 299.0,885.7 298.3,885.7 294.9,883.3ZM313.6,877.8 315.3,877.5 315.5,878.8 313.9,879.0ZM128.5,868.8 131.0,874.5 130.3,877.0 129.6,886.1 129.2,890.0 126.8,891.0 123.8,887.7 122.5,884.4 123.4,881.1 122.1,877.0 125.0,875.0 126.9,872.1ZM171.9,838.3 172.1,835.8 172.5,832.8 174.3,835.0 175.0,837.5 174.1,838.8 172.3,839.1ZM330.7,743.1 334.4,741.8 335.1,741.0 332.4,739.3 335.4,737.6 341.4,735.2 346.5,735.8 354.1,736.9 358.5,737.5 364.1,738.3 366.4,737.6 370.9,736.9 375.4,737.6 381.0,738.3 387.1,739.7 394.1,739.0 399.1,740.2 405.3,739.7 408.0,737.6 404.8,734.9 409.6,736.9 413.8,738.3 417.5,739.0 420.6,737.6 422.0,741.8 419.3,741.8 422.5,745.4 418.1,745.4 417.7,749.9 417.8,752.9 422.0,756.0 428.4,757.5 436.2,758.9 438.3,762.3 442.0,764.9 442.7,763.0 440.9,759.0 440.0,755.2 435.5,750.6 434.0,748.0 438.0,748.0 444.2,749.9 447.4,753.2 451.3,753.7 451.4,750.9 459.7,756.7 467.6,760.6 472.0,763.5 470.9,764.7 468.9,766.6 463.9,766.6 460.9,766.9 459.1,769.3 458.1,772.1 460.1,770.9 464.9,768.9 464.9,770.5 467.1,773.0 472.2,774.0 473.1,773.4 469.9,775.6 467.8,777.4 466.3,775.0 465.1,775.3 463.2,776.1 461.9,777.2 462.0,779.0 463.7,780.3 462.0,780.8 459.4,782.1 460.1,783.9 459.2,785.1 459.0,788.0 460.8,791.0 459.2,792.0 458.1,793.3 456.0,794.9 455.2,799.1 457.1,802.2 458.7,806.2 458.4,807.5 456.2,805.8 454.3,803.0 453.4,801.0 451.0,799.6 448.0,798.9 445.8,798.4 443.9,799.2 444.6,801.2 442.1,800.7 437.8,800.2 436.5,800.7 433.9,803.2 434.3,806.5 434.6,812.3 437.6,817.4 440.1,819.0 443.6,818.3 445.3,816.4 445.5,814.4 450.1,813.6 450.0,817.7 449.0,818.5 449.6,822.6 452.8,822.8 456.7,824.0 456.9,830.9 458.1,832.5 461.1,834.5 463.2,833.3 466.2,834.7 468.3,833.7 468.9,831.9 469.8,830.9 472.4,830.4 473.6,828.7 474.6,831.2 476.6,829.2 479.7,831.7 481.3,831.5 485.5,831.5 488.5,831.4 490.0,833.3 494.4,837.8 498.9,839.3 503.2,840.9 505.1,842.4 506.7,846.0 506.1,849.0 508.9,851.3 515.0,853.1 519.7,853.8 523.3,855.1 527.9,858.6 528.3,860.7 527.8,863.8 524.5,867.1 521.9,870.4 519.9,878.2 517.2,882.5 515.6,885.3 512.1,886.7 509.2,888.2 503.3,891.8 501.9,896.0 499.2,898.4 496.8,900.9 493.5,904.2 490.6,906.3 487.5,906.5 484.7,906.0 485.3,907.5 485.7,909.0 483.4,911.6 476.6,913.1 474.9,915.9 471.1,916.2 470.4,919.0 468.4,921.4 463.5,924.5 463.9,927.5 459.9,930.0 456.1,933.6 456.1,934.7 453.2,938.6 455.5,939.0 453.5,940.3 451.2,939.0 449.7,936.6 448.8,934.2 450.9,928.7 454.3,924.6 457.7,920.6 459.1,917.3 461.7,911.6 463.2,909.6 467.3,903.4 469.2,898.4 471.2,893.5 473.2,887.9 474.5,882.0 474.8,879.5 472.7,877.0 468.7,874.5 467.2,871.2 466.5,868.8 464.7,864.7 462.7,860.5 461.0,857.7 462.2,854.6 463.0,852.6 461.8,850.6 463.1,847.5 464.7,846.5 466.3,843.2 466.5,838.0 465.6,836.6 463.3,834.5 462.1,837.0 459.7,835.5 457.2,835.0 454.2,832.7 453.9,830.9 451.4,827.7 448.9,826.8 445.2,825.9 442.0,823.0 440.1,822.3 437.7,823.1 432.6,821.3 429.4,819.5 423.7,815.4 424.0,813.6 422.1,810.8 419.5,807.8 417.0,805.3 414.5,802.9 412.4,800.4 410.7,797.4 408.0,796.6 410.6,801.2 411.9,802.9 414.3,806.2 416.4,809.1 417.8,811.1 416.5,810.3 413.7,808.1 410.5,804.5 409.4,802.0 406.8,798.9 404.6,795.4 402.4,793.1 399.2,792.1 396.7,788.7 395.4,786.7 393.1,783.9 392.0,782.3 391.6,779.8 390.0,773.0 388.1,769.5 389.8,768.2 386.7,766.1 382.8,763.8 378.5,759.8 373.6,756.0 368.8,753.7 364.1,751.7 359.4,751.4 356.1,749.9 352.8,751.5 350.5,752.6 348.4,755.2 345.7,756.7 342.9,758.3 339.4,759.0 336.4,759.7 339.2,757.7 343.7,755.2 344.0,753.2 338.9,752.9 337.8,751.4 334.9,750.6 334.6,748.4 335.0,746.6 338.6,744.7 336.4,744.6 332.5,744.6ZM448.5,747.7 438.4,745.7 431.1,745.0 433.9,741.8 429.3,739.0 422.4,737.2 415.6,736.6 409.9,734.9 412.5,732.2 417.2,732.0 423.9,733.6 431.1,735.6 436.4,737.6 444.1,741.1 446.4,742.1ZM380.1,734.9 380.8,732.6 388.0,732.9 394.5,733.6 399.6,736.9 396.7,738.0 389.6,738.6 383.8,737.6ZM373.4,734.9 373.4,731.2 379.1,731.6 381.9,732.9 379.1,734.9ZM403.1,729.6 416.2,730.9 408.8,728.7ZM403.7,728.4 415.9,729.0 414.1,725.4 421.5,724.2 398.9,724.2ZM378.8,729.6 390.5,729.6 388.4,728.4 378.7,728.3ZM398.1,734.2 400.5,732.2 402.6,733.6 401.7,734.9ZM420.9,744.7 428.1,745.4 424.7,746.9 421.4,746.2ZM472.4,770.8 474.7,767.7 473.0,764.6 471.5,765.8 480.9,770.8 480.8,772.4 477.9,771.7ZM453.0,812.9 456.9,811.4 459.7,810.9 463.6,813.1 468.8,815.7 464.1,816.2 463.2,814.9 457.8,812.7ZM468.9,818.5 470.8,816.2 475.1,816.7 477.5,818.5 475.3,819.0 473.1,819.7ZM463.3,818.7 466.4,819.3 465.6,819.7 463.5,819.0ZM479.2,818.7 481.6,818.8 481.3,819.3 479.5,819.3ZM382.4,765.7 386.4,766.9 389.8,769.5 386.9,768.7ZM329.9,763.0 334.7,761.4 332.3,761.9 327.4,763.5ZM466.0,933.1 470.2,933.1 468.5,934.5 465.6,934.2ZM129.2,961.1 149.7,960.8 168.5,959.0 181.5,956.2 199.1,957.6 203.8,960.4 207.0,960.4 209.3,956.9 219.6,956.2 230.0,955.4 240.9,955.4 252.2,956.2 262.8,955.4 274.1,956.4 285.4,958.3 296.6,961.1 302.1,963.1 307.3,963.8 308.1,970.8 317.5,971.7 336.1,971.7 346.0,970.2 356.4,968.4 366.8,967.1 377.3,966.2 386.6,967.1 397.5,965.8 408.7,964.4 418.2,965.1 426.0,962.4 437.4,958.3 445.8,954.0 456.1,951.4 450.9,953.3 446.6,955.4 443.1,961.1 435.1,967.8 439.0,971.4 448.4,971.4 462.3,969.0 477.5,965.8 492.0,963.1 505.8,961.1 480.3,973.8 154.7,973.8Z" fill="none" stroke="#444" stroke-width="1.1" stroke-linejoin="round"/>
<path d="M116.1,781.3 118.8,781.3 125.1,779.8 126.8,781.3 130.3,781.5 133.4,780.5 134.1,778.2 133.0,775.8 131.2,775.5 130.7,774.5 128.3,775.0 125.8,775.8 125.4,774.5 127.5,773.4 124.5,772.5 121.7,774.5 118.8,776.6 116.4,778.7 115.3,780.5ZM143.7,775.3 148.2,772.5 152.6,771.6 153.7,772.1 152.1,774.5 148.9,775.8 148.8,779.0 147.9,781.2 148.3,783.1 146.2,787.5 142.5,788.4 139.7,787.2 140.5,785.6 142.7,782.6 142.8,780.2 142.6,778.2 143.8,775.8Z" fill="none" stroke="#444" stroke-width="1.1"/>
<path d="M155.8,846.7 C158.4,842.3 162.4,834.9 166.3,831.0 C170.2,827.1 174.2,824.4 179.4,823.1 C184.7,821.8 193.4,824.9 197.8,823.1 C202.2,821.4 203.5,817.9 205.7,812.6 C207.9,807.3 208.8,796.8 211.0,791.5 C213.2,786.2 215.3,784.3 218.8,781.0 C222.3,777.7 227.6,774.0 232.0,771.8 C236.4,769.6 241.6,768.1 245.1,767.9 C248.6,767.7 250.8,768.3 253.0,770.5 C255.2,772.7 256.7,777.5 258.2,781.0 C259.7,784.5 261.3,786.2 262.2,791.5 C263.1,796.8 263.1,805.6 263.5,812.6 C263.9,819.6 263.9,825.7 264.8,833.6 C265.7,841.5 266.8,852.5 268.8,859.9 C270.8,867.3 272.7,873.8 276.6,878.2 C280.5,882.6 287.6,883.5 292.4,886.1 C297.2,888.7 302.9,890.5 305.5,894.0 C308.1,897.5 308.2,901.5 308.2,907.2 C308.2,912.9 307.2,921.6 305.5,928.2 C303.8,934.8 300.8,941.4 297.7,946.6 C294.6,951.9 291.1,956.6 287.2,959.7 C283.2,962.8 279.3,964.6 274.0,965.0 C268.7,965.4 262.2,964.9 255.6,962.3 C249.0,959.7 241.6,954.0 234.6,949.2 C227.6,944.4 220.6,939.1 213.6,933.4 C206.6,927.7 199.2,920.7 192.6,915.0 C186.0,909.3 179.9,904.5 174.2,899.3 C168.5,894.0 162.3,888.3 158.4,883.5 C154.5,878.7 151.8,874.8 150.5,870.4 C149.2,866.0 149.6,861.2 150.5,857.2 C151.4,853.2 153.2,851.1 155.8,846.7Z" fill="none" stroke="#8e1209" stroke-width="2.8" stroke-linejoin="round"/>
<path d="M155.8,849.3 C158.9,844.9 165.4,841.4 171.5,838.8 C177.6,836.2 186.0,835.4 192.6,833.6 C199.2,831.9 205.3,830.9 211.0,828.3 C216.7,825.7 222.3,821.7 226.7,817.8 C231.1,813.9 234.1,808.2 237.2,804.7 C240.3,801.2 242.9,797.2 245.1,796.8 C247.3,796.3 249.1,798.5 250.4,802.0 C251.7,805.5 252.1,811.7 253.0,817.8 C253.9,823.9 254.3,830.9 255.6,838.8 C256.9,846.7 258.3,858.1 260.9,865.1 C263.5,872.1 267.0,877.0 271.4,880.9 C275.8,884.8 283.3,885.7 287.2,888.8 C291.1,891.9 293.7,895.4 295.0,899.3 C296.3,903.2 295.9,908.0 295.0,912.4 C294.1,916.8 292.4,921.5 289.8,925.5 C287.2,929.5 283.2,933.5 279.3,936.1 C275.4,938.7 270.9,940.9 266.1,941.3 C261.3,941.7 256.1,940.5 250.4,938.7 C244.7,937.0 238.1,933.9 232.0,930.8 C225.9,927.7 220.2,924.2 213.6,920.3 C207.0,916.4 199.2,912.0 192.6,907.2 C186.0,902.4 179.5,896.2 174.2,891.4 C168.9,886.6 164.5,882.6 161.0,878.2 C157.5,873.8 154.0,869.9 153.1,865.1 C152.2,860.3 152.7,853.7 155.8,849.3Z" fill="none" stroke="#8e1209" stroke-width="6.2" stroke-linejoin="round"/>
<path d="M156.0,851.0 C157.9,848.7 163.8,846.4 168.0,845.0 C172.2,843.6 174.8,843.2 181.0,842.5 C187.2,841.8 197.0,841.4 205.0,841.0 C213.0,840.6 222.8,839.8 229.0,840.0 C235.2,840.2 238.5,840.0 242.0,842.0 C245.5,844.0 247.8,848.0 250.0,852.0 C252.2,856.0 253.4,860.5 255.0,866.0 C256.6,871.5 258.3,879.0 259.5,885.0 C260.7,891.0 261.6,897.5 262.0,902.0 C262.4,906.5 263.2,909.8 262.0,912.0 C260.8,914.2 258.7,916.2 255.0,915.5 C251.3,914.8 246.0,911.1 240.0,908.0 C234.0,904.9 226.0,900.6 219.0,897.0 C212.0,893.4 204.8,889.8 198.0,886.5 C191.2,883.2 183.8,880.2 178.0,877.0 C172.2,873.8 166.6,870.0 163.0,867.0 C159.4,864.0 157.7,861.7 156.5,859.0 C155.3,856.3 154.1,853.3 156.0,851.0Z" fill="none" stroke="#8e1209" stroke-width="2.8" stroke-linejoin="round"/>
<path d="M156.5,853.0 C158.2,851.1 162.9,849.7 167.0,848.5 C171.1,847.3 175.8,846.4 181.0,846.0 C186.2,845.6 192.3,845.4 198.0,846.0 C203.7,846.6 210.1,848.0 215.0,849.5 C219.9,851.0 223.8,852.6 227.3,855.0 C230.8,857.4 233.7,860.2 236.0,864.0 C238.3,867.8 240.3,873.8 241.4,877.8 C242.5,881.8 243.2,885.7 242.6,888.0 C242.0,890.3 240.9,891.5 237.8,891.5 C234.7,891.5 229.1,889.7 223.8,888.0 C218.6,886.3 212.1,883.3 206.3,881.3 C200.5,879.3 194.5,877.7 188.8,876.1 C183.1,874.5 176.6,873.2 172.0,871.6 C167.4,870.0 163.5,868.4 161.0,866.5 C158.5,864.6 157.8,862.2 157.0,860.0 C156.2,857.8 154.8,854.9 156.5,853.0Z" fill="none" stroke="#8e1209" stroke-width="2.8" stroke-linejoin="round"/>
<path d="M162.5,860.3 C162.8,858.2 163.1,855.4 166.0,853.8 C168.9,852.1 174.7,850.9 180.0,850.4 C185.3,849.9 192.3,850.1 197.6,851.0 C202.9,851.9 208.1,853.7 211.6,855.5 C215.1,857.3 217.7,859.8 218.5,862.0 C219.3,864.2 218.7,867.0 216.6,868.6 C214.5,870.2 210.7,871.1 206.1,871.6 C201.5,872.1 194.6,871.9 188.8,871.6 C183.0,871.3 175.4,870.7 171.3,869.8 C167.2,868.9 165.8,868.0 164.3,866.4 C162.8,864.8 162.2,862.4 162.5,860.3Z" fill="none" stroke="#8e1209" stroke-width="2.8" stroke-linejoin="round"/>
<path d="M172.5,862.3 C172.6,860.7 175.4,858.3 178.0,857.3 C180.6,856.3 184.5,856.5 188.0,856.5 C191.5,856.5 196.4,856.5 199.0,857.5 C201.6,858.5 203.5,860.7 203.5,862.2 C203.5,863.8 201.6,865.9 199.0,866.8 C196.4,867.7 191.6,867.8 188.0,867.8 C184.4,867.8 180.1,867.7 177.5,866.8 C174.9,865.9 172.4,863.9 172.5,862.3Z" fill="none" stroke="#8e1209" stroke-width="2.8" stroke-linejoin="round"/>
<path d="M399.5,870.4 C397.4,876.0 397.8,887.3 397.4,895.8 C397.0,904.3 396.7,912.7 397.4,921.2 C398.1,929.7 398.8,941.3 401.6,946.6 C404.4,951.9 409.4,953.0 414.3,953.0 C419.2,953.0 426.3,949.8 431.2,946.6 C436.1,943.4 440.4,938.8 443.9,933.9 C447.4,929.0 450.3,922.6 452.4,917.0 C454.5,911.4 455.2,904.2 456.6,900.0 C458.0,895.8 457.4,893.7 460.9,891.6 C464.4,889.5 471.4,888.7 477.8,887.3 C484.2,885.9 491.9,883.5 499.0,883.1 C506.1,882.8 513.9,884.9 520.2,885.2 C526.6,885.6 532.9,887.0 537.1,885.2 C541.3,883.4 544.6,879.2 545.6,874.6 C546.6,870.0 546.2,862.3 543.4,857.7 C540.6,853.1 534.6,849.2 528.6,847.1 C522.6,845.0 513.8,846.0 507.4,845.0 C501.0,844.0 495.4,840.8 490.5,840.8 C485.6,840.8 481.3,842.9 477.8,845.0 C474.3,847.1 472.1,850.0 469.3,853.5 C466.5,857.0 464.4,864.8 460.9,866.2 C457.4,867.6 453.8,863.1 448.2,862.0 C442.6,860.9 433.4,859.8 427.0,859.8 C420.6,859.8 414.7,860.2 410.1,862.0 C405.5,863.8 401.6,864.8 399.5,870.4Z" fill="none" stroke="#8e1209" stroke-width="2.8" stroke-linejoin="round"/>
<path d="M406.5,871.5 C408.4,870.6 415.3,870.8 420.4,871.5 C425.5,872.2 432.9,873.4 437.0,875.7 C441.1,878.0 444.1,881.5 445.3,885.4 C446.5,889.3 445.4,894.7 444.0,899.3 C442.6,903.9 440.0,909.5 437.0,913.2 C434.0,916.9 429.6,920.1 425.9,921.5 C422.2,922.9 417.1,923.4 414.8,921.5 C412.5,919.6 412.7,915.5 412.0,910.4 C411.3,905.3 411.1,896.5 410.7,891.0 C410.2,885.5 410.0,880.4 409.3,877.1 C408.6,873.9 404.6,872.4 406.5,871.5Z" fill="none" stroke="#8e1209" stroke-width="6.2" stroke-linejoin="round"/>
<path d="M482.0,849.2 C485.2,846.0 494.4,844.3 499.0,845.0 C503.6,845.7 508.2,850.0 509.6,853.5 C511.0,857.0 510.6,863.4 507.4,866.2 C504.2,869.0 495.1,870.8 490.5,870.4 C485.9,870.0 481.4,867.5 480.0,864.0 C478.6,860.5 478.8,852.4 482.0,849.2Z" fill="none" stroke="#8e1209" stroke-width="6.2" stroke-linejoin="round"/>
<path d="M288.2,826.3 C291.3,825.2 294.8,824.8 298.4,825.5 C302.0,826.2 305.9,829.1 310.0,830.5 C314.1,831.9 317.4,833.5 323.3,834.1 C329.2,834.7 337.2,834.3 345.5,834.1 C353.8,833.9 365.3,833.2 373.2,832.7 C381.1,832.2 387.5,832.7 392.6,831.3 C397.7,829.9 402.1,827.9 403.7,824.4 C405.3,820.9 403.0,814.4 402.3,810.5 C401.6,806.6 398.9,803.8 399.6,800.8 C400.3,797.8 403.5,793.9 406.5,792.5 C409.5,791.1 413.9,791.6 417.6,792.5 C421.3,793.4 425.9,795.5 428.7,798.0 C431.5,800.5 432.3,804.9 434.2,807.7 C436.1,810.5 437.0,812.9 439.8,814.7 C442.6,816.6 447.7,816.7 450.9,818.8 C454.1,820.9 457.1,824.0 459.2,827.2 C461.3,830.5 462.9,834.6 463.4,838.3 C463.9,842.0 463.6,846.5 462.0,849.3 C460.4,852.1 457.4,854.0 453.7,854.9 C450.0,855.8 444.9,855.8 439.8,854.9 C434.7,854.0 428.2,850.7 423.1,849.3 C418.0,847.9 413.9,847.3 409.3,846.6 C404.7,845.9 400.5,845.4 395.4,845.2 C390.3,845.0 383.0,844.5 378.8,845.2 C374.6,845.9 372.2,846.8 370.4,849.3 C368.5,851.8 367.7,857.1 367.7,860.4 C367.7,863.6 368.1,866.0 370.4,868.8 C372.7,871.6 378.5,873.9 381.5,877.1 C384.5,880.3 387.3,884.0 388.5,888.2 C389.7,892.4 389.7,898.4 388.5,902.1 C387.3,905.8 384.5,909.0 381.5,910.4 C378.5,911.8 373.6,911.8 370.4,910.4 C367.2,909.0 364.4,905.8 362.1,902.1 C359.8,898.4 358.0,892.8 356.6,888.2 C355.2,883.6 355.7,877.5 353.8,874.3 C351.9,871.1 349.2,869.9 345.5,868.8 C341.8,867.6 336.3,866.9 331.6,867.4 C326.9,867.9 322.4,870.3 317.4,871.5 C312.3,872.7 306.4,874.5 301.3,874.5 C296.2,874.5 290.8,873.7 286.7,871.5 C282.6,869.3 278.4,865.9 276.5,861.3 C274.6,856.7 274.5,848.7 275.0,843.8 C275.5,838.9 277.3,834.9 279.5,832.0 C281.7,829.1 285.1,827.4 288.2,826.3Z" fill="none" stroke="#263bdc" stroke-width="2.8" stroke-dasharray="12,2.6,7,2.6"/>
<ellipse cx="307.9" cy="851.5" rx="25.5" ry="15" fill="none" stroke="#263bdc" stroke-width="5" stroke-dasharray="12,4"/>
<ellipse cx="303.9" cy="851.9" rx="12" ry="8" fill="none" stroke="#263bdc" stroke-width="2.6" stroke-dasharray="8,3,2.6,3"/>
<ellipse cx="439.5" cy="839.5" rx="21" ry="8.5" fill="none" stroke="#263bdc" stroke-width="5" stroke-dasharray="14,4"/>
<ellipse cx="485" cy="795" rx="14" ry="12" fill="none" stroke="#263bdc" stroke-width="3.2" stroke-dasharray="8,3.5"/>
<circle cx="375.6" cy="890.1" r="4.6" fill="#263bdc"/>
<path d="M148.6,757.1 C153.7,757.4 159.7,759.4 163.0,761.6 C166.3,763.9 167.7,767.3 168.3,770.6 C168.9,773.9 167.8,777.5 166.6,781.4 C165.4,785.3 163.6,789.5 161.2,794.0 C158.8,798.5 154.6,804.2 152.2,808.4 C149.8,812.6 148.0,815.0 146.8,819.2 C145.6,823.4 145.6,828.8 145.0,833.6 C144.4,838.4 144.1,843.2 143.2,848.0 C142.3,852.8 140.5,857.5 139.6,862.3 C138.7,867.1 137.5,872.5 137.8,876.7 C138.1,880.9 140.2,883.9 141.4,887.5 C142.6,891.1 144.7,894.7 145.0,898.3 C145.3,901.9 145.0,906.4 143.2,909.1 C141.4,911.8 137.5,913.5 134.2,914.5 C130.9,915.5 127.6,916.0 123.4,915.4 C119.2,914.8 113.8,913.4 109.0,910.9 C104.2,908.4 99.4,904.6 94.6,900.1 C89.8,895.6 84.4,889.0 80.2,883.9 C76.0,878.8 72.1,874.9 69.4,869.5 C66.7,864.1 64.9,857.5 64.0,851.5 C63.1,845.5 63.1,838.7 64.0,833.6 C64.9,828.5 67.0,824.9 69.4,821.0 C71.8,817.1 74.8,814.7 78.4,810.2 C82.0,805.7 86.8,799.1 91.0,794.0 C95.2,788.9 99.1,783.8 103.6,779.6 C108.1,775.4 113.2,772.1 118.0,768.8 C122.8,765.5 127.3,761.8 132.4,759.8 C137.5,757.8 143.5,756.8 148.6,757.1Z" fill="none" stroke="#263bdc" stroke-width="2.6" stroke-dasharray="11,3,4.5,3"/>
<path d="M118.0,801.2 C122.5,800.6 127.9,802.1 130.6,804.8 C133.3,807.5 133.0,812.6 134.2,817.4 C135.4,822.2 137.1,828.5 137.8,833.6 C138.6,838.7 139.3,843.2 138.7,848.0 C138.1,852.8 136.1,858.1 134.2,862.3 C132.2,866.5 129.4,869.5 127.0,873.1 C124.6,876.7 122.8,882.1 119.8,883.9 C116.8,885.7 113.2,885.4 109.0,883.9 C104.8,882.4 99.1,878.5 94.6,874.9 C90.1,871.3 85.3,866.5 82.0,862.3 C78.7,858.1 76.0,853.9 74.8,849.7 C73.6,845.5 73.6,841.1 74.8,837.2 C76.0,833.3 79.3,829.7 82.0,826.4 C84.7,823.1 87.4,820.4 91.0,817.4 C94.6,814.4 99.1,811.1 103.6,808.4 C108.1,805.7 113.5,801.8 118.0,801.2Z" fill="none" stroke="#263bdc" stroke-width="5.2" stroke-dasharray="18,4"/>
<path d="M100.0,841.0 C100.8,839.8 103.8,838.7 105.0,839.0 C106.2,839.3 107.7,841.5 107.5,843.0 C107.3,844.5 105.2,847.5 104.0,848.0 C102.8,848.5 101.2,847.2 100.5,846.0 C99.8,844.8 99.2,842.2 100.0,841.0Z" fill="none" stroke="#263bdc" stroke-width="2.6" stroke-dasharray="11,3,4.5,3"/>
</g>
<path d="M154.7,724.2 L163.7,724.2 L172.8,724.2 L181.8,724.2 L190.8,724.2 L199.9,724.2 L208.9,724.2 L218.0,724.2 L227.0,724.2 L236.1,724.2 L245.1,724.2 L254.2,724.2 L263.2,724.2 L272.3,724.2 L281.3,724.2 L290.4,724.2 L299.4,724.2 L308.5,724.2 L317.5,724.2 L326.5,724.2 L335.6,724.2 L344.6,724.2 L353.7,724.2 L362.7,724.2 L371.8,724.2 L380.8,724.2 L389.9,724.2 L398.9,724.2 L408.0,724.2 L417.0,724.2 L426.1,724.2 L435.1,724.2 L444.2,724.2 L453.2,724.2 L462.2,724.2 L471.3,724.2 L480.3,724.2 L480.3,724.2 L487.1,727.2 L493.9,730.2 L499.9,733.6 L505.8,736.9 L511.2,740.4 L516.6,744.0 L521.7,747.7 L526.8,751.4 L531.6,755.2 L536.4,759.0 L540.7,763.0 L545.0,766.9 L548.7,770.9 L552.4,775.0 L555.7,779.0 L559.1,783.1 L561.8,787.2 L564.6,791.3 L566.8,795.4 L569.1,799.6 L570.8,803.7 L572.5,807.8 L573.7,811.9 L574.9,816.0 L576.0,820.2 L577.0,824.3 L577.7,828.4 L578.4,832.5 L578.8,836.6 L579.2,840.8 L579.4,844.9 L579.6,849.0 L579.4,853.1 L579.2,857.2 L578.8,861.4 L578.4,865.5 L577.7,869.6 L577.0,873.7 L576.0,877.8 L574.9,882.0 L573.7,886.1 L572.5,890.2 L570.8,894.3 L569.1,898.4 L566.8,902.6 L564.6,906.7 L561.8,910.8 L559.1,914.9 L555.7,919.0 L552.4,923.0 L548.7,927.1 L545.0,931.1 L540.7,935.0 L536.4,939.0 L531.6,942.8 L526.8,946.6 L521.7,950.3 L516.6,954.0 L511.2,957.6 L505.8,961.1 L499.9,964.4 L493.9,967.8 L487.1,970.8 L480.3,973.8 L480.3,973.8 L471.3,973.8 L462.2,973.8 L453.2,973.8 L444.2,973.8 L435.1,973.8 L426.1,973.8 L417.0,973.8 L408.0,973.8 L398.9,973.8 L389.9,973.8 L380.8,973.8 L371.8,973.8 L362.7,973.8 L353.7,973.8 L344.6,973.8 L335.6,973.8 L326.5,973.8 L317.5,973.8 L308.5,973.8 L299.4,973.8 L290.4,973.8 L281.3,973.8 L272.3,973.8 L263.2,973.8 L254.2,973.8 L245.1,973.8 L236.1,973.8 L227.0,973.8 L218.0,973.8 L208.9,973.8 L199.9,973.8 L190.8,973.8 L181.8,973.8 L172.8,973.8 L163.7,973.8 L154.7,973.8 L154.7,973.8 L147.9,970.8 L141.1,967.8 L135.1,964.4 L129.2,961.1 L123.8,957.6 L118.4,954.0 L113.3,950.3 L108.2,946.6 L103.4,942.8 L98.6,939.0 L94.3,935.0 L90.0,931.1 L86.3,927.1 L82.6,923.0 L79.3,919.0 L75.9,914.9 L73.2,910.8 L70.4,906.7 L68.2,902.6 L65.9,898.4 L64.2,894.3 L62.5,890.2 L61.3,886.1 L60.1,882.0 L59.0,877.8 L58.0,873.7 L57.3,869.6 L56.6,865.5 L56.2,861.4 L55.8,857.2 L55.6,853.1 L55.4,849.0 L55.6,844.9 L55.8,840.8 L56.2,836.6 L56.6,832.5 L57.3,828.4 L58.0,824.3 L59.0,820.2 L60.1,816.0 L61.3,811.9 L62.5,807.8 L64.2,803.7 L65.9,799.6 L68.2,795.4 L70.4,791.3 L73.2,787.2 L75.9,783.1 L79.3,779.0 L82.6,775.0 L86.3,770.9 L90.0,766.9 L94.3,763.0 L98.6,759.0 L103.4,755.2 L108.2,751.4 L113.3,747.7 L118.4,744.0 L123.8,740.4 L129.2,736.9 L135.1,733.6 L141.1,730.2 L147.9,727.2 L154.7,724.2 Z" fill="none" stroke="#000" stroke-width="2.6"/>
<g style="font-family:'Liberation Serif','Times New Roman',serif;font-size:27.6px"><text x="99.7" y="760.7" text-anchor="end">60°N</text>
<line x1="108.2" y1="751.4" x2="112.7" y2="751.4" stroke="#000" stroke-width="2.2"/>
<line x1="526.8" y1="751.4" x2="522.3" y2="751.4" stroke="#000" stroke-width="2.2"/>
<text x="57.4" y="808.9" text-anchor="end">30°N</text>
<line x1="65.9" y1="799.6" x2="70.4" y2="799.6" stroke="#000" stroke-width="2.2"/>
<line x1="569.1" y1="799.6" x2="564.6" y2="799.6" stroke="#000" stroke-width="2.2"/>
<text x="41.4" y="858.3" text-anchor="end">0°</text>
<line x1="55.4" y1="849.0" x2="59.9" y2="849.0" stroke="#000" stroke-width="2.2"/>
<line x1="579.6" y1="849.0" x2="575.1" y2="849.0" stroke="#000" stroke-width="2.2"/>
<text x="57.4" y="907.7" text-anchor="end">30°S</text>
<line x1="65.9" y1="898.4" x2="70.4" y2="898.4" stroke="#000" stroke-width="2.2"/>
<line x1="569.1" y1="898.4" x2="564.6" y2="898.4" stroke="#000" stroke-width="2.2"/>
<text x="99.7" y="955.9" text-anchor="end">60°S</text>
<line x1="108.2" y1="946.6" x2="112.7" y2="946.6" stroke="#000" stroke-width="2.2"/>
<line x1="526.8" y1="946.6" x2="522.3" y2="946.6" stroke="#000" stroke-width="2.2"/>
<line x1="208.9" y1="724.2" x2="208.9" y2="728.7" stroke="#000" stroke-width="2.2"/>
<line x1="208.9" y1="973.8" x2="208.9" y2="969.3" stroke="#000" stroke-width="2.2"/>
<line x1="317.5" y1="724.2" x2="317.5" y2="728.7" stroke="#000" stroke-width="2.2"/>
<line x1="317.5" y1="973.8" x2="317.5" y2="969.3" stroke="#000" stroke-width="2.2"/>
<line x1="426.1" y1="724.2" x2="426.1" y2="728.7" stroke="#000" stroke-width="2.2"/>
<line x1="426.1" y1="973.8" x2="426.1" y2="969.3" stroke="#000" stroke-width="2.2"/></g>
<rect x="599.5" y="251.80" width="25.5" height="22.00" fill="#ffffff"/>
<rect x="599.5" y="230.10" width="25.5" height="22.00" fill="#f7f6d2"/>
<rect x="599.5" y="208.40" width="25.5" height="22.00" fill="#eeea70"/>
<rect x="599.5" y="186.70" width="25.5" height="22.00" fill="#eacb45"/>
<rect x="599.5" y="165.00" width="25.5" height="22.00" fill="#eaa43b"/>
<rect x="599.5" y="143.30" width="25.5" height="22.00" fill="#ec8d3a"/>
<rect x="599.5" y="121.60" width="25.5" height="22.00" fill="#ef6b36"/>
<rect x="599.5" y="99.90" width="25.5" height="22.00" fill="#f4511d"/>
<rect x="599.5" y="78.20" width="25.5" height="22.00" fill="#e32c23"/>
<rect x="599.5" y="56.50" width="25.5" height="22.00" fill="#c8291f"/>
<rect x="599.5" y="56.5" width="25.5" height="217.0" fill="none" stroke="#222" stroke-width="2.6"/>
<line x1="613" y1="165.0" x2="625" y2="165.0" stroke="#222" stroke-width="2"/>
<g style="font-family:'Liberation Serif','Times New Roman',serif;font-size:27.6px">
<text x="634.5" y="66.0">100</text><text x="634.5" y="174.5">95</text><text x="634.5" y="283.0">90</text></g>
<rect x="599.5" y="916.33" width="26.0" height="45.47" fill="#1c3462"/>
<rect x="599.5" y="871.17" width="26.0" height="45.47" fill="#3a6db2"/>
<rect x="599.5" y="826.00" width="26.0" height="45.47" fill="#5a9fc9"/>
<rect x="599.5" y="780.83" width="26.0" height="45.47" fill="#97c7dd"/>
<rect x="599.5" y="735.67" width="26.0" height="45.47" fill="#d3e6ef"/>
<rect x="599.5" y="690.50" width="26.0" height="45.47" fill="#ffffff"/>
<rect x="599.5" y="645.33" width="26.0" height="45.47" fill="#ffffff"/>
<rect x="599.5" y="600.17" width="26.0" height="45.47" fill="#f6dac9"/>
<rect x="599.5" y="555.00" width="26.0" height="45.47" fill="#eaa184"/>
<rect x="599.5" y="509.83" width="26.0" height="45.47" fill="#d5604e"/>
<rect x="599.5" y="464.67" width="26.0" height="45.47" fill="#b02331"/>
<rect x="599.5" y="419.50" width="26.0" height="45.47" fill="#670a24"/>
<rect x="599.5" y="419.5" width="26.0" height="542.0" fill="none" stroke="#222" stroke-width="2.6"/>
<g style="font-family:'Liberation Serif','Times New Roman',serif;font-size:27.6px">
<text x="634.5" y="429.0">120</text>
<line x1="613.5" y1="509.8" x2="625.5" y2="509.8" stroke="#222" stroke-width="2"/>
<text x="634.5" y="519.3">80</text>
<line x1="613.5" y1="600.2" x2="625.5" y2="600.2" stroke="#222" stroke-width="2"/>
<text x="634.5" y="609.7">40</text>
<line x1="613.5" y1="690.5" x2="625.5" y2="690.5" stroke="#222" stroke-width="2"/>
<text x="634.5" y="700.0">0</text>
<line x1="613.5" y1="780.8" x2="625.5" y2="780.8" stroke="#222" stroke-width="2"/>
<text x="634.5" y="790.3">-40</text>
<line x1="613.5" y1="871.2" x2="625.5" y2="871.2" stroke="#222" stroke-width="2"/>
<text x="634.5" y="880.7">-80</text>
<text x="634.5" y="971.0">-120</text>
<text x="599.6" y="403.8" style="font-size:30.5px">m</text>
</g>
<g style="font-family:'Liberation Serif','Times New Roman',serif;font-size:28.1px">
<text x="1.2" y="20.8"><tspan font-weight="bold">a.</tspan><tspan x="33.6">Percentile of SST ano</tspan></text>
<text x="2" y="356.5" style="font-size:27.9px"><tspan font-weight="bold">b.</tspan><tspan x="35.5">VP &amp; Z at 200 hPa in SON of 1982/1997/2015</tspan></text>
<text x="2" y="703.7" style="font-size:27.9px"><tspan font-weight="bold">c.</tspan><tspan x="35.5">VP &amp; Z at 200 hPa in SON of 2023</tspan></text>
</g>
<line x1="180" y1="653" x2="227" y2="653" stroke="#8e1209" stroke-width="5.6"/>
<line x1="391.4" y1="653" x2="434.2" y2="653" stroke="#263bdc" stroke-width="5.5" stroke-dasharray="24.5,6.3"/>
<g style="font-family:'Liberation Serif','Times New Roman',serif;font-size:28.3px"><text x="231.8" y="662.5">Convergence</text><text x="441.8" y="662.5">Divergence</text></g>
<g style="font-family:'Liberation Serif','Times New Roman',serif;font-size:28.2px" text-anchor="middle"><text x="212" y="998.6">60°E</text><text x="314.5" y="998.6">180°</text><text x="429" y="998.6">60°W</text></g>
</svg>
</body></html>
